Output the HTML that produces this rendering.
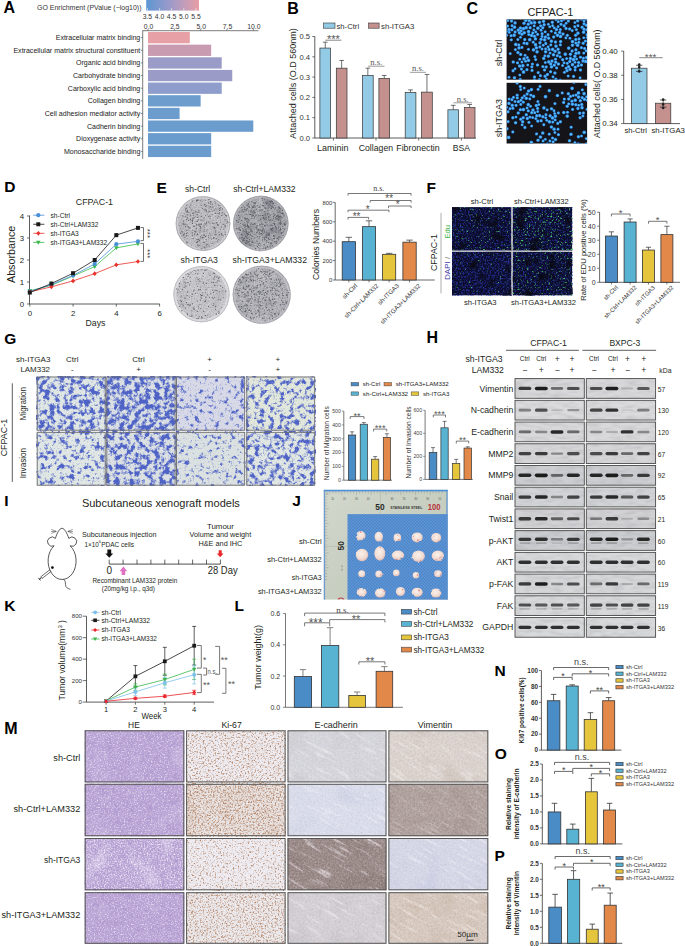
<!DOCTYPE html><html><head><meta charset="utf-8"><style>html,body{margin:0;padding:0;background:#fff;width:685px;height:946px;overflow:hidden}svg{display:block;font-family:"Liberation Sans",sans-serif}</style></head><body>
<svg width="685" height="946" viewBox="0 0 685 946" fill="#231f20" font-size="8">
<rect x="0" y="0" width="685" height="946" fill="#fff"/>
<text x="3.5" y="13.4" font-weight="bold" fill="#000" font-size="16">A</text>
<text x="37" y="9.6" fill="#333" font-size="7" textLength="104.5" lengthAdjust="spacingAndGlyphs">GO Enrichment (PValue (−log10))</text>
<defs><linearGradient id="gA" x1="0" x2="1" y1="0" y2="0"><stop offset="0" stop-color="#5d96d3"/><stop offset="0.5" stop-color="#a39bc8"/><stop offset="1" stop-color="#e99ea5"/></linearGradient></defs>
<rect x="146.2" y="0" width="52.8" height="10.6" fill="url(#gA)"/>
<line x1="147.4" y1="8.2" x2="147.4" y2="10.6" stroke="#fff" stroke-width="0.6"/>
<line x1="159.6" y1="8.2" x2="159.6" y2="10.6" stroke="#fff" stroke-width="0.6"/>
<line x1="171.6" y1="8.2" x2="171.6" y2="10.6" stroke="#fff" stroke-width="0.6"/>
<line x1="183.8" y1="8.2" x2="183.8" y2="10.6" stroke="#fff" stroke-width="0.6"/>
<line x1="196" y1="8.2" x2="196" y2="10.6" stroke="#fff" stroke-width="0.6"/>
<text x="147.4" y="18.8" text-anchor="middle" fill="#333" font-size="6.8">3.5</text>
<text x="159.6" y="18.8" text-anchor="middle" fill="#333" font-size="6.8">4.0</text>
<text x="171.6" y="18.8" text-anchor="middle" fill="#333" font-size="6.8">4.5</text>
<text x="183.8" y="18.8" text-anchor="middle" fill="#333" font-size="6.8">5.0</text>
<text x="196" y="18.8" text-anchor="middle" fill="#333" font-size="6.8">5.5</text>
<line x1="142.7" y1="30.7" x2="258.5" y2="30.7" stroke="#444" stroke-width="0.7"/>
<line x1="142.7" y1="30.4" x2="142.7" y2="158.8" stroke="#444" stroke-width="0.7"/>
<line x1="148" y1="29" x2="148" y2="30.7" stroke="#444" stroke-width="0.6"/>
<text x="148.6" y="29" text-anchor="middle" fill="#333" font-size="6.8">0.0</text>
<line x1="174.32" y1="29" x2="174.32" y2="30.7" stroke="#444" stroke-width="0.6"/>
<text x="174.92" y="29" text-anchor="middle" fill="#333" font-size="6.8">2.5</text>
<line x1="200.65" y1="29" x2="200.65" y2="30.7" stroke="#444" stroke-width="0.6"/>
<text x="201.25" y="29" text-anchor="middle" fill="#333" font-size="6.8">5.0</text>
<line x1="226.97" y1="29" x2="226.97" y2="30.7" stroke="#444" stroke-width="0.6"/>
<text x="227.57" y="29" text-anchor="middle" fill="#333" font-size="6.8">7.5</text>
<line x1="253.3" y1="29" x2="253.3" y2="30.7" stroke="#444" stroke-width="0.6"/>
<text x="253.9" y="29" text-anchor="middle" fill="#333" font-size="6.8">10.0</text>
<rect x="148" y="32" width="41.8" height="11.3" fill="#e7a0a5"/>
<line x1="140.8" y1="37.65" x2="142.7" y2="37.65" stroke="#444" stroke-width="0.6"/>
<text x="140.3" y="40.15" text-anchor="end" fill="#222" font-size="7.05">Extracellular matrix binding</text>
<rect x="148" y="44.64" width="63.18" height="11.3" fill="#c99bb0"/>
<line x1="140.8" y1="50.29" x2="142.7" y2="50.29" stroke="#444" stroke-width="0.6"/>
<text x="140.3" y="52.79" text-anchor="end" fill="#222" font-size="7.05">Extracellular matrix structural constituent</text>
<rect x="148" y="57.28" width="73.71" height="11.3" fill="#9a9bc7"/>
<line x1="140.8" y1="62.93" x2="142.7" y2="62.93" stroke="#444" stroke-width="0.6"/>
<text x="140.3" y="65.43" text-anchor="end" fill="#222" font-size="7.05">Organic acid binding</text>
<rect x="148" y="69.92" width="84.24" height="11.3" fill="#9a9bc7"/>
<line x1="140.8" y1="75.57" x2="142.7" y2="75.57" stroke="#444" stroke-width="0.6"/>
<text x="140.3" y="78.07" text-anchor="end" fill="#222" font-size="7.05">Carbohydrate binding</text>
<rect x="148" y="82.56" width="73.71" height="11.3" fill="#8e9dcb"/>
<line x1="140.8" y1="88.21" x2="142.7" y2="88.21" stroke="#444" stroke-width="0.6"/>
<text x="140.3" y="90.71" text-anchor="end" fill="#222" font-size="7.05">Carboxylic acid binding</text>
<rect x="148" y="95.2" width="52.65" height="11.3" fill="#6c9dcd"/>
<line x1="140.8" y1="100.85" x2="142.7" y2="100.85" stroke="#444" stroke-width="0.6"/>
<text x="140.3" y="103.35" text-anchor="end" fill="#222" font-size="7.05">Collagen binding</text>
<rect x="148" y="107.84" width="31.59" height="11.3" fill="#6b9ccd"/>
<line x1="140.8" y1="113.49" x2="142.7" y2="113.49" stroke="#444" stroke-width="0.6"/>
<text x="140.3" y="115.99" text-anchor="end" fill="#222" font-size="7.05">Cell adhesion mediator activity</text>
<rect x="148" y="120.48" width="105.3" height="11.3" fill="#6a9ccd"/>
<line x1="140.8" y1="126.13" x2="142.7" y2="126.13" stroke="#444" stroke-width="0.6"/>
<text x="140.3" y="128.63" text-anchor="end" fill="#222" font-size="7.05">Cadherin binding</text>
<rect x="148" y="133.12" width="63.18" height="11.3" fill="#6a9ccd"/>
<line x1="140.8" y1="138.77" x2="142.7" y2="138.77" stroke="#444" stroke-width="0.6"/>
<text x="140.3" y="141.27" text-anchor="end" fill="#222" font-size="7.05">Dioxygenase activity</text>
<rect x="148" y="145.76" width="63.18" height="11.3" fill="#6a9ccd"/>
<line x1="140.8" y1="151.41" x2="142.7" y2="151.41" stroke="#444" stroke-width="0.6"/>
<text x="140.3" y="153.91" text-anchor="end" fill="#222" font-size="7.05">Monosaccharide binding</text>
<text x="287.3" y="13.6" font-weight="bold" fill="#000" font-size="16">B</text>
<rect x="323.5" y="23" width="11.5" height="5.2" fill="#93cbe6" stroke="#333" stroke-width="0.6"/>
<text x="336.5" y="28.6" fill="#333" font-size="7.7">sh-Ctrl</text>
<rect x="368.6" y="23" width="10.5" height="5.2" fill="#c4918f" stroke="#333" stroke-width="0.6"/>
<text x="381" y="28.6" fill="#333" font-size="7.8">sh-ITGA3</text>
<line x1="314.8" y1="36.4" x2="314.8" y2="138" stroke="#333" stroke-width="0.8"/>
<line x1="314.8" y1="138" x2="476" y2="138" stroke="#333" stroke-width="0.8"/>
<line x1="312.3" y1="138" x2="314.8" y2="138" stroke="#333" stroke-width="0.7"/>
<text x="310" y="140.7" text-anchor="end" fill="#333" font-size="7.6">0.0</text>
<line x1="312.3" y1="117.7" x2="314.8" y2="117.7" stroke="#333" stroke-width="0.7"/>
<text x="310" y="120.4" text-anchor="end" fill="#333" font-size="7.6">0.1</text>
<line x1="312.3" y1="97.4" x2="314.8" y2="97.4" stroke="#333" stroke-width="0.7"/>
<text x="310" y="100.1" text-anchor="end" fill="#333" font-size="7.6">0.2</text>
<line x1="312.3" y1="77.1" x2="314.8" y2="77.1" stroke="#333" stroke-width="0.7"/>
<text x="310" y="79.8" text-anchor="end" fill="#333" font-size="7.6">0.3</text>
<line x1="312.3" y1="56.8" x2="314.8" y2="56.8" stroke="#333" stroke-width="0.7"/>
<text x="310" y="59.5" text-anchor="end" fill="#333" font-size="7.6">0.4</text>
<line x1="312.3" y1="36.5" x2="314.8" y2="36.5" stroke="#333" stroke-width="0.7"/>
<text x="310" y="39.2" text-anchor="end" fill="#333" font-size="7.6">0.5</text>
<text x="295.75" y="83.5" text-anchor="middle" font-size="8.8" transform="rotate(-90 295.75 83.5)" textLength="110.5" lengthAdjust="spacingAndGlyphs">Attached cells (O.D 560nm)</text>
<line x1="325.25" y1="48.07" x2="325.25" y2="42.18" stroke="#333" stroke-width="0.7"/>
<line x1="322.95" y1="42.18" x2="327.55" y2="42.18" stroke="#333" stroke-width="0.7"/>
<rect x="319.9" y="48.07" width="10.7" height="89.93" fill="#93cbe6" stroke="#333" stroke-width="0.7"/>
<line x1="341.65" y1="68.17" x2="341.65" y2="60.45" stroke="#333" stroke-width="0.7"/>
<line x1="339.35" y1="60.45" x2="343.95" y2="60.45" stroke="#333" stroke-width="0.7"/>
<rect x="336.3" y="68.17" width="10.7" height="69.83" fill="#c4918f" stroke="#333" stroke-width="0.7"/>
<line x1="333.4" y1="138" x2="333.4" y2="140.5" stroke="#333" stroke-width="0.7"/>
<line x1="367.85" y1="75.48" x2="367.85" y2="68.17" stroke="#333" stroke-width="0.7"/>
<line x1="365.55" y1="68.17" x2="370.15" y2="68.17" stroke="#333" stroke-width="0.7"/>
<rect x="362.5" y="75.48" width="10.7" height="62.52" fill="#93cbe6" stroke="#333" stroke-width="0.7"/>
<line x1="384.25" y1="78.52" x2="384.25" y2="75.48" stroke="#333" stroke-width="0.7"/>
<line x1="381.95" y1="75.48" x2="386.55" y2="75.48" stroke="#333" stroke-width="0.7"/>
<rect x="378.9" y="78.52" width="10.7" height="59.48" fill="#c4918f" stroke="#333" stroke-width="0.7"/>
<line x1="376" y1="138" x2="376" y2="140.5" stroke="#333" stroke-width="0.7"/>
<line x1="410.55" y1="92.53" x2="410.55" y2="89.89" stroke="#333" stroke-width="0.7"/>
<line x1="408.25" y1="89.89" x2="412.85" y2="89.89" stroke="#333" stroke-width="0.7"/>
<rect x="405.2" y="92.53" width="10.7" height="45.47" fill="#93cbe6" stroke="#333" stroke-width="0.7"/>
<line x1="426.95" y1="92.12" x2="426.95" y2="74.46" stroke="#333" stroke-width="0.7"/>
<line x1="424.65" y1="74.46" x2="429.25" y2="74.46" stroke="#333" stroke-width="0.7"/>
<rect x="421.6" y="92.12" width="10.7" height="45.88" fill="#c4918f" stroke="#333" stroke-width="0.7"/>
<line x1="418.7" y1="138" x2="418.7" y2="140.5" stroke="#333" stroke-width="0.7"/>
<line x1="453.25" y1="109.78" x2="453.25" y2="105.32" stroke="#333" stroke-width="0.7"/>
<line x1="450.95" y1="105.32" x2="455.55" y2="105.32" stroke="#333" stroke-width="0.7"/>
<rect x="447.9" y="109.78" width="10.7" height="28.22" fill="#93cbe6" stroke="#333" stroke-width="0.7"/>
<line x1="469.65" y1="107.55" x2="469.65" y2="104.5" stroke="#333" stroke-width="0.7"/>
<line x1="467.35" y1="104.5" x2="471.95" y2="104.5" stroke="#333" stroke-width="0.7"/>
<rect x="464.3" y="107.55" width="10.7" height="30.45" fill="#c4918f" stroke="#333" stroke-width="0.7"/>
<line x1="461.4" y1="138" x2="461.4" y2="140.5" stroke="#333" stroke-width="0.7"/>
<text x="332.7" y="150.95" text-anchor="middle" font-size="8.8" textLength="31.4" lengthAdjust="spacingAndGlyphs">Laminin</text>
<text x="375.9" y="150.95" text-anchor="middle" font-size="8.8" textLength="34.3" lengthAdjust="spacingAndGlyphs">Collagen</text>
<text x="418" y="150.95" text-anchor="middle" font-size="8.8" textLength="43.4" lengthAdjust="spacingAndGlyphs">Fibronectin</text>
<text x="461.4" y="150.95" text-anchor="middle" font-size="8.8" textLength="17.2" lengthAdjust="spacingAndGlyphs">BSA</text>
<line x1="325.3" y1="40.2" x2="341.4" y2="40.2" stroke="#555" stroke-width="0.7"/>
<text x="333.4" y="42.52" text-anchor="middle" fill="#555" font-size="11">***</text>
<line x1="368.1" y1="66.2" x2="384.5" y2="66.2" stroke="#555" stroke-width="0.6"/>
<text x="376.3" y="65.3" text-anchor="middle" fill="#555" font-size="8.6" style="font-family:Liberation Serif">n.s.</text>
<line x1="410" y1="72.3" x2="426" y2="72.3" stroke="#555" stroke-width="0.6"/>
<text x="418" y="71.4" text-anchor="middle" fill="#555" font-size="8.6" style="font-family:Liberation Serif">n.s.</text>
<line x1="453.4" y1="102.8" x2="472" y2="102.8" stroke="#555" stroke-width="0.6"/>
<text x="462.7" y="101.9" text-anchor="middle" fill="#555" font-size="8.6" style="font-family:Liberation Serif">n.s.</text>
<text x="466.4" y="13.5" font-weight="bold" fill="#000" font-size="16">C</text>
<text x="550.4" y="16.45" text-anchor="middle" font-size="10.2" textLength="46" lengthAdjust="spacingAndGlyphs">CFPAC-1</text>
<defs><filter id="nb" x="-5%" y="-5%" width="110%" height="110%"><feGaussianBlur stdDeviation="0.35"/></filter><radialGradient id="gN"><stop offset="0" stop-color="#66ccff"/><stop offset="0.55" stop-color="#42a8f2"/><stop offset="1" stop-color="#2a6ecc"/></radialGradient></defs>
<rect x="506.6" y="19.4" width="80.5" height="60.3" fill="#141419"/>
<clipPath id="cc1"><rect x="506.6" y="19.4" width="80.5" height="60.3"/></clipPath>
<g clip-path="url(#cc1)"><g fill="url(#gN)" filter="url(#nb)"><circle cx="562.69" cy="59.73" r="1.75"/><circle cx="580.49" cy="57.2" r="1.66"/><circle cx="555.48" cy="42.01" r="1.69"/><circle cx="569.76" cy="61.53" r="1.76"/><circle cx="570.46" cy="54.19" r="1.76"/><circle cx="581.37" cy="47.69" r="1.67"/><circle cx="583.74" cy="37.72" r="1.52"/><circle cx="566.08" cy="23.23" r="1.55"/><circle cx="562.56" cy="65.51" r="1.55"/><circle cx="543.24" cy="45.23" r="1.57"/><circle cx="566.15" cy="68.13" r="1.53"/><circle cx="511.51" cy="21.09" r="1.75"/><circle cx="543.72" cy="58.39" r="1.78"/><circle cx="539.88" cy="47.03" r="1.69"/><circle cx="527.7" cy="64.98" r="1.53"/><circle cx="560.32" cy="80.05" r="1.5"/><circle cx="574.84" cy="56.33" r="1.8"/><circle cx="514.15" cy="35.21" r="1.86"/><circle cx="567.3" cy="63.33" r="1.59"/><circle cx="539.32" cy="79.71" r="1.69"/><circle cx="521.4" cy="69.11" r="1.6"/><circle cx="531.84" cy="66.86" r="1.63"/><circle cx="585.42" cy="41.09" r="1.69"/><circle cx="575.1" cy="70.11" r="1.52"/><circle cx="544.56" cy="69.98" r="1.68"/><circle cx="526.97" cy="43.58" r="1.8"/><circle cx="587.33" cy="44.78" r="1.55"/><circle cx="588.97" cy="26.86" r="1.78"/><circle cx="545.32" cy="62.47" r="1.54"/><circle cx="534.42" cy="36.27" r="1.75"/><circle cx="545.4" cy="36.91" r="1.7"/><circle cx="512.05" cy="25.65" r="1.54"/><circle cx="528.52" cy="60.38" r="1.79"/><circle cx="558.3" cy="21.64" r="1.61"/><circle cx="517.84" cy="39.53" r="1.57"/><circle cx="587.11" cy="34.67" r="1.68"/><circle cx="586.86" cy="29.76" r="1.8"/><circle cx="525.66" cy="61.16" r="1.6"/><circle cx="583.72" cy="53.11" r="1.6"/><circle cx="569.59" cy="28.93" r="1.7"/><circle cx="533.82" cy="29.82" r="1.55"/><circle cx="540.67" cy="25.86" r="1.66"/><circle cx="577.63" cy="45.17" r="1.87"/><circle cx="582.13" cy="27.28" r="1.8"/><circle cx="548.06" cy="46.84" r="1.59"/><circle cx="588.68" cy="18.62" r="1.58"/><circle cx="575" cy="62.25" r="1.54"/><circle cx="532.78" cy="33.03" r="1.66"/><circle cx="555.37" cy="32.88" r="1.68"/><circle cx="573.43" cy="59.65" r="1.87"/><circle cx="545.77" cy="43.49" r="1.65"/><circle cx="528.77" cy="34.52" r="1.63"/><circle cx="515.14" cy="31.96" r="1.69"/><circle cx="517.51" cy="62.84" r="1.68"/><circle cx="519.66" cy="65.98" r="1.84"/><circle cx="570.41" cy="58.39" r="1.8"/><circle cx="522.88" cy="65.69" r="1.84"/><circle cx="528.45" cy="49.3" r="1.52"/><circle cx="565.26" cy="54.19" r="1.84"/><circle cx="584.06" cy="23.79" r="1.68"/><circle cx="572.48" cy="64.65" r="1.82"/><circle cx="532.42" cy="64.03" r="1.61"/><circle cx="523.57" cy="71.99" r="1.89"/><circle cx="544.68" cy="39.78" r="1.88"/><circle cx="569.91" cy="38.17" r="1.52"/><circle cx="564.41" cy="72.34" r="1.57"/><circle cx="520.47" cy="37.33" r="1.51"/><circle cx="568.19" cy="75.94" r="1.55"/><circle cx="533.45" cy="49.89" r="1.83"/><circle cx="520.69" cy="54.51" r="1.73"/><circle cx="534.67" cy="22.61" r="1.8"/><circle cx="566.06" cy="28.48" r="1.73"/><circle cx="561.02" cy="24.3" r="1.67"/><circle cx="578.63" cy="62.56" r="1.69"/><circle cx="555.07" cy="51.26" r="1.8"/><circle cx="544.9" cy="55.71" r="1.51"/><circle cx="553" cy="76.85" r="1.55"/><circle cx="560.2" cy="56.77" r="1.61"/><circle cx="510.25" cy="53.6" r="1.53"/><circle cx="540.45" cy="75.68" r="1.61"/><circle cx="542.07" cy="36.43" r="1.59"/><circle cx="575.24" cy="67.27" r="1.71"/><circle cx="554.3" cy="27.82" r="1.57"/><circle cx="575.9" cy="49.7" r="1.74"/><circle cx="531.28" cy="22.89" r="1.82"/><circle cx="578.7" cy="52.83" r="1.87"/><circle cx="545.66" cy="51.73" r="1.85"/><circle cx="576.57" cy="59.07" r="1.55"/><circle cx="526.12" cy="27.7" r="1.9"/><circle cx="586.35" cy="25.33" r="1.73"/><circle cx="507.55" cy="26.06" r="1.66"/><circle cx="550.58" cy="71.75" r="1.7"/><circle cx="532.05" cy="70.4" r="1.7"/><circle cx="559.12" cy="52.73" r="1.85"/><circle cx="536.4" cy="47.8" r="1.84"/><circle cx="537.91" cy="28.16" r="1.9"/><circle cx="541.07" cy="30.19" r="1.59"/><circle cx="553.52" cy="54.76" r="1.85"/><circle cx="546.34" cy="79.02" r="1.51"/><circle cx="549.04" cy="49.42" r="1.72"/><circle cx="535.47" cy="38.88" r="1.78"/><circle cx="528.53" cy="31.52" r="1.88"/><circle cx="584.6" cy="48.46" r="1.65"/><circle cx="584.02" cy="21.09" r="1.57"/><circle cx="572.1" cy="51.06" r="1.74"/><circle cx="545.06" cy="76.29" r="1.73"/><circle cx="550.65" cy="63.85" r="1.82"/><circle cx="534.18" cy="25.81" r="1.62"/><circle cx="575.75" cy="39.44" r="1.71"/><circle cx="534.86" cy="56.59" r="1.61"/><circle cx="560.33" cy="29.58" r="1.64"/><circle cx="534.52" cy="76.94" r="1.7"/><circle cx="514.57" cy="27.13" r="1.84"/><circle cx="550.76" cy="44.86" r="1.54"/><circle cx="558.11" cy="26.62" r="1.55"/><circle cx="568.61" cy="66.72" r="1.81"/><circle cx="545.22" cy="31.75" r="1.6"/><circle cx="581.72" cy="18.95" r="1.88"/><circle cx="539.98" cy="42.87" r="1.82"/><circle cx="566.63" cy="58.51" r="1.51"/><circle cx="549.73" cy="26.71" r="1.57"/><circle cx="574.77" cy="26.71" r="1.6"/><circle cx="583.17" cy="43.23" r="1.76"/><circle cx="524.07" cy="43.14" r="1.69"/><circle cx="544.13" cy="24.67" r="1.79"/><circle cx="552.65" cy="49.39" r="1.87"/><circle cx="550.87" cy="80.9" r="1.66"/><circle cx="580.49" cy="69.96" r="1.7"/><circle cx="517.52" cy="18.02" r="1.54"/><circle cx="537.62" cy="34.39" r="1.61"/><circle cx="523.46" cy="28.64" r="1.83"/><circle cx="519.45" cy="32.89" r="1.8"/><circle cx="515.77" cy="44.48" r="1.88"/><circle cx="576.62" cy="17.73" r="1.86"/><circle cx="588.12" cy="22.26" r="1.6"/><circle cx="586.46" cy="57.47" r="1.72"/><circle cx="525.78" cy="20.34" r="1.88"/><circle cx="561.55" cy="20.79" r="1.66"/><circle cx="521.94" cy="34.22" r="1.67"/><circle cx="526.92" cy="69.63" r="1.69"/><circle cx="580.12" cy="77.65" r="1.52"/><circle cx="529.21" cy="20.59" r="1.86"/><circle cx="555.53" cy="59.2" r="1.62"/><circle cx="515.06" cy="68.72" r="1.53"/><circle cx="507.58" cy="20.38" r="1.72"/><circle cx="579.01" cy="38.99" r="1.73"/><circle cx="506.58" cy="35.14" r="1.65"/><circle cx="504.85" cy="24.76" r="1.68"/><circle cx="533.24" cy="42.18" r="1.62"/><circle cx="560.52" cy="36.4" r="1.87"/><circle cx="578.2" cy="65.66" r="1.7"/><circle cx="583.66" cy="32.13" r="1.87"/><circle cx="509.02" cy="77.29" r="1.51"/><circle cx="564.17" cy="25.83" r="1.81"/><circle cx="548.63" cy="38.19" r="1.76"/><circle cx="584.03" cy="29.24" r="1.76"/><circle cx="511.06" cy="35.65" r="1.65"/><circle cx="575.65" cy="35.17" r="1.73"/><circle cx="524.3" cy="32.78" r="1.82"/><circle cx="548.33" cy="56.13" r="1.8"/><circle cx="555.91" cy="79.28" r="1.77"/><circle cx="587.16" cy="37.41" r="1.52"/><circle cx="529.75" cy="39.65" r="1.88"/><circle cx="528.24" cy="24.19" r="1.73"/><circle cx="511.28" cy="39.85" r="1.7"/><circle cx="558.07" cy="49.29" r="1.7"/><circle cx="518.32" cy="30.07" r="1.87"/><circle cx="524.76" cy="39.55" r="1.71"/><circle cx="562.97" cy="34.05" r="1.76"/><circle cx="555.67" cy="62.2" r="1.77"/><circle cx="535.67" cy="59.54" r="1.61"/><circle cx="508.95" cy="29.5" r="1.63"/><circle cx="515.06" cy="22.93" r="1.82"/><circle cx="545.55" cy="48.78" r="1.51"/><circle cx="535.55" cy="44.72" r="1.86"/><circle cx="572.21" cy="30.6" r="1.56"/><circle cx="568.33" cy="21.05" r="1.73"/><circle cx="548.75" cy="61.89" r="1.8"/><circle cx="554.92" cy="73.03" r="1.82"/><circle cx="519.79" cy="59.19" r="1.53"/><circle cx="577.7" cy="20.77" r="1.85"/><circle cx="542.06" cy="49.01" r="1.56"/><circle cx="535.76" cy="31.86" r="1.54"/><circle cx="538.22" cy="72.61" r="1.67"/><circle cx="546.16" cy="66.94" r="1.72"/><circle cx="575.78" cy="43.03" r="1.6"/><circle cx="524.04" cy="58.87" r="1.86"/><circle cx="560.61" cy="41.54" r="1.78"/><circle cx="539.46" cy="22.37" r="1.76"/><circle cx="537.52" cy="65.03" r="1.72"/><circle cx="577.95" cy="25.68" r="1.61"/><circle cx="565.83" cy="37.86" r="1.54"/><circle cx="572.45" cy="45.21" r="1.79"/><circle cx="542.79" cy="27.79" r="1.67"/><circle cx="527.31" cy="57.5" r="1.62"/><circle cx="568.71" cy="48.12" r="1.86"/><circle cx="559.72" cy="32.41" r="1.83"/><circle cx="563.99" cy="19.08" r="1.87"/><circle cx="518.82" cy="44.76" r="1.59"/><circle cx="574.87" cy="22.51" r="1.52"/><circle cx="533.36" cy="19.21" r="1.54"/><circle cx="542.1" cy="33.65" r="1.68"/><circle cx="560.39" cy="44.85" r="1.62"/><circle cx="586.28" cy="50.82" r="1.65"/><circle cx="557.32" cy="55.63" r="1.6"/><circle cx="509.25" cy="17.94" r="1.7"/><circle cx="583.09" cy="60.92" r="1.87"/><circle cx="531.53" cy="35.48" r="1.83"/><circle cx="509.27" cy="32.35" r="1.53"/><circle cx="506.3" cy="31.16" r="1.59"/><circle cx="556.01" cy="46.12" r="1.88"/><circle cx="577.91" cy="33.16" r="1.81"/><circle cx="519.01" cy="47.88" r="1.84"/><circle cx="548.39" cy="24.26" r="1.54"/><circle cx="576.36" cy="29.58" r="1.57"/><circle cx="585.98" cy="19.14" r="1.69"/><circle cx="583.46" cy="58.11" r="1.54"/><circle cx="513.21" cy="62.06" r="1.76"/><circle cx="551.98" cy="61.12" r="1.8"/><circle cx="576.01" cy="53.34" r="1.8"/><circle cx="557.5" cy="35.31" r="1.82"/><circle cx="543.53" cy="21.31" r="1.82"/><circle cx="530.17" cy="27.7" r="1.77"/><circle cx="547.45" cy="74.47" r="1.7"/><circle cx="505.1" cy="17.95" r="1.58"/><circle cx="551.47" cy="66.9" r="1.8"/><circle cx="552.3" cy="22.3" r="1.76"/><circle cx="534.42" cy="79.88" r="1.63"/><circle cx="514.45" cy="77.77" r="1.79"/><circle cx="521.89" cy="61.99" r="1.52"/><circle cx="564.07" cy="62.76" r="1.54"/><circle cx="519.79" cy="75.1" r="1.52"/><circle cx="515.4" cy="49.6" r="1.57"/><circle cx="554.26" cy="65.19" r="1.71"/><circle cx="573.57" cy="76.42" r="1.64"/><circle cx="552.62" cy="25.65" r="1.53"/><circle cx="558.41" cy="64.03" r="1.83"/><circle cx="551.34" cy="31.22" r="1.54"/><circle cx="523.98" cy="23.24" r="1.8"/><circle cx="572.45" cy="41.6" r="1.86"/><circle cx="553.69" cy="37.07" r="1.74"/><circle cx="567" cy="70.76" r="1.81"/><circle cx="556.61" cy="67.9" r="1.62"/><circle cx="517.94" cy="52.57" r="1.77"/><circle cx="520.24" cy="79.72" r="1.87"/><circle cx="520.37" cy="27.96" r="1.78"/><circle cx="581.41" cy="65.04" r="1.74"/><circle cx="542.84" cy="66.53" r="1.63"/><circle cx="548.03" cy="34.69" r="1.69"/><circle cx="570.1" cy="69.37" r="1.81"/><circle cx="521.97" cy="47.45" r="1.58"/><circle cx="512.96" cy="18.15" r="1.51"/><circle cx="556.46" cy="29.58" r="1.78"/><circle cx="551.37" cy="41.16" r="1.82"/><circle cx="550.1" cy="52.96" r="1.53"/><circle cx="567.39" cy="35.34" r="1.68"/><circle cx="585.75" cy="61.43" r="1.89"/><circle cx="513.07" cy="70.78" r="1.71"/><circle cx="537.07" cy="51.83" r="1.85"/><circle cx="525.08" cy="55.28" r="1.56"/><circle cx="578.8" cy="42.34" r="1.68"/><circle cx="511.83" cy="29.76" r="1.76"/><circle cx="521.25" cy="30.82" r="1.59"/><circle cx="541.09" cy="39.37" r="1.82"/><circle cx="556.08" cy="19.53" r="1.66"/></g></g>
<rect x="506.6" y="82.8" width="80.5" height="60.7" fill="#141419"/>
<clipPath id="cc2"><rect x="506.6" y="82.8" width="80.5" height="60.7"/></clipPath>
<g clip-path="url(#cc2)"><g fill="url(#gN)" filter="url(#nb)"><circle cx="520.76" cy="104.4" r="1.53"/><circle cx="532.65" cy="117.55" r="1.57"/><circle cx="568.69" cy="103.83" r="1.59"/><circle cx="557.7" cy="123.38" r="1.62"/><circle cx="577.87" cy="108.48" r="1.71"/><circle cx="522.26" cy="97.82" r="1.67"/><circle cx="530.81" cy="95.09" r="1.6"/><circle cx="545.92" cy="114.63" r="1.52"/><circle cx="517.27" cy="97.93" r="1.67"/><circle cx="528.33" cy="110.87" r="1.71"/><circle cx="570.48" cy="96.42" r="1.68"/><circle cx="584.47" cy="99.28" r="1.84"/><circle cx="550.11" cy="115.87" r="1.8"/><circle cx="571.17" cy="127.13" r="1.61"/><circle cx="518.45" cy="101.7" r="1.75"/><circle cx="516.09" cy="105.36" r="1.67"/><circle cx="522.7" cy="121.85" r="1.77"/><circle cx="581.73" cy="104.46" r="1.73"/><circle cx="572.39" cy="104.21" r="1.81"/><circle cx="564.34" cy="99.08" r="1.66"/><circle cx="572.59" cy="109.4" r="1.65"/><circle cx="557.42" cy="95.59" r="1.76"/><circle cx="578.49" cy="92.97" r="1.87"/><circle cx="529.78" cy="98.81" r="1.6"/><circle cx="520.76" cy="119.19" r="1.72"/><circle cx="537.65" cy="108.39" r="1.66"/><circle cx="571" cy="134.24" r="1.85"/><circle cx="587.39" cy="100.37" r="1.73"/><circle cx="587.18" cy="109.37" r="1.73"/><circle cx="545.54" cy="96.65" r="1.87"/><circle cx="552.53" cy="117.93" r="1.89"/><circle cx="552.76" cy="122.09" r="1.55"/><circle cx="567.53" cy="112.25" r="1.61"/><circle cx="541.56" cy="144.47" r="1.81"/><circle cx="582.02" cy="107.72" r="1.87"/><circle cx="545.36" cy="139.33" r="1.5"/><circle cx="549.45" cy="121.8" r="1.88"/><circle cx="526.24" cy="98.37" r="1.83"/><circle cx="543.08" cy="140.89" r="1.52"/><circle cx="523.36" cy="109.6" r="1.89"/><circle cx="527.32" cy="118.47" r="1.74"/><circle cx="533.54" cy="96.39" r="1.82"/><circle cx="537.8" cy="121.12" r="1.77"/><circle cx="512.8" cy="131.93" r="1.64"/><circle cx="578.19" cy="144.1" r="1.87"/><circle cx="549.26" cy="134.13" r="1.52"/><circle cx="513.46" cy="97.37" r="1.58"/><circle cx="523.26" cy="117.73" r="1.71"/><circle cx="547.18" cy="143.84" r="1.62"/><circle cx="562.22" cy="92.93" r="1.63"/><circle cx="528.92" cy="122.36" r="1.66"/><circle cx="563.64" cy="102.45" r="1.69"/><circle cx="520.66" cy="89.54" r="1.52"/><circle cx="512.84" cy="117.71" r="1.71"/><circle cx="574.9" cy="142.74" r="1.62"/><circle cx="554.07" cy="129.18" r="1.82"/><circle cx="520.34" cy="109.69" r="1.67"/><circle cx="575.2" cy="100.16" r="1.85"/><circle cx="539.6" cy="115.6" r="1.78"/><circle cx="560.38" cy="121.81" r="1.73"/><circle cx="527.15" cy="94.03" r="1.72"/><circle cx="585.81" cy="84.5" r="1.55"/><circle cx="520.88" cy="100.31" r="1.61"/><circle cx="515.6" cy="122.76" r="1.74"/><circle cx="540.46" cy="137.02" r="1.84"/><circle cx="524.26" cy="87.95" r="1.54"/><circle cx="576.08" cy="95.05" r="1.67"/><circle cx="537.7" cy="111.59" r="1.52"/><circle cx="580.94" cy="144.4" r="1.59"/><circle cx="524.88" cy="127.47" r="1.66"/><circle cx="554.91" cy="103.58" r="1.63"/><circle cx="529.86" cy="117.11" r="1.62"/><circle cx="573.22" cy="95.53" r="1.5"/><circle cx="547.17" cy="109.87" r="1.57"/><circle cx="580.31" cy="100.75" r="1.8"/><circle cx="526.31" cy="114.77" r="1.76"/><circle cx="578.41" cy="136.66" r="1.72"/><circle cx="507.02" cy="128.71" r="1.72"/><circle cx="531.41" cy="89.61" r="1.81"/><circle cx="538.84" cy="104.54" r="1.52"/><circle cx="543.77" cy="124.66" r="1.59"/><circle cx="555.18" cy="119.94" r="1.58"/><circle cx="532.98" cy="110.12" r="1.86"/><circle cx="582.95" cy="115.94" r="1.58"/><circle cx="555.38" cy="116.18" r="1.82"/><circle cx="551.39" cy="127.03" r="1.77"/><circle cx="536.55" cy="133.91" r="1.63"/><circle cx="536.28" cy="105.49" r="1.77"/><circle cx="582.23" cy="97.62" r="1.68"/><circle cx="541.12" cy="120.79" r="1.7"/><circle cx="552.53" cy="138.01" r="1.61"/><circle cx="575.85" cy="104.76" r="1.73"/><circle cx="506.29" cy="107.22" r="1.81"/><circle cx="553.16" cy="141.82" r="1.63"/><circle cx="509.96" cy="108.68" r="1.56"/><circle cx="579.83" cy="113.2" r="1.7"/><circle cx="554.03" cy="110.66" r="1.55"/><circle cx="588.8" cy="135.37" r="1.79"/><circle cx="568.71" cy="99.09" r="1.72"/><circle cx="584.06" cy="93.63" r="1.89"/><circle cx="536.76" cy="115.69" r="1.72"/><circle cx="583.48" cy="112.92" r="1.58"/><circle cx="535.82" cy="118.59" r="1.54"/><circle cx="586.38" cy="138.56" r="1.61"/><circle cx="507.99" cy="111.77" r="1.72"/><circle cx="518.22" cy="113.11" r="1.76"/><circle cx="538" cy="140.23" r="1.82"/><circle cx="563.78" cy="112.55" r="1.82"/><circle cx="524.37" cy="95.84" r="1.54"/><circle cx="511.93" cy="99.63" r="1.7"/><circle cx="580.11" cy="117.72" r="1.69"/><circle cx="572.11" cy="88.33" r="1.87"/><circle cx="554.68" cy="113.52" r="1.51"/><circle cx="527.05" cy="108.01" r="1.61"/><circle cx="517.13" cy="83.01" r="1.82"/><circle cx="586.19" cy="143.72" r="1.52"/><circle cx="581.49" cy="136.03" r="1.56"/><circle cx="531.61" cy="125.91" r="1.52"/><circle cx="584.2" cy="132.37" r="1.88"/><circle cx="549.28" cy="90.64" r="1.82"/><circle cx="517.17" cy="95.15" r="1.68"/><circle cx="538.11" cy="89.35" r="1.61"/><circle cx="508.95" cy="103.39" r="1.82"/><circle cx="512.23" cy="105.35" r="1.81"/><circle cx="542.78" cy="132.98" r="1.85"/><circle cx="515.97" cy="116.96" r="1.53"/><circle cx="528.58" cy="91.08" r="1.78"/><circle cx="546.75" cy="120.32" r="1.52"/><circle cx="558.36" cy="112.9" r="1.6"/><circle cx="537.86" cy="101.45" r="1.57"/><circle cx="551.52" cy="108.78" r="1.73"/><circle cx="567.24" cy="116.15" r="1.8"/><circle cx="549.89" cy="140.92" r="1.57"/><circle cx="540" cy="86.39" r="1.64"/><circle cx="586.62" cy="96.79" r="1.52"/><circle cx="567.19" cy="106.19" r="1.81"/><circle cx="555.53" cy="139.53" r="1.75"/><circle cx="526.19" cy="144.4" r="1.67"/><circle cx="582.33" cy="89.85" r="1.57"/><circle cx="578.4" cy="81.38" r="1.51"/><circle cx="508.08" cy="121.62" r="1.63"/><circle cx="542.91" cy="116.83" r="1.78"/><circle cx="578.6" cy="97.02" r="1.88"/><circle cx="534.74" cy="112.64" r="1.57"/><circle cx="520.35" cy="86.5" r="1.71"/><circle cx="509.11" cy="99" r="1.5"/><circle cx="554.88" cy="132.44" r="1.56"/><circle cx="530.49" cy="106.22" r="1.56"/><circle cx="545.7" cy="117.78" r="1.52"/><circle cx="531.71" cy="112.67" r="1.72"/><circle cx="558.43" cy="134.64" r="1.64"/><circle cx="578.74" cy="105.2" r="1.54"/><circle cx="522.15" cy="124.75" r="1.56"/><circle cx="568.34" cy="93.71" r="1.79"/><circle cx="571.95" cy="101.18" r="1.68"/><circle cx="512.82" cy="108.31" r="1.72"/><circle cx="543.94" cy="107.89" r="1.84"/><circle cx="573.92" cy="82.07" r="1.86"/><circle cx="515.08" cy="101.51" r="1.55"/><circle cx="528.27" cy="104.6" r="1.84"/><circle cx="531.34" cy="142.31" r="1.82"/><circle cx="569.52" cy="140.73" r="1.8"/><circle cx="508.68" cy="137.45" r="1.87"/><circle cx="523.33" cy="102.16" r="1.61"/><circle cx="558.02" cy="129.17" r="1.57"/></g></g>
<text x="501.82" y="53.1" text-anchor="middle" font-size="9" transform="rotate(-90 501.82 53.1)" textLength="26.5" lengthAdjust="spacingAndGlyphs">sh-Ctrl</text>
<text x="501.82" y="118.2" text-anchor="middle" font-size="9" transform="rotate(-90 501.82 118.2)" textLength="38.2" lengthAdjust="spacingAndGlyphs">sh-ITGA3</text>
<line x1="623.7" y1="51.1" x2="623.7" y2="123.6" stroke="#333" stroke-width="0.8"/>
<line x1="623.7" y1="123.6" x2="680" y2="123.6" stroke="#333" stroke-width="0.8"/>
<line x1="621.1" y1="123.6" x2="623.7" y2="123.6" stroke="#333" stroke-width="0.7"/>
<text x="610" y="126.43" text-anchor="middle" font-size="7.9" textLength="15.4" lengthAdjust="spacingAndGlyphs">0.34</text>
<line x1="621.1" y1="99.43" x2="623.7" y2="99.43" stroke="#333" stroke-width="0.7"/>
<text x="610" y="102.26" text-anchor="middle" font-size="7.9" textLength="15.4" lengthAdjust="spacingAndGlyphs">0.36</text>
<line x1="621.1" y1="75.26" x2="623.7" y2="75.26" stroke="#333" stroke-width="0.7"/>
<text x="610" y="78.09" text-anchor="middle" font-size="7.9" textLength="15.4" lengthAdjust="spacingAndGlyphs">0.38</text>
<line x1="621.1" y1="51.09" x2="623.7" y2="51.09" stroke="#333" stroke-width="0.7"/>
<text x="610" y="53.92" text-anchor="middle" font-size="7.9" textLength="15.4" lengthAdjust="spacingAndGlyphs">0.40</text>
<text x="599.95" y="83.7" text-anchor="middle" font-size="8.8" transform="rotate(-90 599.95 83.7)" textLength="108.5" lengthAdjust="spacingAndGlyphs">Attached cells( O.D 560nm)</text>
<rect x="631.4" y="68.2" width="15.6" height="55.4" fill="#93cbe6" stroke="#333" stroke-width="0.7"/>
<line x1="639.2" y1="65.3" x2="639.2" y2="71.4" stroke="#222" stroke-width="0.7"/>
<line x1="636" y1="65.3" x2="642.4" y2="65.3" stroke="#222" stroke-width="0.7"/>
<line x1="636" y1="71.4" x2="642.4" y2="71.4" stroke="#222" stroke-width="0.7"/>
<circle cx="639.2" cy="64.5" r="1.3" fill="#222"/>
<circle cx="639.2" cy="67" r="1.3" fill="#222"/>
<circle cx="639.2" cy="71.4" r="1.3" fill="#222"/>
<rect x="655.5" y="103.2" width="15.3" height="20.4" fill="#c4918f" stroke="#333" stroke-width="0.7"/>
<line x1="663.15" y1="100" x2="663.15" y2="107.2" stroke="#222" stroke-width="0.7"/>
<line x1="659.95" y1="100" x2="666.35" y2="100" stroke="#222" stroke-width="0.7"/>
<line x1="659.95" y1="107.2" x2="666.35" y2="107.2" stroke="#222" stroke-width="0.7"/>
<circle cx="663.15" cy="99.6" r="1.3" fill="#222"/>
<circle cx="663.15" cy="104.4" r="1.3" fill="#222"/>
<circle cx="663.15" cy="108" r="1.3" fill="#222"/>
<line x1="639.3" y1="57.7" x2="662.7" y2="57.7" stroke="#555" stroke-width="0.7"/>
<text x="650.6" y="60" text-anchor="middle" fill="#555" font-size="9.8">***</text>
<text x="635.7" y="132.96" text-anchor="middle" font-size="7.7" textLength="22.6" lengthAdjust="spacingAndGlyphs">sh-Ctrl</text>
<text x="668.2" y="132.99" text-anchor="middle" font-size="7.8" textLength="33.6" lengthAdjust="spacingAndGlyphs">sh-ITGA3</text>
<text x="4.2" y="192.3" font-weight="bold" fill="#000" font-size="15.5">D</text>
<text x="94.4" y="204.75" text-anchor="middle" font-size="8.8" textLength="37.3" lengthAdjust="spacingAndGlyphs">CFPAC-1</text>
<line x1="29.5" y1="215.5" x2="29.5" y2="304" stroke="#333" stroke-width="0.8"/>
<line x1="29.5" y1="304" x2="159.8" y2="304" stroke="#333" stroke-width="0.8"/>
<line x1="27" y1="304" x2="29.5" y2="304" stroke="#333" stroke-width="0.7"/>
<text x="24.2" y="306.79" text-anchor="end" font-size="7.8">0</text>
<line x1="27" y1="282" x2="29.5" y2="282" stroke="#333" stroke-width="0.7"/>
<text x="24.2" y="284.79" text-anchor="end" font-size="7.8">1</text>
<line x1="27" y1="260" x2="29.5" y2="260" stroke="#333" stroke-width="0.7"/>
<text x="24.2" y="262.79" text-anchor="end" font-size="7.8">2</text>
<line x1="27" y1="238" x2="29.5" y2="238" stroke="#333" stroke-width="0.7"/>
<text x="24.2" y="240.79" text-anchor="end" font-size="7.8">3</text>
<line x1="27" y1="216" x2="29.5" y2="216" stroke="#333" stroke-width="0.7"/>
<text x="24.2" y="218.79" text-anchor="end" font-size="7.8">4</text>
<line x1="29.8" y1="304" x2="29.8" y2="306.6" stroke="#333" stroke-width="0.7"/>
<text x="29.8" y="316.09" text-anchor="middle" font-size="7.8">0</text>
<line x1="73.06" y1="304" x2="73.06" y2="306.6" stroke="#333" stroke-width="0.7"/>
<text x="73.06" y="316.09" text-anchor="middle" font-size="7.8">2</text>
<line x1="116.32" y1="304" x2="116.32" y2="306.6" stroke="#333" stroke-width="0.7"/>
<text x="116.32" y="316.09" text-anchor="middle" font-size="7.8">4</text>
<line x1="159.58" y1="304" x2="159.58" y2="306.6" stroke="#333" stroke-width="0.7"/>
<text x="159.58" y="316.09" text-anchor="middle" font-size="7.8">6</text>
<text x="95.5" y="326.31" text-anchor="middle" font-size="8.7" textLength="19.9" lengthAdjust="spacingAndGlyphs">Days</text>
<text x="15.03" y="254.4" text-anchor="middle" font-size="10.7" transform="rotate(-90 15.03 254.4)" textLength="57.2" lengthAdjust="spacingAndGlyphs">Absorbance</text>
<polyline points="29.8,290.8 51.43,285.3 73.06,276.06 94.69,266.6 116.32,247.9 137.95,243.94" fill="none" stroke="#3dba4e" stroke-width="0.8"/>
<polyline points="29.8,291.46 51.43,284.64 73.06,275.4 94.69,263.96 116.32,244.16 137.95,241.3" fill="none" stroke="#4a90d9" stroke-width="0.8"/>
<polyline points="29.8,291.9 51.43,286.84 73.06,280.9 94.69,273.64 116.32,264.84 137.95,261.54" fill="none" stroke="#e8322b" stroke-width="0.8"/>
<polyline points="29.8,292.56 51.43,283.54 73.06,273.2 94.69,260 116.32,235.14 137.95,227.88" fill="none" stroke="#1a1a1a" stroke-width="0.8"/>
<path d="M27.49 289.12L32.11 289.12L29.8 293.11Z" fill="#3dba4e"/>
<path d="M49.12 283.62L53.74 283.62L51.43 287.61Z" fill="#3dba4e"/>
<path d="M70.75 274.38L75.37 274.38L73.06 278.37Z" fill="#3dba4e"/>
<path d="M92.38 264.92L97 264.92L94.69 268.91Z" fill="#3dba4e"/>
<path d="M114.01 246.22L118.63 246.22L116.32 250.21Z" fill="#3dba4e"/>
<path d="M135.64 242.26L140.26 242.26L137.95 246.25Z" fill="#3dba4e"/>
<circle cx="29.8" cy="291.46" r="2.1" fill="#4a90d9"/>
<circle cx="51.43" cy="284.64" r="2.1" fill="#4a90d9"/>
<circle cx="73.06" cy="275.4" r="2.1" fill="#4a90d9"/>
<circle cx="94.69" cy="263.96" r="2.1" fill="#4a90d9"/>
<circle cx="116.32" cy="244.16" r="2.1" fill="#4a90d9"/>
<circle cx="137.95" cy="241.3" r="2.1" fill="#4a90d9"/>
<path d="M29.8 289.59L31.9 291.9L29.8 294.21L27.7 291.9Z" fill="#e8322b"/>
<path d="M51.43 284.53L53.53 286.84L51.43 289.15L49.33 286.84Z" fill="#e8322b"/>
<path d="M73.06 278.59L75.16 280.9L73.06 283.21L70.96 280.9Z" fill="#e8322b"/>
<path d="M94.69 271.33L96.79 273.64L94.69 275.95L92.59 273.64Z" fill="#e8322b"/>
<path d="M116.32 262.53L118.42 264.84L116.32 267.15L114.22 264.84Z" fill="#e8322b"/>
<path d="M137.95 259.23L140.05 261.54L137.95 263.85L135.85 261.54Z" fill="#e8322b"/>
<rect x="27.8" y="290.56" width="4" height="4" fill="#1a1a1a"/>
<rect x="49.43" y="281.54" width="4" height="4" fill="#1a1a1a"/>
<rect x="71.06" y="271.2" width="4" height="4" fill="#1a1a1a"/>
<rect x="92.69" y="258" width="4" height="4" fill="#1a1a1a"/>
<rect x="114.32" y="233.14" width="4" height="4" fill="#1a1a1a"/>
<rect x="135.95" y="225.88" width="4" height="4" fill="#1a1a1a"/>
<line x1="33.2" y1="215.2" x2="44.4" y2="215.2" stroke="#4a90d9" stroke-width="0.8"/>
<circle cx="38.3" cy="215.2" r="2.1" fill="#4a90d9"/>
<text x="50.5" y="217.56" font-size="6.6">sh-Ctrl</text>
<line x1="33.2" y1="224.27" x2="44.4" y2="224.27" stroke="#1a1a1a" stroke-width="0.8"/>
<rect x="36.3" y="222.27" width="4" height="4" fill="#1a1a1a"/>
<text x="50.5" y="226.63" font-size="6.6">sh-Ctrl+LAM332</text>
<line x1="33.2" y1="233.34" x2="44.4" y2="233.34" stroke="#e8322b" stroke-width="0.8"/>
<path d="M38.3 231.03L40.4 233.34L38.3 235.65L36.2 233.34Z" fill="#e8322b"/>
<text x="50.5" y="235.7" font-size="6.6">sh-ITGA3</text>
<line x1="33.2" y1="242.41" x2="44.4" y2="242.41" stroke="#3dba4e" stroke-width="0.8"/>
<path d="M35.99 240.73L40.61 240.73L38.3 244.72Z" fill="#3dba4e"/>
<text x="50.5" y="244.77" font-size="6.6">sh-ITGA3+LAM332</text>
<path d="M140.5 227.6H143.5V240.6H140.5" stroke="#333" stroke-width="0.7" fill="none"/>
<path d="M140.5 243.4H143.5V261.4H140.5" stroke="#333" stroke-width="0.7" fill="none"/>
<text x="144.64" y="233.4" text-anchor="middle" fill="#333" transform="rotate(90 144.64 233.4)">***</text>
<text x="144.64" y="253.7" text-anchor="middle" fill="#333" transform="rotate(90 144.64 253.7)">***</text>
<text x="156.4" y="192.5" font-weight="bold" fill="#000" font-size="15.5">E</text>
<text x="197.6" y="192.38" text-anchor="middle" font-size="8.6" textLength="25.2" lengthAdjust="spacingAndGlyphs">sh-Ctrl</text>
<text x="264.4" y="192.38" text-anchor="middle" font-size="8.6" textLength="62.4" lengthAdjust="spacingAndGlyphs">sh-Ctrl+LAM332</text>
<text x="199.2" y="263.28" text-anchor="middle" font-size="8.6" textLength="37.3" lengthAdjust="spacingAndGlyphs">sh-ITGA3</text>
<text x="269.8" y="263.28" text-anchor="middle" font-size="8.6" textLength="74.4" lengthAdjust="spacingAndGlyphs">sh-ITGA3+LAM332</text>
<defs>
<filter id="fE1" x="0" y="0" width="1" height="1" color-interpolation-filters="sRGB"><feTurbulence type="fractalNoise" baseFrequency="0.08" numOctaves="3" seed="31" result="n0"/><feColorMatrix in="n0" type="matrix" values="0 0 0 0 0.35 0 0 0 0 0.35 0 0 0 0 0.39 2.5 0 0 0 -1.25" result="m0"/><feComponentTransfer in="m0" result="m0"><feFuncA type="linear" slope="0.3"/></feComponentTransfer><feComposite in="m0" in2="SourceGraphic" operator="in" result="m0"/><feTurbulence type="fractalNoise" baseFrequency="0.06" numOctaves="2" seed="51" result="n1"/><feColorMatrix in="n1" type="matrix" values="0 0 0 0 0.89 0 0 0 0 0.89 0 0 0 0 0.91 2.5 0 0 0 -1.25" result="m1"/><feComponentTransfer in="m1" result="m1"><feFuncA type="linear" slope="0.35"/></feComponentTransfer><feComposite in="m1" in2="SourceGraphic" operator="in" result="m1"/><feTurbulence type="fractalNoise" baseFrequency="0.7" numOctaves="1" seed="71" result="n2"/><feColorMatrix in="n2" type="matrix" values="0 0 0 0 1 0 0 0 0 1 0 0 0 0 1 2.5 0 0 0 -1.12" result="m2"/><feComponentTransfer in="m2" result="m2"><feFuncA type="linear" slope="0.35"/></feComponentTransfer><feComposite in="m2" in2="SourceGraphic" operator="in" result="m2"/><feTurbulence type="fractalNoise" baseFrequency="0.7" numOctaves="1" seed="81" result="n3"/><feColorMatrix in="n3" type="matrix" values="0 0 0 0 0.38 0 0 0 0 0.38 0 0 0 0 0.41 2.5 0 0 0 -1.12" result="m3"/><feComponentTransfer in="m3" result="m3"><feFuncA type="linear" slope="0.3"/></feComponentTransfer><feComposite in="m3" in2="SourceGraphic" operator="in" result="m3"/><feMerge><feMergeNode in="SourceGraphic"/><feMergeNode in="m0"/><feMergeNode in="m1"/><feMergeNode in="m2"/><feMergeNode in="m3"/></feMerge></filter>
<filter id="fE2" x="0" y="0" width="1" height="1" color-interpolation-filters="sRGB"><feTurbulence type="fractalNoise" baseFrequency="0.08" numOctaves="3" seed="32" result="n0"/><feColorMatrix in="n0" type="matrix" values="0 0 0 0 0.35 0 0 0 0 0.35 0 0 0 0 0.39 2.5 0 0 0 -1.25" result="m0"/><feComponentTransfer in="m0" result="m0"><feFuncA type="linear" slope="0.55"/></feComponentTransfer><feComposite in="m0" in2="SourceGraphic" operator="in" result="m0"/><feTurbulence type="fractalNoise" baseFrequency="0.06" numOctaves="2" seed="52" result="n1"/><feColorMatrix in="n1" type="matrix" values="0 0 0 0 0.89 0 0 0 0 0.89 0 0 0 0 0.91 2.5 0 0 0 -1.25" result="m1"/><feComponentTransfer in="m1" result="m1"><feFuncA type="linear" slope="0.35"/></feComponentTransfer><feComposite in="m1" in2="SourceGraphic" operator="in" result="m1"/><feTurbulence type="fractalNoise" baseFrequency="0.7" numOctaves="1" seed="72" result="n2"/><feColorMatrix in="n2" type="matrix" values="0 0 0 0 1 0 0 0 0 1 0 0 0 0 1 2.5 0 0 0 -1.12" result="m2"/><feComponentTransfer in="m2" result="m2"><feFuncA type="linear" slope="0.35"/></feComponentTransfer><feComposite in="m2" in2="SourceGraphic" operator="in" result="m2"/><feTurbulence type="fractalNoise" baseFrequency="0.7" numOctaves="1" seed="82" result="n3"/><feColorMatrix in="n3" type="matrix" values="0 0 0 0 0.38 0 0 0 0 0.38 0 0 0 0 0.41 2.5 0 0 0 -1.12" result="m3"/><feComponentTransfer in="m3" result="m3"><feFuncA type="linear" slope="0.3"/></feComponentTransfer><feComposite in="m3" in2="SourceGraphic" operator="in" result="m3"/><feMerge><feMergeNode in="SourceGraphic"/><feMergeNode in="m0"/><feMergeNode in="m1"/><feMergeNode in="m2"/><feMergeNode in="m3"/></feMerge></filter>
<filter id="fE3" x="0" y="0" width="1" height="1" color-interpolation-filters="sRGB"><feTurbulence type="fractalNoise" baseFrequency="0.08" numOctaves="3" seed="33" result="n0"/><feColorMatrix in="n0" type="matrix" values="0 0 0 0 0.35 0 0 0 0 0.35 0 0 0 0 0.39 2.5 0 0 0 -1.25" result="m0"/><feComponentTransfer in="m0" result="m0"><feFuncA type="linear" slope="0.2"/></feComponentTransfer><feComposite in="m0" in2="SourceGraphic" operator="in" result="m0"/><feTurbulence type="fractalNoise" baseFrequency="0.06" numOctaves="2" seed="53" result="n1"/><feColorMatrix in="n1" type="matrix" values="0 0 0 0 0.89 0 0 0 0 0.89 0 0 0 0 0.91 2.5 0 0 0 -1.25" result="m1"/><feComponentTransfer in="m1" result="m1"><feFuncA type="linear" slope="0.35"/></feComponentTransfer><feComposite in="m1" in2="SourceGraphic" operator="in" result="m1"/><feTurbulence type="fractalNoise" baseFrequency="0.7" numOctaves="1" seed="73" result="n2"/><feColorMatrix in="n2" type="matrix" values="0 0 0 0 1 0 0 0 0 1 0 0 0 0 1 2.5 0 0 0 -1.12" result="m2"/><feComponentTransfer in="m2" result="m2"><feFuncA type="linear" slope="0.35"/></feComponentTransfer><feComposite in="m2" in2="SourceGraphic" operator="in" result="m2"/><feTurbulence type="fractalNoise" baseFrequency="0.7" numOctaves="1" seed="83" result="n3"/><feColorMatrix in="n3" type="matrix" values="0 0 0 0 0.38 0 0 0 0 0.38 0 0 0 0 0.41 2.5 0 0 0 -1.12" result="m3"/><feComponentTransfer in="m3" result="m3"><feFuncA type="linear" slope="0.3"/></feComponentTransfer><feComposite in="m3" in2="SourceGraphic" operator="in" result="m3"/><feMerge><feMergeNode in="SourceGraphic"/><feMergeNode in="m0"/><feMergeNode in="m1"/><feMergeNode in="m2"/><feMergeNode in="m3"/></feMerge></filter>
<filter id="fE4" x="0" y="0" width="1" height="1" color-interpolation-filters="sRGB"><feTurbulence type="fractalNoise" baseFrequency="0.08" numOctaves="3" seed="34" result="n0"/><feColorMatrix in="n0" type="matrix" values="0 0 0 0 0.35 0 0 0 0 0.35 0 0 0 0 0.39 2.5 0 0 0 -1.25" result="m0"/><feComponentTransfer in="m0" result="m0"><feFuncA type="linear" slope="0.3"/></feComponentTransfer><feComposite in="m0" in2="SourceGraphic" operator="in" result="m0"/><feTurbulence type="fractalNoise" baseFrequency="0.06" numOctaves="2" seed="54" result="n1"/><feColorMatrix in="n1" type="matrix" values="0 0 0 0 0.89 0 0 0 0 0.89 0 0 0 0 0.91 2.5 0 0 0 -1.25" result="m1"/><feComponentTransfer in="m1" result="m1"><feFuncA type="linear" slope="0.35"/></feComponentTransfer><feComposite in="m1" in2="SourceGraphic" operator="in" result="m1"/><feTurbulence type="fractalNoise" baseFrequency="0.7" numOctaves="1" seed="74" result="n2"/><feColorMatrix in="n2" type="matrix" values="0 0 0 0 1 0 0 0 0 1 0 0 0 0 1 2.5 0 0 0 -1.12" result="m2"/><feComponentTransfer in="m2" result="m2"><feFuncA type="linear" slope="0.35"/></feComponentTransfer><feComposite in="m2" in2="SourceGraphic" operator="in" result="m2"/><feTurbulence type="fractalNoise" baseFrequency="0.7" numOctaves="1" seed="84" result="n3"/><feColorMatrix in="n3" type="matrix" values="0 0 0 0 0.38 0 0 0 0 0.38 0 0 0 0 0.41 2.5 0 0 0 -1.12" result="m3"/><feComponentTransfer in="m3" result="m3"><feFuncA type="linear" slope="0.3"/></feComponentTransfer><feComposite in="m3" in2="SourceGraphic" operator="in" result="m3"/><feMerge><feMergeNode in="SourceGraphic"/><feMergeNode in="m0"/><feMergeNode in="m1"/><feMergeNode in="m2"/><feMergeNode in="m3"/></feMerge></filter>
</defs>
<circle cx="203" cy="223.5" r="27.3" fill="#bdbdc2" filter="url(#fE1)"/>
<circle cx="203" cy="223.5" r="25.7" fill="none" stroke="#d6d6da" stroke-width="1.2" opacity="0.7"/>
<circle cx="203" cy="223.5" r="27" fill="none" stroke="#8e8e96" stroke-width="0.6" opacity="0.6"/>
<g fill="#2a2a32" opacity="0.62"><circle cx="200.4" cy="226.76" r="0.67"/><circle cx="201.12" cy="223.93" r="0.56"/><circle cx="185.78" cy="224.15" r="0.57"/><circle cx="192.27" cy="201.15" r="0.63"/><circle cx="211.4" cy="229.81" r="0.41"/><circle cx="201.03" cy="220.25" r="0.64"/><circle cx="204.04" cy="231.16" r="0.52"/><circle cx="211.87" cy="221.17" r="0.45"/><circle cx="221.58" cy="234.85" r="0.46"/><circle cx="188.24" cy="211.98" r="0.37"/><circle cx="217.54" cy="218.06" r="0.65"/><circle cx="197.4" cy="200.19" r="0.57"/><circle cx="218.21" cy="210.93" r="0.38"/><circle cx="185.4" cy="226.74" r="0.51"/><circle cx="186.11" cy="236.16" r="0.4"/><circle cx="210.85" cy="202.56" r="0.5"/><circle cx="187.32" cy="210.93" r="0.69"/><circle cx="219.57" cy="212.81" r="0.66"/><circle cx="187.2" cy="217.73" r="0.65"/><circle cx="210.74" cy="201.68" r="0.7"/><circle cx="187.34" cy="210.3" r="0.62"/><circle cx="193.66" cy="212.38" r="0.38"/><circle cx="180.62" cy="228.02" r="0.44"/><circle cx="208.53" cy="216.5" r="0.51"/><circle cx="228.07" cy="222.61" r="0.55"/><circle cx="220.35" cy="209.82" r="0.42"/><circle cx="223.87" cy="229.15" r="0.5"/><circle cx="214.17" cy="210.23" r="0.64"/><circle cx="208.27" cy="212.22" r="0.41"/><circle cx="188.17" cy="226.74" r="0.65"/><circle cx="209.24" cy="211.5" r="0.67"/><circle cx="190.4" cy="220.54" r="0.37"/><circle cx="185.32" cy="216.34" r="0.55"/><circle cx="182.88" cy="215.97" r="0.66"/><circle cx="213.44" cy="228.11" r="0.4"/><circle cx="225.4" cy="234.47" r="0.69"/><circle cx="202.03" cy="236.09" r="0.46"/><circle cx="205.52" cy="236.44" r="0.67"/><circle cx="215.95" cy="234.62" r="0.63"/><circle cx="225.66" cy="215.41" r="0.59"/><circle cx="198.48" cy="239.36" r="0.65"/><circle cx="206.98" cy="230.32" r="0.48"/><circle cx="207.51" cy="229.44" r="0.38"/><circle cx="223.74" cy="235.96" r="0.49"/><circle cx="215.83" cy="227.92" r="0.5"/><circle cx="208.53" cy="222.46" r="0.43"/><circle cx="213.83" cy="223.35" r="0.57"/><circle cx="212.73" cy="207.26" r="0.41"/><circle cx="225.15" cy="232.24" r="0.5"/><circle cx="224.39" cy="214.05" r="0.58"/><circle cx="186.54" cy="219.73" r="0.63"/><circle cx="196.69" cy="228.04" r="0.46"/><circle cx="183.14" cy="223.31" r="0.64"/><circle cx="222.04" cy="235.03" r="0.68"/><circle cx="190.81" cy="205.43" r="0.51"/><circle cx="190.72" cy="207.89" r="0.49"/><circle cx="209.87" cy="223.17" r="0.46"/><circle cx="200.41" cy="200.28" r="0.36"/><circle cx="214.39" cy="227.35" r="0.46"/><circle cx="183.12" cy="221.03" r="0.36"/><circle cx="221" cy="209.16" r="0.4"/><circle cx="200.08" cy="230.6" r="0.58"/><circle cx="213.07" cy="207.08" r="0.52"/><circle cx="201.48" cy="235.19" r="0.41"/><circle cx="190.57" cy="215.08" r="0.59"/><circle cx="204.12" cy="229.75" r="0.61"/><circle cx="197.19" cy="239.44" r="0.67"/><circle cx="215.14" cy="203.29" r="0.51"/><circle cx="209.85" cy="245.88" r="0.48"/><circle cx="206.76" cy="244.21" r="0.63"/><circle cx="227.26" cy="221.52" r="0.58"/><circle cx="186.89" cy="235.62" r="0.64"/><circle cx="210.73" cy="235.38" r="0.42"/><circle cx="218.88" cy="213.69" r="0.67"/><circle cx="222.43" cy="215.23" r="0.38"/><circle cx="199.77" cy="226.25" r="0.62"/><circle cx="219.37" cy="205.64" r="0.47"/><circle cx="183.82" cy="224.4" r="0.6"/><circle cx="221.56" cy="233.84" r="0.68"/><circle cx="202.59" cy="248.02" r="0.38"/><circle cx="187.79" cy="224.96" r="0.45"/><circle cx="215.49" cy="231.08" r="0.53"/><circle cx="221.76" cy="226.77" r="0.46"/><circle cx="196.51" cy="242.35" r="0.67"/><circle cx="187.07" cy="242.65" r="0.69"/><circle cx="204.32" cy="227.49" r="0.42"/><circle cx="204.96" cy="223.67" r="0.56"/><circle cx="203.87" cy="218.07" r="0.63"/><circle cx="206.43" cy="223.01" r="0.59"/><circle cx="179.3" cy="225.61" r="0.49"/><circle cx="190.4" cy="222.03" r="0.39"/><circle cx="199.38" cy="240.74" r="0.67"/><circle cx="201.72" cy="213.52" r="0.42"/><circle cx="209.44" cy="246.72" r="0.4"/><circle cx="186.3" cy="208.61" r="0.59"/><circle cx="193.29" cy="215.6" r="0.57"/><circle cx="181.43" cy="236.11" r="0.39"/><circle cx="203.57" cy="209.88" r="0.42"/><circle cx="204.66" cy="220.05" r="0.48"/><circle cx="198.27" cy="225.1" r="0.41"/><circle cx="186.85" cy="230.67" r="0.57"/><circle cx="204.62" cy="242.68" r="0.56"/><circle cx="222.48" cy="208.9" r="0.61"/><circle cx="192.95" cy="213.4" r="0.67"/><circle cx="188.77" cy="235.87" r="0.44"/><circle cx="198.72" cy="239.33" r="0.39"/><circle cx="197.69" cy="233.61" r="0.36"/><circle cx="186.67" cy="233.46" r="0.67"/><circle cx="203.31" cy="237.6" r="0.53"/><circle cx="213.14" cy="206.52" r="0.37"/><circle cx="205.82" cy="224.31" r="0.55"/><circle cx="186.83" cy="242.08" r="0.7"/><circle cx="200.93" cy="237.95" r="0.46"/><circle cx="201.2" cy="224.33" r="0.5"/><circle cx="213.98" cy="242.3" r="0.41"/><circle cx="200.49" cy="236.57" r="0.49"/><circle cx="186.35" cy="205.21" r="0.53"/><circle cx="219.47" cy="234.68" r="0.65"/><circle cx="210.06" cy="218.29" r="0.56"/><circle cx="219.64" cy="210.3" r="0.67"/><circle cx="216.35" cy="238.68" r="0.64"/><circle cx="197.85" cy="245.15" r="0.66"/><circle cx="213.64" cy="238.09" r="0.62"/><circle cx="197.85" cy="235.66" r="0.37"/><circle cx="194.36" cy="221.8" r="0.35"/><circle cx="195.12" cy="231.07" r="0.57"/><circle cx="212.07" cy="214.64" r="0.58"/><circle cx="206.8" cy="225.31" r="0.49"/><circle cx="213.99" cy="237.79" r="0.69"/><circle cx="216.04" cy="210.21" r="0.49"/><circle cx="196.21" cy="201.58" r="0.44"/><circle cx="225.15" cy="226.23" r="0.53"/><circle cx="208.33" cy="237.65" r="0.37"/><circle cx="201.46" cy="205.43" r="0.52"/><circle cx="209.07" cy="199.4" r="0.68"/><circle cx="198.67" cy="224.96" r="0.56"/><circle cx="195.66" cy="211.8" r="0.58"/><circle cx="206.31" cy="211.68" r="0.6"/><circle cx="184.25" cy="237.4" r="0.49"/><circle cx="225.14" cy="219.65" r="0.52"/><circle cx="204.28" cy="247.37" r="0.6"/><circle cx="220.29" cy="229.16" r="0.39"/><circle cx="209.78" cy="221.08" r="0.42"/><circle cx="178.54" cy="225.03" r="0.39"/><circle cx="199.88" cy="232.67" r="0.51"/><circle cx="190.01" cy="227.99" r="0.5"/><circle cx="218.18" cy="225.18" r="0.7"/><circle cx="209.82" cy="215.81" r="0.45"/><circle cx="213.1" cy="227.04" r="0.56"/><circle cx="210.27" cy="237.33" r="0.42"/><circle cx="190.49" cy="219.42" r="0.57"/><circle cx="181.29" cy="225.77" r="0.38"/><circle cx="180.42" cy="233.12" r="0.54"/><circle cx="210.16" cy="216.58" r="0.52"/><circle cx="187.2" cy="214.97" r="0.61"/><circle cx="209.76" cy="238.17" r="0.42"/><circle cx="198.87" cy="210.29" r="0.63"/><circle cx="195.84" cy="231.89" r="0.7"/><circle cx="193.47" cy="226.15" r="0.61"/><circle cx="225.98" cy="219.55" r="0.48"/><circle cx="206.51" cy="222.67" r="0.59"/><circle cx="192.02" cy="238.54" r="0.38"/><circle cx="187.34" cy="232.35" r="0.38"/><circle cx="192.29" cy="235.78" r="0.59"/><circle cx="191.15" cy="204" r="0.48"/><circle cx="215.34" cy="216.21" r="0.39"/><circle cx="214.43" cy="227.28" r="0.67"/><circle cx="199.61" cy="240.05" r="0.46"/><circle cx="193.04" cy="218.02" r="0.68"/><circle cx="195.45" cy="216.16" r="0.48"/><circle cx="197.3" cy="217.36" r="0.42"/><circle cx="206.48" cy="239.72" r="0.54"/><circle cx="221.37" cy="226.93" r="0.41"/><circle cx="203.85" cy="225.91" r="0.55"/><circle cx="205.56" cy="239.23" r="0.38"/><circle cx="210.32" cy="204.06" r="0.61"/><circle cx="211.14" cy="209.6" r="0.43"/><circle cx="217.49" cy="224.68" r="0.62"/><circle cx="197.23" cy="214.64" r="0.69"/><circle cx="212.41" cy="223.15" r="0.54"/><circle cx="215.06" cy="234.86" r="0.67"/><circle cx="198.12" cy="241.31" r="0.58"/><circle cx="204.3" cy="234.97" r="0.63"/><circle cx="198.72" cy="219.16" r="0.4"/><circle cx="196.2" cy="205.35" r="0.42"/><circle cx="198.9" cy="212.14" r="0.69"/><circle cx="181.97" cy="231.58" r="0.62"/><circle cx="200.75" cy="228.09" r="0.67"/><circle cx="185.78" cy="208.07" r="0.43"/><circle cx="214.86" cy="228.68" r="0.43"/><circle cx="185.8" cy="211.55" r="0.41"/><circle cx="217.06" cy="213.22" r="0.54"/><circle cx="220.32" cy="222.38" r="0.44"/><circle cx="194.38" cy="226.09" r="0.68"/><circle cx="202.05" cy="208.27" r="0.37"/><circle cx="196.72" cy="225.01" r="0.53"/><circle cx="211.6" cy="209.17" r="0.35"/><circle cx="201.51" cy="216.49" r="0.63"/><circle cx="214.65" cy="229.29" r="0.41"/><circle cx="184.27" cy="213.77" r="0.44"/><circle cx="223.16" cy="224.38" r="0.57"/><circle cx="204.89" cy="204.43" r="0.62"/><circle cx="214.82" cy="201.51" r="0.52"/><circle cx="201.29" cy="248.37" r="0.56"/><circle cx="222.51" cy="212.78" r="0.63"/><circle cx="198.47" cy="246.25" r="0.38"/><circle cx="220.82" cy="207.58" r="0.54"/><circle cx="204.4" cy="204.8" r="0.64"/><circle cx="192.7" cy="213.17" r="0.38"/><circle cx="192.39" cy="221.71" r="0.6"/><circle cx="195.34" cy="233.72" r="0.39"/><circle cx="197.23" cy="221.41" r="0.69"/><circle cx="221" cy="231.9" r="0.35"/><circle cx="196.29" cy="234.97" r="0.43"/><circle cx="206.5" cy="221.21" r="0.35"/><circle cx="186.99" cy="229.84" r="0.45"/><circle cx="196.23" cy="225.67" r="0.45"/><circle cx="194.12" cy="217.61" r="0.58"/><circle cx="189.7" cy="207.12" r="0.61"/><circle cx="206.43" cy="235.72" r="0.47"/><circle cx="212.7" cy="234.87" r="0.41"/><circle cx="197.66" cy="241.9" r="0.56"/><circle cx="197.91" cy="200.17" r="0.67"/><circle cx="199.01" cy="224.13" r="0.58"/><circle cx="217.57" cy="241.03" r="0.49"/><circle cx="193.8" cy="218.7" r="0.36"/><circle cx="197.58" cy="234.41" r="0.69"/><circle cx="218.82" cy="232.25" r="0.56"/><circle cx="194.39" cy="231.73" r="0.39"/><circle cx="196.32" cy="224.01" r="0.63"/><circle cx="220.76" cy="229.58" r="0.41"/><circle cx="205.63" cy="215.45" r="0.53"/><circle cx="183.44" cy="235.15" r="0.7"/><circle cx="203.88" cy="235.26" r="0.64"/><circle cx="209.94" cy="207.01" r="0.38"/><circle cx="189.06" cy="227.68" r="0.59"/><circle cx="195.42" cy="221.48" r="0.39"/><circle cx="225.06" cy="225.87" r="0.55"/><circle cx="206.3" cy="210.63" r="0.67"/><circle cx="208.54" cy="202.9" r="0.64"/><circle cx="191.46" cy="245.18" r="0.43"/><circle cx="207.02" cy="241.56" r="0.41"/><circle cx="205.61" cy="200.36" r="0.36"/><circle cx="192.5" cy="232.85" r="0.61"/><circle cx="196.54" cy="228.52" r="0.63"/><circle cx="201.25" cy="204.01" r="0.49"/><circle cx="206.8" cy="205.68" r="0.53"/><circle cx="190.1" cy="227.21" r="0.47"/><circle cx="212.34" cy="204.1" r="0.69"/><circle cx="208.47" cy="221.86" r="0.49"/><circle cx="209.76" cy="233.84" r="0.62"/><circle cx="216.74" cy="222.72" r="0.7"/><circle cx="198.03" cy="219.89" r="0.55"/><circle cx="225.13" cy="224.92" r="0.53"/><circle cx="199.3" cy="245.57" r="0.46"/><circle cx="208.32" cy="237.25" r="0.46"/><circle cx="208.1" cy="200.01" r="0.39"/><circle cx="200.1" cy="223.64" r="0.49"/><circle cx="204.43" cy="209.26" r="0.46"/><circle cx="197.3" cy="209.08" r="0.37"/><circle cx="212.05" cy="243.51" r="0.5"/><circle cx="219.67" cy="208.31" r="0.61"/><circle cx="206.65" cy="245.53" r="0.38"/><circle cx="205.05" cy="248.12" r="0.35"/><circle cx="189.02" cy="212.54" r="0.46"/><circle cx="220.22" cy="217.89" r="0.47"/><circle cx="192.51" cy="223.41" r="0.68"/><circle cx="186.98" cy="212.33" r="0.67"/><circle cx="221.45" cy="215.54" r="0.52"/><circle cx="210.23" cy="206.66" r="0.66"/><circle cx="215.33" cy="213.29" r="0.67"/><circle cx="223.18" cy="235.14" r="0.4"/><circle cx="200.01" cy="200.51" r="0.43"/><circle cx="192.47" cy="235" r="0.42"/><circle cx="185.58" cy="209.06" r="0.58"/><circle cx="218.86" cy="216.54" r="0.58"/><circle cx="223.99" cy="228.41" r="0.43"/><circle cx="212.12" cy="211.32" r="0.57"/><circle cx="199.74" cy="225.05" r="0.54"/><circle cx="191.24" cy="209.9" r="0.63"/><circle cx="216.96" cy="209.63" r="0.45"/><circle cx="205.63" cy="206.38" r="0.66"/><circle cx="200.91" cy="237.18" r="0.48"/><circle cx="226.44" cy="223.49" r="0.41"/><circle cx="206.06" cy="231.42" r="0.48"/><circle cx="211.64" cy="238.95" r="0.53"/><circle cx="203.31" cy="242.36" r="0.59"/><circle cx="204.12" cy="248.15" r="0.41"/><circle cx="218.27" cy="205.22" r="0.56"/><circle cx="188.55" cy="220.25" r="0.62"/><circle cx="218.65" cy="239.4" r="0.43"/><circle cx="202.41" cy="208.28" r="0.55"/><circle cx="208.29" cy="235.22" r="0.55"/><circle cx="202.79" cy="219.93" r="0.5"/><circle cx="190.06" cy="239.8" r="0.38"/><circle cx="225.24" cy="227.26" r="0.54"/><circle cx="218.92" cy="209.19" r="0.4"/><circle cx="192.86" cy="230.12" r="0.53"/><circle cx="190.15" cy="228.34" r="0.38"/><circle cx="220.5" cy="205.57" r="0.44"/><circle cx="184.43" cy="233.91" r="0.64"/><circle cx="198.12" cy="216.1" r="0.43"/><circle cx="202.43" cy="237.77" r="0.7"/><circle cx="183.59" cy="221.06" r="0.61"/><circle cx="197.15" cy="212.47" r="0.5"/><circle cx="215.78" cy="208.75" r="0.44"/><circle cx="205.83" cy="209.4" r="0.51"/><circle cx="226.61" cy="216.07" r="0.47"/><circle cx="194.44" cy="234.13" r="0.65"/><circle cx="207.95" cy="244.6" r="0.51"/><circle cx="197.15" cy="242.23" r="0.48"/><circle cx="218.36" cy="207.96" r="0.47"/><circle cx="185.73" cy="226.21" r="0.41"/><circle cx="186.82" cy="207.91" r="0.51"/><circle cx="192.55" cy="220.61" r="0.7"/><circle cx="212.78" cy="243.3" r="0.42"/><circle cx="196.61" cy="200.17" r="0.59"/><circle cx="195.51" cy="211.19" r="0.36"/><circle cx="185.64" cy="210.52" r="0.49"/><circle cx="190.37" cy="215.92" r="0.4"/><circle cx="226.84" cy="215.84" r="0.62"/><circle cx="196.69" cy="200.74" r="0.66"/><circle cx="193.46" cy="238.28" r="0.53"/><circle cx="178.7" cy="217.71" r="0.43"/><circle cx="192.75" cy="219.35" r="0.54"/><circle cx="183.13" cy="234.78" r="0.44"/><circle cx="215.31" cy="232.57" r="0.4"/><circle cx="186.88" cy="211.51" r="0.6"/><circle cx="197.83" cy="217.3" r="0.65"/><circle cx="188.04" cy="212.15" r="0.47"/></g>
<circle cx="260.8" cy="223.5" r="27.7" fill="#a6a6ad" filter="url(#fE2)"/>
<circle cx="260.8" cy="223.5" r="26.1" fill="none" stroke="#bcbcc2" stroke-width="1" opacity="0.7"/>
<circle cx="260.8" cy="223.5" r="27.4" fill="none" stroke="#8e8e96" stroke-width="0.6" opacity="0.6"/>
<g fill="#2a2a32" opacity="0.62"><circle cx="259.39" cy="232.22" r="0.58"/><circle cx="253.86" cy="210.98" r="0.63"/><circle cx="271.36" cy="229.12" r="0.55"/><circle cx="269.74" cy="203.85" r="0.5"/><circle cx="251.77" cy="218.22" r="0.64"/><circle cx="283.79" cy="223.99" r="0.38"/><circle cx="239.33" cy="219.25" r="0.4"/><circle cx="250.41" cy="230.23" r="0.41"/><circle cx="242.59" cy="240.99" r="0.49"/><circle cx="256.3" cy="228.82" r="0.52"/><circle cx="252.84" cy="215.92" r="0.59"/><circle cx="270.43" cy="202.11" r="0.43"/><circle cx="253.23" cy="224.13" r="0.63"/><circle cx="278.67" cy="219.63" r="0.53"/><circle cx="245.41" cy="219.47" r="0.49"/><circle cx="263.57" cy="205.66" r="0.59"/><circle cx="252.17" cy="231.09" r="0.37"/><circle cx="258.54" cy="207.37" r="0.45"/><circle cx="259.48" cy="248.91" r="0.52"/><circle cx="284.3" cy="215.98" r="0.42"/><circle cx="275.8" cy="214.74" r="0.43"/><circle cx="276.72" cy="241.89" r="0.57"/><circle cx="245.82" cy="225.01" r="0.52"/><circle cx="267.84" cy="210.35" r="0.68"/><circle cx="249.24" cy="244.17" r="0.45"/><circle cx="285.39" cy="224.34" r="0.59"/><circle cx="272.14" cy="207.66" r="0.45"/><circle cx="247.22" cy="233.65" r="0.59"/><circle cx="256.39" cy="209.16" r="0.5"/><circle cx="267.71" cy="246.76" r="0.69"/><circle cx="275.23" cy="218.94" r="0.56"/><circle cx="265.24" cy="215.05" r="0.48"/><circle cx="273.87" cy="227.01" r="0.36"/><circle cx="272.44" cy="245.87" r="0.63"/><circle cx="262.74" cy="239.52" r="0.48"/><circle cx="238.55" cy="215.37" r="0.46"/><circle cx="263.11" cy="230.26" r="0.39"/><circle cx="262.7" cy="234.61" r="0.49"/><circle cx="246.72" cy="218.34" r="0.46"/><circle cx="271.06" cy="203.66" r="0.38"/><circle cx="250.41" cy="234.35" r="0.62"/><circle cx="260.13" cy="220.38" r="0.41"/><circle cx="270.07" cy="214.71" r="0.43"/><circle cx="248.59" cy="206.95" r="0.5"/><circle cx="260.86" cy="234.47" r="0.41"/><circle cx="258.84" cy="229.4" r="0.65"/><circle cx="246.94" cy="221.26" r="0.65"/><circle cx="279.17" cy="208.4" r="0.54"/><circle cx="275.28" cy="217.7" r="0.59"/><circle cx="263.79" cy="233.52" r="0.47"/><circle cx="273.67" cy="213.65" r="0.52"/><circle cx="253.09" cy="212.82" r="0.4"/><circle cx="245.6" cy="225.95" r="0.44"/><circle cx="266.27" cy="217.35" r="0.66"/><circle cx="282.81" cy="213.58" r="0.39"/><circle cx="268.61" cy="242.48" r="0.56"/><circle cx="276.55" cy="218.65" r="0.57"/><circle cx="247.68" cy="218.34" r="0.48"/><circle cx="254.41" cy="217.94" r="0.63"/><circle cx="242.51" cy="207.16" r="0.44"/><circle cx="252.98" cy="236.5" r="0.46"/><circle cx="279.25" cy="207.5" r="0.66"/><circle cx="242.14" cy="235.46" r="0.45"/><circle cx="243.63" cy="206" r="0.46"/><circle cx="280.86" cy="229.42" r="0.39"/><circle cx="271.05" cy="225.51" r="0.51"/><circle cx="262.33" cy="231.89" r="0.63"/><circle cx="261.09" cy="231.01" r="0.51"/><circle cx="268.23" cy="217.32" r="0.5"/><circle cx="261.72" cy="235.41" r="0.45"/><circle cx="284.34" cy="223.03" r="0.65"/><circle cx="270.91" cy="219.45" r="0.49"/><circle cx="266.77" cy="237.56" r="0.64"/><circle cx="271.06" cy="229.92" r="0.69"/><circle cx="259.44" cy="207.25" r="0.61"/><circle cx="256.56" cy="225.89" r="0.46"/><circle cx="284.81" cy="215.87" r="0.45"/><circle cx="284.26" cy="229.05" r="0.58"/><circle cx="259.83" cy="236.3" r="0.64"/><circle cx="275.05" cy="214.62" r="0.48"/><circle cx="259.97" cy="206.59" r="0.57"/><circle cx="262.79" cy="215.84" r="0.43"/><circle cx="254.45" cy="229.73" r="0.39"/><circle cx="263.07" cy="248.56" r="0.61"/><circle cx="247.07" cy="218.98" r="0.39"/><circle cx="273.93" cy="230.81" r="0.41"/><circle cx="263.46" cy="228.81" r="0.55"/><circle cx="254.06" cy="212.97" r="0.47"/><circle cx="260.94" cy="221.28" r="0.41"/><circle cx="255.25" cy="207.15" r="0.46"/><circle cx="253.44" cy="215.18" r="0.68"/><circle cx="249.55" cy="214.21" r="0.58"/><circle cx="255.11" cy="224.37" r="0.58"/><circle cx="237.18" cy="233" r="0.39"/><circle cx="246.96" cy="240.66" r="0.7"/><circle cx="270.42" cy="205.31" r="0.5"/><circle cx="248.76" cy="242.4" r="0.43"/><circle cx="243.97" cy="231.15" r="0.57"/><circle cx="265.77" cy="222.33" r="0.69"/><circle cx="258.5" cy="247.71" r="0.49"/><circle cx="258.88" cy="215.71" r="0.6"/><circle cx="274.73" cy="209.05" r="0.53"/><circle cx="273.35" cy="223.59" r="0.58"/><circle cx="267.24" cy="235.37" r="0.47"/><circle cx="279.45" cy="219.12" r="0.46"/><circle cx="247.46" cy="218.73" r="0.37"/><circle cx="250.12" cy="204.58" r="0.39"/><circle cx="279.19" cy="216.83" r="0.52"/><circle cx="266.41" cy="247.49" r="0.4"/><circle cx="245.74" cy="243.46" r="0.67"/><circle cx="284.72" cy="225.07" r="0.48"/><circle cx="275.5" cy="226.36" r="0.63"/><circle cx="247.54" cy="225.37" r="0.67"/><circle cx="239.12" cy="230" r="0.41"/><circle cx="268.78" cy="219.95" r="0.36"/><circle cx="260.47" cy="215.7" r="0.49"/><circle cx="262.02" cy="226.92" r="0.64"/><circle cx="282.76" cy="226.25" r="0.54"/><circle cx="280.03" cy="216.44" r="0.67"/><circle cx="262.34" cy="230.28" r="0.7"/><circle cx="245.28" cy="218.37" r="0.63"/><circle cx="274.47" cy="224.84" r="0.62"/><circle cx="270.62" cy="243.95" r="0.58"/><circle cx="253.23" cy="211.69" r="0.38"/><circle cx="266.5" cy="203.23" r="0.69"/><circle cx="262.61" cy="205.61" r="0.64"/><circle cx="245.47" cy="218.1" r="0.58"/><circle cx="248.75" cy="227.34" r="0.6"/><circle cx="274.74" cy="241.45" r="0.61"/><circle cx="248.91" cy="237.66" r="0.5"/><circle cx="267.57" cy="215.63" r="0.38"/><circle cx="260.25" cy="218.79" r="0.46"/><circle cx="264.47" cy="225.65" r="0.54"/><circle cx="249.65" cy="244.11" r="0.46"/><circle cx="269.74" cy="234.94" r="0.42"/><circle cx="256.97" cy="241.18" r="0.59"/><circle cx="257.32" cy="246.29" r="0.46"/><circle cx="281.92" cy="232.38" r="0.52"/><circle cx="244.39" cy="207.95" r="0.37"/><circle cx="238.3" cy="222.34" r="0.66"/><circle cx="284.75" cy="224.3" r="0.59"/><circle cx="259.02" cy="238.8" r="0.6"/><circle cx="270.66" cy="228.51" r="0.41"/><circle cx="259.23" cy="220.6" r="0.4"/><circle cx="244.27" cy="218.59" r="0.41"/><circle cx="267.68" cy="213.97" r="0.7"/><circle cx="271" cy="224.42" r="0.5"/><circle cx="254.8" cy="206.9" r="0.69"/><circle cx="283.71" cy="231.81" r="0.58"/><circle cx="241.08" cy="225.8" r="0.41"/><circle cx="251.07" cy="228.32" r="0.41"/><circle cx="246.02" cy="236.27" r="0.52"/><circle cx="266.83" cy="234.22" r="0.54"/><circle cx="260.55" cy="246.17" r="0.4"/><circle cx="248.35" cy="226.22" r="0.44"/><circle cx="280.72" cy="210.24" r="0.38"/><circle cx="242.13" cy="210.86" r="0.68"/><circle cx="281.76" cy="232.9" r="0.5"/><circle cx="257.2" cy="243.58" r="0.41"/><circle cx="240.89" cy="212.36" r="0.42"/><circle cx="257.41" cy="246.85" r="0.64"/><circle cx="262.79" cy="200.66" r="0.41"/><circle cx="249.46" cy="239.79" r="0.67"/><circle cx="282.36" cy="210.38" r="0.6"/><circle cx="239.69" cy="232.25" r="0.41"/><circle cx="266.06" cy="236.93" r="0.66"/><circle cx="255.61" cy="248.41" r="0.67"/><circle cx="248.25" cy="234.36" r="0.66"/><circle cx="247.32" cy="238.36" r="0.52"/><circle cx="254.86" cy="234.37" r="0.58"/><circle cx="271.43" cy="200.93" r="0.66"/><circle cx="241.8" cy="220.47" r="0.59"/><circle cx="274.35" cy="241.58" r="0.46"/><circle cx="249.61" cy="236.11" r="0.37"/><circle cx="281.49" cy="213.27" r="0.49"/><circle cx="250.43" cy="235.33" r="0.41"/><circle cx="240.35" cy="230.32" r="0.7"/><circle cx="252.79" cy="212.97" r="0.47"/><circle cx="239.08" cy="219.28" r="0.44"/><circle cx="274.01" cy="208.36" r="0.39"/><circle cx="273.15" cy="203.75" r="0.63"/><circle cx="262.76" cy="200.67" r="0.42"/><circle cx="274.67" cy="215.31" r="0.52"/><circle cx="260.65" cy="219.48" r="0.42"/><circle cx="241.44" cy="220.44" r="0.39"/><circle cx="236.54" cy="222.03" r="0.37"/><circle cx="273.78" cy="238.34" r="0.6"/><circle cx="256.47" cy="218.78" r="0.38"/><circle cx="276.21" cy="227.93" r="0.58"/><circle cx="259.79" cy="243.07" r="0.55"/><circle cx="263.43" cy="218.24" r="0.57"/><circle cx="265.6" cy="247.89" r="0.62"/><circle cx="251.37" cy="235.69" r="0.43"/><circle cx="259.78" cy="224.94" r="0.6"/><circle cx="243.22" cy="230.14" r="0.41"/><circle cx="264.1" cy="244.64" r="0.5"/><circle cx="245.48" cy="228.88" r="0.49"/><circle cx="257.3" cy="205.67" r="0.59"/><circle cx="260.61" cy="233.59" r="0.67"/><circle cx="247.31" cy="235.43" r="0.55"/><circle cx="258.16" cy="230.53" r="0.51"/><circle cx="269.51" cy="234.31" r="0.35"/><circle cx="268.51" cy="234.85" r="0.65"/><circle cx="262.79" cy="225.79" r="0.4"/><circle cx="239.95" cy="217.08" r="0.57"/><circle cx="277.33" cy="217.09" r="0.41"/><circle cx="238.89" cy="232.89" r="0.57"/><circle cx="248.61" cy="226.7" r="0.59"/><circle cx="244.62" cy="209.35" r="0.67"/><circle cx="244.61" cy="222.87" r="0.51"/><circle cx="276.19" cy="243.28" r="0.62"/><circle cx="267.8" cy="225.75" r="0.38"/><circle cx="264.9" cy="219.79" r="0.61"/><circle cx="253.94" cy="202.56" r="0.48"/><circle cx="279.15" cy="223.31" r="0.58"/><circle cx="247.83" cy="222.63" r="0.39"/><circle cx="260.89" cy="229.92" r="0.64"/><circle cx="280.5" cy="224.3" r="0.58"/><circle cx="250.09" cy="204.04" r="0.35"/><circle cx="257.82" cy="229.14" r="0.52"/><circle cx="271.25" cy="201.31" r="0.61"/><circle cx="242.8" cy="228.55" r="0.57"/><circle cx="280.07" cy="229.85" r="0.41"/><circle cx="278.27" cy="216.52" r="0.55"/><circle cx="238.87" cy="220.99" r="0.46"/><circle cx="280.02" cy="217.83" r="0.67"/><circle cx="277.07" cy="219.02" r="0.62"/><circle cx="270.74" cy="202.29" r="0.45"/><circle cx="255.01" cy="212.46" r="0.6"/><circle cx="271.41" cy="208.46" r="0.63"/><circle cx="274.43" cy="238.37" r="0.55"/><circle cx="239.23" cy="227.94" r="0.69"/><circle cx="247.97" cy="222.42" r="0.59"/><circle cx="268.9" cy="213.73" r="0.5"/><circle cx="282.74" cy="235.47" r="0.41"/><circle cx="270.76" cy="243" r="0.56"/><circle cx="282.65" cy="210.48" r="0.45"/><circle cx="281.06" cy="210.02" r="0.39"/><circle cx="278.68" cy="206.77" r="0.61"/><circle cx="244.03" cy="230.23" r="0.35"/><circle cx="265.05" cy="237.38" r="0.53"/><circle cx="267.89" cy="202.32" r="0.51"/><circle cx="276.51" cy="216.47" r="0.61"/><circle cx="266.28" cy="240.56" r="0.61"/><circle cx="249.99" cy="241.18" r="0.64"/><circle cx="256.76" cy="235.62" r="0.49"/><circle cx="265.02" cy="213.79" r="0.51"/><circle cx="250.18" cy="245.35" r="0.56"/><circle cx="267.1" cy="224.76" r="0.51"/><circle cx="242.76" cy="231.64" r="0.51"/><circle cx="252.15" cy="224.2" r="0.4"/><circle cx="269.02" cy="239.17" r="0.48"/><circle cx="267.43" cy="213.45" r="0.38"/><circle cx="264.86" cy="207.94" r="0.66"/><circle cx="272.8" cy="211.13" r="0.49"/><circle cx="264.03" cy="244.7" r="0.5"/><circle cx="254.02" cy="211.33" r="0.51"/><circle cx="267" cy="207.98" r="0.39"/><circle cx="266.19" cy="232.23" r="0.55"/><circle cx="256.92" cy="225.83" r="0.66"/><circle cx="240.51" cy="223.28" r="0.5"/><circle cx="268.47" cy="208.29" r="0.43"/><circle cx="245.67" cy="226.74" r="0.46"/><circle cx="273.38" cy="218.32" r="0.64"/><circle cx="264.9" cy="239.16" r="0.68"/><circle cx="239.82" cy="237.98" r="0.67"/><circle cx="255.54" cy="214.73" r="0.36"/><circle cx="261.65" cy="233.63" r="0.67"/><circle cx="269.89" cy="201.43" r="0.68"/><circle cx="270.98" cy="238.3" r="0.36"/><circle cx="256.67" cy="227.35" r="0.53"/><circle cx="251.88" cy="223.95" r="0.46"/><circle cx="252.2" cy="231.89" r="0.51"/><circle cx="284.5" cy="224.74" r="0.61"/><circle cx="262.2" cy="240.71" r="0.57"/><circle cx="278.17" cy="217.54" r="0.67"/><circle cx="283.38" cy="215.99" r="0.47"/><circle cx="265.84" cy="226.81" r="0.35"/><circle cx="264.08" cy="199.03" r="0.53"/><circle cx="245.48" cy="229.46" r="0.41"/><circle cx="251.24" cy="238.46" r="0.55"/><circle cx="272.64" cy="227.99" r="0.58"/><circle cx="261.26" cy="209.74" r="0.56"/><circle cx="258.84" cy="230.66" r="0.63"/><circle cx="260.9" cy="219.24" r="0.54"/><circle cx="254.71" cy="223.43" r="0.64"/><circle cx="272.34" cy="225.25" r="0.5"/><circle cx="276.2" cy="230.19" r="0.35"/><circle cx="264.29" cy="232.86" r="0.48"/><circle cx="279.08" cy="236.88" r="0.66"/><circle cx="249.28" cy="232.46" r="0.55"/><circle cx="251.98" cy="212.29" r="0.38"/><circle cx="279.42" cy="211.08" r="0.47"/><circle cx="247.2" cy="226.64" r="0.52"/><circle cx="252.11" cy="242.08" r="0.63"/><circle cx="236.64" cy="220.53" r="0.7"/><circle cx="274.32" cy="214.13" r="0.37"/><circle cx="280.34" cy="222.19" r="0.67"/><circle cx="274.45" cy="205.36" r="0.36"/><circle cx="242.54" cy="229.39" r="0.39"/><circle cx="237.17" cy="216.96" r="0.37"/><circle cx="250.12" cy="230.72" r="0.43"/><circle cx="276.91" cy="210.24" r="0.48"/><circle cx="255.49" cy="242.85" r="0.37"/><circle cx="274.65" cy="224.32" r="0.58"/><circle cx="271.15" cy="203.89" r="0.42"/><circle cx="272.62" cy="239.45" r="0.36"/><circle cx="260.58" cy="224.28" r="0.44"/><circle cx="251.04" cy="223.01" r="0.62"/><circle cx="247.19" cy="208.69" r="0.69"/><circle cx="244.97" cy="225.12" r="0.66"/><circle cx="250.89" cy="214.69" r="0.35"/><circle cx="240.27" cy="229.44" r="0.52"/><circle cx="280.88" cy="220.48" r="0.44"/><circle cx="254.9" cy="203.54" r="0.52"/><circle cx="271.43" cy="206.02" r="0.55"/><circle cx="250.7" cy="231.53" r="0.39"/><circle cx="272.28" cy="230.4" r="0.55"/><circle cx="252.53" cy="242.18" r="0.53"/><circle cx="278.81" cy="236.49" r="0.47"/><circle cx="278.27" cy="215.18" r="0.57"/><circle cx="267.54" cy="206.87" r="0.41"/><circle cx="279.1" cy="212.85" r="0.4"/><circle cx="265.14" cy="218.93" r="0.61"/><circle cx="243.06" cy="224.14" r="0.68"/><circle cx="242.64" cy="217.34" r="0.49"/><circle cx="250.5" cy="226.22" r="0.4"/><circle cx="268.25" cy="216.53" r="0.46"/><circle cx="280.23" cy="236.9" r="0.51"/><circle cx="247.49" cy="224.04" r="0.58"/><circle cx="275.23" cy="232.48" r="0.35"/><circle cx="263.38" cy="224.26" r="0.39"/><circle cx="276.68" cy="241.58" r="0.46"/><circle cx="250.06" cy="224.2" r="0.51"/><circle cx="246.16" cy="241.82" r="0.69"/><circle cx="280.85" cy="223.13" r="0.48"/><circle cx="268.91" cy="234.61" r="0.68"/><circle cx="262.24" cy="209.95" r="0.61"/><circle cx="254.41" cy="238.04" r="0.63"/><circle cx="246.56" cy="202.82" r="0.37"/><circle cx="258.66" cy="220.91" r="0.42"/><circle cx="272.59" cy="206.08" r="0.67"/><circle cx="262.73" cy="215.44" r="0.62"/><circle cx="255.75" cy="210.05" r="0.41"/><circle cx="270.8" cy="208.05" r="0.51"/><circle cx="274.98" cy="231.63" r="0.45"/><circle cx="252.51" cy="240.74" r="0.37"/><circle cx="268.94" cy="234.92" r="0.53"/><circle cx="263.73" cy="247.01" r="0.46"/><circle cx="274.76" cy="235.85" r="0.61"/><circle cx="253.91" cy="202.98" r="0.67"/><circle cx="247.81" cy="221.6" r="0.46"/><circle cx="239.31" cy="211.93" r="0.56"/><circle cx="268.49" cy="237.21" r="0.4"/><circle cx="248.27" cy="241.82" r="0.53"/><circle cx="274.03" cy="221.37" r="0.5"/><circle cx="283.23" cy="235.42" r="0.43"/><circle cx="267.99" cy="233.48" r="0.45"/><circle cx="253.96" cy="245.08" r="0.44"/><circle cx="265.11" cy="222.62" r="0.4"/><circle cx="263.98" cy="202.98" r="0.37"/><circle cx="251.58" cy="210.06" r="0.62"/><circle cx="264.35" cy="231.28" r="0.45"/><circle cx="254.84" cy="202.11" r="0.45"/><circle cx="251.75" cy="230.66" r="0.67"/><circle cx="278.06" cy="224.89" r="0.4"/><circle cx="278.55" cy="239.07" r="0.6"/><circle cx="273.14" cy="203.55" r="0.55"/><circle cx="255.98" cy="215.34" r="0.65"/><circle cx="252.55" cy="207.18" r="0.59"/><circle cx="267.36" cy="205.83" r="0.42"/><circle cx="272.7" cy="220.13" r="0.6"/><circle cx="244.69" cy="227.32" r="0.65"/><circle cx="248.99" cy="242.01" r="0.4"/><circle cx="244.02" cy="225.15" r="0.63"/><circle cx="256.7" cy="232.71" r="0.6"/><circle cx="248.18" cy="211.36" r="0.5"/><circle cx="252.01" cy="236.17" r="0.65"/><circle cx="277.28" cy="238.35" r="0.69"/><circle cx="255.06" cy="226.55" r="0.42"/><circle cx="247.03" cy="219.17" r="0.55"/><circle cx="247.27" cy="226.45" r="0.5"/><circle cx="245.24" cy="231.64" r="0.46"/><circle cx="256.43" cy="229.99" r="0.37"/><circle cx="250.16" cy="214.4" r="0.59"/><circle cx="251.95" cy="215.83" r="0.59"/><circle cx="251.5" cy="208.05" r="0.37"/><circle cx="281.02" cy="216.27" r="0.43"/><circle cx="280.9" cy="208.56" r="0.49"/><circle cx="252.68" cy="206.84" r="0.51"/><circle cx="274.84" cy="242.74" r="0.48"/><circle cx="274.04" cy="236.24" r="0.67"/><circle cx="253.3" cy="242.83" r="0.42"/><circle cx="265.46" cy="248.31" r="0.61"/><circle cx="275.05" cy="205.79" r="0.48"/><circle cx="264.19" cy="240.4" r="0.43"/><circle cx="263.02" cy="237.08" r="0.59"/><circle cx="253.04" cy="206.52" r="0.55"/><circle cx="262.25" cy="198.4" r="0.68"/><circle cx="253.36" cy="242.53" r="0.37"/><circle cx="262.38" cy="237.77" r="0.57"/><circle cx="257.57" cy="231.85" r="0.6"/><circle cx="259.91" cy="210.72" r="0.57"/><circle cx="268.71" cy="219.01" r="0.41"/><circle cx="278.7" cy="226.8" r="0.5"/><circle cx="265.65" cy="208.7" r="0.56"/><circle cx="241.05" cy="226.99" r="0.43"/><circle cx="254.87" cy="216.3" r="0.62"/><circle cx="246.31" cy="210.21" r="0.64"/><circle cx="255.38" cy="202.17" r="0.53"/><circle cx="246.31" cy="230.89" r="0.49"/><circle cx="242.05" cy="237.42" r="0.66"/><circle cx="241.55" cy="207.58" r="0.52"/><circle cx="257.27" cy="199.88" r="0.42"/><circle cx="245.16" cy="209.69" r="0.56"/><circle cx="281.82" cy="217.75" r="0.54"/><circle cx="286.12" cy="223.18" r="0.48"/><circle cx="281.38" cy="233.36" r="0.5"/><circle cx="278.24" cy="209.52" r="0.39"/><circle cx="246.06" cy="214.21" r="0.65"/><circle cx="260.91" cy="248.48" r="0.47"/><circle cx="274.76" cy="223.71" r="0.65"/><circle cx="285.65" cy="222.79" r="0.38"/><circle cx="264.93" cy="225.26" r="0.62"/><circle cx="286.1" cy="221.71" r="0.47"/><circle cx="257.46" cy="236.92" r="0.7"/><circle cx="261.75" cy="223.9" r="0.68"/><circle cx="240.48" cy="234.73" r="0.42"/><circle cx="251.06" cy="239.15" r="0.38"/><circle cx="266.06" cy="218.06" r="0.38"/><circle cx="250.81" cy="211.81" r="0.69"/><circle cx="251.37" cy="205.3" r="0.43"/><circle cx="272.32" cy="240.72" r="0.44"/><circle cx="270.73" cy="228.98" r="0.58"/><circle cx="242.12" cy="239.04" r="0.39"/><circle cx="238.94" cy="229.15" r="0.67"/><circle cx="271.31" cy="243.14" r="0.65"/><circle cx="270.15" cy="246.98" r="0.69"/><circle cx="249.04" cy="220.68" r="0.54"/><circle cx="258.89" cy="245.15" r="0.57"/><circle cx="254.19" cy="205.39" r="0.58"/><circle cx="258.48" cy="243.87" r="0.69"/><circle cx="282.07" cy="213.01" r="0.57"/><circle cx="264.08" cy="203.03" r="0.36"/><circle cx="281.75" cy="237.63" r="0.49"/><circle cx="260.15" cy="210.07" r="0.58"/><circle cx="273.12" cy="207.4" r="0.65"/><circle cx="263.22" cy="215.75" r="0.49"/><circle cx="245.84" cy="235.9" r="0.52"/><circle cx="240.94" cy="211.24" r="0.48"/><circle cx="248.58" cy="204.71" r="0.54"/><circle cx="271.21" cy="206.79" r="0.52"/><circle cx="277.92" cy="212.04" r="0.64"/><circle cx="238.04" cy="212.77" r="0.35"/><circle cx="241.7" cy="234.21" r="0.67"/><circle cx="275.79" cy="207.91" r="0.56"/><circle cx="268.18" cy="211.02" r="0.37"/><circle cx="251.95" cy="201.63" r="0.63"/><circle cx="246.33" cy="232.19" r="0.6"/><circle cx="268.95" cy="205.02" r="0.66"/><circle cx="253.44" cy="207.18" r="0.63"/><circle cx="245.74" cy="219.27" r="0.44"/><circle cx="259.39" cy="237.84" r="0.39"/><circle cx="280.16" cy="220.83" r="0.48"/><circle cx="264.4" cy="199.72" r="0.42"/><circle cx="247.82" cy="205.29" r="0.67"/><circle cx="236.75" cy="228.51" r="0.66"/><circle cx="263.61" cy="217.34" r="0.62"/><circle cx="266.23" cy="235.41" r="0.6"/><circle cx="249.74" cy="207.36" r="0.61"/><circle cx="265.12" cy="225.63" r="0.51"/><circle cx="277.41" cy="238.42" r="0.64"/><circle cx="276.44" cy="232.84" r="0.36"/><circle cx="250.94" cy="214.25" r="0.62"/><circle cx="256.45" cy="201.47" r="0.48"/><circle cx="248.17" cy="232.98" r="0.44"/><circle cx="246.63" cy="240.77" r="0.49"/><circle cx="275.85" cy="203.36" r="0.48"/><circle cx="242.82" cy="209.51" r="0.53"/><circle cx="281.31" cy="223.71" r="0.66"/><circle cx="279.46" cy="211.9" r="0.45"/><circle cx="262.66" cy="224.26" r="0.43"/><circle cx="236.74" cy="215.56" r="0.42"/><circle cx="263.11" cy="203.06" r="0.44"/><circle cx="277.26" cy="215.58" r="0.6"/><circle cx="273.54" cy="235.65" r="0.53"/><circle cx="243.99" cy="229.55" r="0.47"/><circle cx="247.88" cy="241.91" r="0.66"/><circle cx="266.83" cy="242.12" r="0.57"/><circle cx="264.6" cy="211.57" r="0.57"/><circle cx="250.86" cy="229.22" r="0.61"/><circle cx="272.74" cy="228.31" r="0.49"/><circle cx="238.66" cy="215.51" r="0.65"/><circle cx="273.49" cy="216.25" r="0.48"/><circle cx="282.99" cy="228.26" r="0.54"/><circle cx="249.53" cy="202.07" r="0.45"/><circle cx="260.93" cy="204.49" r="0.53"/><circle cx="259.37" cy="243.66" r="0.43"/><circle cx="241.28" cy="227.87" r="0.46"/><circle cx="280.68" cy="229.25" r="0.59"/><circle cx="247.01" cy="224.5" r="0.42"/><circle cx="269.9" cy="220.59" r="0.67"/><circle cx="266.17" cy="236.13" r="0.39"/><circle cx="247.11" cy="233.71" r="0.59"/><circle cx="251.98" cy="211.82" r="0.38"/><circle cx="240.23" cy="214.89" r="0.45"/><circle cx="244.41" cy="217.32" r="0.39"/><circle cx="255.98" cy="199.45" r="0.42"/><circle cx="280.6" cy="228.46" r="0.57"/><circle cx="262.34" cy="229.07" r="0.41"/><circle cx="280.5" cy="229.83" r="0.62"/><circle cx="249.2" cy="206.44" r="0.62"/><circle cx="243.4" cy="211.92" r="0.68"/><circle cx="269.93" cy="239.31" r="0.64"/><circle cx="262.43" cy="198.81" r="0.51"/><circle cx="278.55" cy="220.59" r="0.44"/><circle cx="243.51" cy="238.96" r="0.53"/><circle cx="238.02" cy="220.88" r="0.4"/><circle cx="255.31" cy="203.85" r="0.7"/><circle cx="272.4" cy="201.72" r="0.63"/><circle cx="264.68" cy="237.85" r="0.51"/><circle cx="273.73" cy="216.63" r="0.58"/><circle cx="248.07" cy="203.51" r="0.59"/><circle cx="284.95" cy="229.81" r="0.43"/><circle cx="244.78" cy="207.56" r="0.51"/><circle cx="254.36" cy="213.06" r="0.56"/><circle cx="257.87" cy="207.17" r="0.38"/><circle cx="268.07" cy="203.99" r="0.57"/><circle cx="239.27" cy="217.53" r="0.46"/><circle cx="282.15" cy="213.57" r="0.42"/><circle cx="260.34" cy="244.82" r="0.55"/><circle cx="244.08" cy="240.36" r="0.61"/><circle cx="268.85" cy="233.1" r="0.64"/><circle cx="282.31" cy="213.62" r="0.64"/><circle cx="264.69" cy="229.98" r="0.48"/><circle cx="266.54" cy="219.88" r="0.43"/><circle cx="267.01" cy="208.82" r="0.51"/><circle cx="280.22" cy="235.08" r="0.38"/><circle cx="280.58" cy="212.59" r="0.38"/><circle cx="251.79" cy="231.19" r="0.46"/><circle cx="268.44" cy="238.47" r="0.67"/><circle cx="284.89" cy="225.54" r="0.44"/><circle cx="251.68" cy="244.98" r="0.57"/><circle cx="264.46" cy="239.67" r="0.49"/><circle cx="255.21" cy="227.69" r="0.4"/><circle cx="277.63" cy="238.1" r="0.45"/><circle cx="270.18" cy="215.27" r="0.41"/><circle cx="252" cy="241.75" r="0.55"/><circle cx="248.71" cy="219.68" r="0.66"/><circle cx="246.27" cy="205.21" r="0.42"/><circle cx="252.45" cy="214.35" r="0.46"/><circle cx="283.68" cy="213.95" r="0.63"/><circle cx="246.66" cy="237.06" r="0.67"/><circle cx="259.28" cy="233.9" r="0.64"/><circle cx="246.05" cy="230.86" r="0.46"/><circle cx="263.41" cy="201.96" r="0.5"/><circle cx="268.84" cy="216.74" r="0.62"/><circle cx="244.42" cy="238.4" r="0.59"/><circle cx="244.51" cy="220.66" r="0.35"/><circle cx="269.01" cy="206.97" r="0.69"/></g>
<circle cx="201.5" cy="294.2" r="28" fill="#c6c6cb" filter="url(#fE3)"/>
<circle cx="201.5" cy="294.2" r="26.4" fill="none" stroke="#e2e2e6" stroke-width="2.6" opacity="0.7"/>
<circle cx="201.5" cy="294.2" r="27.7" fill="none" stroke="#8e8e96" stroke-width="0.6" opacity="0.6"/>
<g fill="#2a2a32" opacity="0.62"><circle cx="188" cy="304.57" r="0.59"/><circle cx="186.41" cy="274.44" r="0.43"/><circle cx="214.61" cy="273.49" r="0.54"/><circle cx="185.48" cy="282.7" r="0.5"/><circle cx="220.41" cy="300.27" r="0.36"/><circle cx="188.95" cy="274.42" r="0.65"/><circle cx="218.85" cy="311.34" r="0.64"/><circle cx="217.95" cy="280.58" r="0.65"/><circle cx="200.76" cy="308.48" r="0.55"/><circle cx="197.56" cy="286.6" r="0.5"/><circle cx="191.07" cy="272.77" r="0.64"/><circle cx="212.19" cy="297.24" r="0.61"/><circle cx="181.05" cy="304.1" r="0.51"/><circle cx="183.39" cy="277.55" r="0.53"/><circle cx="187.69" cy="291.93" r="0.56"/><circle cx="195.66" cy="273.52" r="0.52"/><circle cx="186.69" cy="279.4" r="0.42"/><circle cx="194.02" cy="270.3" r="0.58"/><circle cx="218.64" cy="313.14" r="0.57"/><circle cx="182.45" cy="289.36" r="0.65"/><circle cx="194.49" cy="306.32" r="0.4"/><circle cx="213.97" cy="278.06" r="0.57"/><circle cx="206.03" cy="299.31" r="0.48"/><circle cx="214.25" cy="285.31" r="0.45"/><circle cx="182.71" cy="304.51" r="0.39"/><circle cx="209.54" cy="297.34" r="0.54"/><circle cx="192.71" cy="271.39" r="0.35"/><circle cx="190.38" cy="281.26" r="0.56"/><circle cx="177.84" cy="292.51" r="0.48"/><circle cx="192.25" cy="294.01" r="0.69"/><circle cx="202.43" cy="292.76" r="0.58"/><circle cx="201.58" cy="317.18" r="0.61"/><circle cx="187.97" cy="304.51" r="0.65"/><circle cx="187.98" cy="299.13" r="0.47"/><circle cx="187.18" cy="282.29" r="0.42"/><circle cx="195.77" cy="271.06" r="0.62"/><circle cx="216.84" cy="276.86" r="0.52"/><circle cx="204.56" cy="284.84" r="0.45"/><circle cx="197.86" cy="273.87" r="0.65"/><circle cx="185.72" cy="283.19" r="0.49"/><circle cx="193.72" cy="290.94" r="0.66"/><circle cx="203.46" cy="273.44" r="0.63"/><circle cx="191.57" cy="316.2" r="0.54"/><circle cx="187.39" cy="314.81" r="0.4"/><circle cx="200.32" cy="287.01" r="0.47"/><circle cx="218.4" cy="278.17" r="0.6"/><circle cx="202.61" cy="317.74" r="0.5"/><circle cx="205.6" cy="300.95" r="0.64"/><circle cx="181.18" cy="296.1" r="0.63"/><circle cx="203.38" cy="282.97" r="0.69"/><circle cx="190.18" cy="271.07" r="0.37"/><circle cx="179.5" cy="306.3" r="0.65"/><circle cx="197.26" cy="301.04" r="0.64"/><circle cx="213.6" cy="282.46" r="0.62"/><circle cx="179.63" cy="283.47" r="0.7"/><circle cx="199.89" cy="281.19" r="0.62"/><circle cx="187.35" cy="313.8" r="0.65"/><circle cx="216.16" cy="293.31" r="0.44"/><circle cx="199.32" cy="316.71" r="0.54"/><circle cx="184.36" cy="287.23" r="0.52"/><circle cx="184.18" cy="298.28" r="0.36"/><circle cx="219.49" cy="276.21" r="0.39"/><circle cx="206.48" cy="283.41" r="0.66"/><circle cx="201.33" cy="295.4" r="0.64"/><circle cx="185.5" cy="307.94" r="0.58"/><circle cx="201.54" cy="318.05" r="0.44"/><circle cx="200.74" cy="300.25" r="0.44"/><circle cx="198.67" cy="308.75" r="0.47"/><circle cx="212.73" cy="290.12" r="0.67"/><circle cx="219.25" cy="312.75" r="0.59"/><circle cx="213.87" cy="303.56" r="0.56"/><circle cx="187.9" cy="273.68" r="0.6"/><circle cx="206.91" cy="269.36" r="0.57"/><circle cx="207.66" cy="294.85" r="0.62"/><circle cx="222.57" cy="287.54" r="0.64"/><circle cx="201.46" cy="298.23" r="0.49"/><circle cx="225.75" cy="291.09" r="0.68"/><circle cx="192.44" cy="303.85" r="0.67"/><circle cx="211.78" cy="287.22" r="0.38"/><circle cx="200.29" cy="289.4" r="0.63"/><circle cx="198.57" cy="289.19" r="0.55"/><circle cx="185.57" cy="274.36" r="0.46"/><circle cx="190" cy="277.62" r="0.69"/><circle cx="195.15" cy="278.09" r="0.41"/><circle cx="205.17" cy="315.68" r="0.58"/><circle cx="213.19" cy="305.43" r="0.63"/><circle cx="202.55" cy="295.37" r="0.62"/><circle cx="183.26" cy="305.74" r="0.5"/><circle cx="197.11" cy="279.9" r="0.45"/><circle cx="205.92" cy="297.22" r="0.67"/><circle cx="189.19" cy="306.28" r="0.38"/><circle cx="210.01" cy="275.2" r="0.65"/><circle cx="218.76" cy="278.5" r="0.46"/><circle cx="179.28" cy="290.92" r="0.39"/><circle cx="212.95" cy="298.43" r="0.5"/><circle cx="213.25" cy="279.27" r="0.47"/><circle cx="219.33" cy="291.26" r="0.5"/><circle cx="202.65" cy="279.85" r="0.4"/><circle cx="193.79" cy="308.29" r="0.61"/><circle cx="205.05" cy="301.48" r="0.68"/><circle cx="218.22" cy="299.76" r="0.62"/><circle cx="201.04" cy="297.09" r="0.64"/><circle cx="208.19" cy="287.28" r="0.36"/><circle cx="217.72" cy="285.25" r="0.5"/><circle cx="189.6" cy="297.3" r="0.49"/><circle cx="220.2" cy="299.47" r="0.55"/><circle cx="217.35" cy="290.87" r="0.54"/><circle cx="215.52" cy="306.66" r="0.61"/><circle cx="223.39" cy="297.45" r="0.54"/><circle cx="184.05" cy="279.71" r="0.5"/><circle cx="201.43" cy="316.56" r="0.36"/><circle cx="193.08" cy="307.65" r="0.51"/><circle cx="216.68" cy="290.35" r="0.55"/><circle cx="176.69" cy="288.76" r="0.63"/><circle cx="214.67" cy="297.78" r="0.5"/><circle cx="198.5" cy="306.75" r="0.56"/><circle cx="196.02" cy="315.18" r="0.4"/><circle cx="198.57" cy="318.6" r="0.53"/><circle cx="201.97" cy="269.56" r="0.63"/><circle cx="209.3" cy="279.62" r="0.39"/><circle cx="197.02" cy="318.57" r="0.65"/><circle cx="219.92" cy="277.52" r="0.61"/><circle cx="181.77" cy="310.65" r="0.6"/><circle cx="190.01" cy="305.14" r="0.69"/><circle cx="210.8" cy="293.86" r="0.56"/><circle cx="187.42" cy="292.39" r="0.39"/><circle cx="203.01" cy="276.25" r="0.55"/><circle cx="208.49" cy="306.49" r="0.66"/><circle cx="181.49" cy="301.42" r="0.57"/><circle cx="186.96" cy="295.51" r="0.63"/><circle cx="213.32" cy="298.22" r="0.38"/><circle cx="213.92" cy="294.89" r="0.41"/><circle cx="208.12" cy="279.96" r="0.46"/><circle cx="198.77" cy="308.27" r="0.39"/><circle cx="198.28" cy="279.37" r="0.58"/><circle cx="219.18" cy="280.99" r="0.6"/><circle cx="199.48" cy="278.39" r="0.45"/><circle cx="203.63" cy="311.38" r="0.56"/><circle cx="205.99" cy="289.86" r="0.43"/><circle cx="198.19" cy="304.96" r="0.44"/><circle cx="198.26" cy="270.15" r="0.66"/><circle cx="179.63" cy="286.63" r="0.57"/><circle cx="210.7" cy="316.54" r="0.41"/><circle cx="205.39" cy="315.44" r="0.51"/><circle cx="213.52" cy="292.33" r="0.6"/><circle cx="214.78" cy="285.51" r="0.66"/><circle cx="216.28" cy="314.24" r="0.66"/><circle cx="206.84" cy="319.43" r="0.4"/><circle cx="205.64" cy="270.36" r="0.55"/><circle cx="211.98" cy="282.17" r="0.63"/><circle cx="196.87" cy="277.26" r="0.42"/><circle cx="205.87" cy="287.72" r="0.37"/><circle cx="199.95" cy="304.46" r="0.5"/><circle cx="177.48" cy="300.48" r="0.42"/><circle cx="180.34" cy="300.75" r="0.59"/><circle cx="191.91" cy="310.85" r="0.61"/><circle cx="215.12" cy="290.27" r="0.67"/><circle cx="215.55" cy="309.31" r="0.59"/><circle cx="187.42" cy="314.74" r="0.53"/><circle cx="185.81" cy="286.15" r="0.66"/><circle cx="214.83" cy="276.87" r="0.68"/><circle cx="214.45" cy="279.73" r="0.39"/><circle cx="222.49" cy="290.98" r="0.45"/><circle cx="204.87" cy="269.81" r="0.5"/><circle cx="209.87" cy="314.61" r="0.39"/><circle cx="185.06" cy="284.89" r="0.41"/><circle cx="178.6" cy="302.9" r="0.49"/><circle cx="184.12" cy="295.02" r="0.39"/><circle cx="199.66" cy="289.81" r="0.49"/><circle cx="194.03" cy="289.36" r="0.41"/><circle cx="190.09" cy="304.87" r="0.52"/><circle cx="220.59" cy="285.97" r="0.64"/><circle cx="208.06" cy="301.23" r="0.47"/><circle cx="205.96" cy="289.43" r="0.53"/><circle cx="213.73" cy="273.16" r="0.65"/><circle cx="195.68" cy="293.59" r="0.53"/><circle cx="185.02" cy="297.92" r="0.65"/><circle cx="198.63" cy="290.78" r="0.48"/><circle cx="184.17" cy="282.14" r="0.64"/><circle cx="189.59" cy="285.08" r="0.65"/><circle cx="188.19" cy="276.42" r="0.46"/><circle cx="186.49" cy="302.67" r="0.68"/><circle cx="187.99" cy="282.61" r="0.56"/><circle cx="205.62" cy="292.22" r="0.47"/><circle cx="188.05" cy="276.13" r="0.43"/><circle cx="183.13" cy="277.59" r="0.62"/><circle cx="192.04" cy="296.53" r="0.5"/><circle cx="177.98" cy="289.88" r="0.56"/><circle cx="195.83" cy="310.15" r="0.51"/><circle cx="189.96" cy="316.34" r="0.55"/><circle cx="200.37" cy="299.97" r="0.51"/><circle cx="221.6" cy="307.17" r="0.5"/><circle cx="193.96" cy="309.44" r="0.64"/><circle cx="207.23" cy="315.08" r="0.53"/><circle cx="196.74" cy="283.94" r="0.44"/><circle cx="204.44" cy="270.87" r="0.42"/><circle cx="197.25" cy="311.34" r="0.65"/><circle cx="216.03" cy="282.59" r="0.5"/><circle cx="200.37" cy="294.56" r="0.67"/><circle cx="192.09" cy="315.05" r="0.67"/></g>
<circle cx="261.7" cy="294.7" r="29" fill="#b3b3b9" filter="url(#fE4)"/>
<circle cx="261.7" cy="294.7" r="27.4" fill="none" stroke="#c8c8ce" stroke-width="1.2" opacity="0.7"/>
<circle cx="261.7" cy="294.7" r="28.7" fill="none" stroke="#8e8e96" stroke-width="0.6" opacity="0.6"/>
<g fill="#2a2a32" opacity="0.62"><circle cx="238.9" cy="306.45" r="0.58"/><circle cx="247.53" cy="308.28" r="0.58"/><circle cx="250.27" cy="305.39" r="0.49"/><circle cx="253.47" cy="280.8" r="0.63"/><circle cx="269.34" cy="274.38" r="0.54"/><circle cx="271.21" cy="275.27" r="0.58"/><circle cx="239.84" cy="285.25" r="0.38"/><circle cx="258.14" cy="300.94" r="0.66"/><circle cx="272.54" cy="272.17" r="0.56"/><circle cx="269.46" cy="276.21" r="0.38"/><circle cx="283.44" cy="295.5" r="0.42"/><circle cx="258.95" cy="278.35" r="0.63"/><circle cx="261.73" cy="271.64" r="0.64"/><circle cx="239.3" cy="296.19" r="0.38"/><circle cx="260.57" cy="305.45" r="0.54"/><circle cx="259.1" cy="293.82" r="0.5"/><circle cx="267.24" cy="271.2" r="0.52"/><circle cx="246.4" cy="315.9" r="0.68"/><circle cx="273.5" cy="298.84" r="0.36"/><circle cx="257.24" cy="285.85" r="0.55"/><circle cx="250.23" cy="276.65" r="0.57"/><circle cx="259.92" cy="280.55" r="0.49"/><circle cx="253.48" cy="280.29" r="0.36"/><circle cx="246.04" cy="316.33" r="0.44"/><circle cx="247.12" cy="300.73" r="0.67"/><circle cx="249.6" cy="309.87" r="0.48"/><circle cx="265.24" cy="300.26" r="0.68"/><circle cx="276.62" cy="295.17" r="0.64"/><circle cx="253.96" cy="287.98" r="0.69"/><circle cx="264.36" cy="310.56" r="0.46"/><circle cx="285.79" cy="301.24" r="0.44"/><circle cx="286.85" cy="292.9" r="0.47"/><circle cx="244.34" cy="305.85" r="0.4"/><circle cx="247.71" cy="291.65" r="0.54"/><circle cx="254.77" cy="311.24" r="0.44"/><circle cx="254.08" cy="290.35" r="0.4"/><circle cx="245.59" cy="274.2" r="0.6"/><circle cx="241.2" cy="304.45" r="0.43"/><circle cx="270.22" cy="303.78" r="0.47"/><circle cx="286.82" cy="303.79" r="0.55"/><circle cx="248.13" cy="292.95" r="0.68"/><circle cx="264.16" cy="271.31" r="0.65"/><circle cx="278.74" cy="283.4" r="0.4"/><circle cx="254.69" cy="299.86" r="0.35"/><circle cx="258.78" cy="311.19" r="0.52"/><circle cx="263.33" cy="282.89" r="0.69"/><circle cx="247.09" cy="305.21" r="0.58"/><circle cx="282.3" cy="288.77" r="0.51"/><circle cx="263.07" cy="314.15" r="0.51"/><circle cx="258.12" cy="299.17" r="0.63"/><circle cx="257.21" cy="305.17" r="0.69"/><circle cx="256.99" cy="277.27" r="0.36"/><circle cx="282.68" cy="293.31" r="0.49"/><circle cx="262.84" cy="272.69" r="0.43"/><circle cx="246.38" cy="280.5" r="0.65"/><circle cx="282.97" cy="298.08" r="0.36"/><circle cx="271.86" cy="305.5" r="0.58"/><circle cx="277.63" cy="290.29" r="0.43"/><circle cx="275.87" cy="301.95" r="0.6"/><circle cx="243.35" cy="287.32" r="0.59"/><circle cx="255.01" cy="300.64" r="0.52"/><circle cx="276.46" cy="285.91" r="0.52"/><circle cx="280.75" cy="283.72" r="0.41"/><circle cx="269.62" cy="273.42" r="0.65"/><circle cx="263.66" cy="274.64" r="0.53"/><circle cx="272.29" cy="293.9" r="0.57"/><circle cx="242.82" cy="311.97" r="0.36"/><circle cx="262.12" cy="269.56" r="0.4"/><circle cx="266.83" cy="318.15" r="0.46"/><circle cx="256.06" cy="293.31" r="0.56"/><circle cx="253.02" cy="286.08" r="0.65"/><circle cx="264.93" cy="286.14" r="0.64"/><circle cx="244.23" cy="311.66" r="0.39"/><circle cx="281.97" cy="278.82" r="0.49"/><circle cx="267.17" cy="272.2" r="0.62"/><circle cx="258.13" cy="310.38" r="0.62"/><circle cx="280.31" cy="279.72" r="0.56"/><circle cx="244.62" cy="296.93" r="0.61"/><circle cx="254.56" cy="296.61" r="0.4"/><circle cx="282.76" cy="302.03" r="0.64"/><circle cx="237.95" cy="297.98" r="0.43"/><circle cx="260.13" cy="293.01" r="0.49"/><circle cx="284.83" cy="285.35" r="0.45"/><circle cx="277.91" cy="302.39" r="0.36"/><circle cx="236.3" cy="287.53" r="0.44"/><circle cx="238.73" cy="295.38" r="0.62"/><circle cx="257.41" cy="276.05" r="0.69"/><circle cx="257.25" cy="285.59" r="0.64"/><circle cx="265.07" cy="320.94" r="0.6"/><circle cx="287.41" cy="297.11" r="0.59"/><circle cx="250.15" cy="279.86" r="0.45"/><circle cx="239.62" cy="279.78" r="0.57"/><circle cx="244.57" cy="278.09" r="0.44"/><circle cx="275.62" cy="303.93" r="0.46"/><circle cx="284.85" cy="298.14" r="0.43"/><circle cx="279.66" cy="313.06" r="0.35"/><circle cx="281.83" cy="290.1" r="0.53"/><circle cx="287.56" cy="291.89" r="0.43"/><circle cx="259.08" cy="306.95" r="0.57"/><circle cx="286.98" cy="294.96" r="0.67"/><circle cx="250.48" cy="272.9" r="0.57"/><circle cx="251.54" cy="290.3" r="0.45"/><circle cx="251.43" cy="296.87" r="0.63"/><circle cx="258.16" cy="291.47" r="0.68"/><circle cx="255.15" cy="288" r="0.49"/><circle cx="246.43" cy="306.53" r="0.45"/><circle cx="262.25" cy="298.85" r="0.62"/><circle cx="275.62" cy="293.61" r="0.68"/><circle cx="274.12" cy="292.05" r="0.48"/><circle cx="282.6" cy="293.17" r="0.61"/><circle cx="255.18" cy="286.89" r="0.36"/><circle cx="275.05" cy="282.51" r="0.52"/><circle cx="274.79" cy="313.95" r="0.68"/><circle cx="271.18" cy="279.21" r="0.68"/><circle cx="235.85" cy="289.63" r="0.67"/><circle cx="281.73" cy="300.19" r="0.65"/><circle cx="262.17" cy="277.64" r="0.65"/><circle cx="245.61" cy="289.38" r="0.66"/><circle cx="252.17" cy="298.78" r="0.63"/><circle cx="268.56" cy="313.89" r="0.36"/><circle cx="238.19" cy="290.59" r="0.57"/><circle cx="238.66" cy="284.46" r="0.36"/><circle cx="274.87" cy="313.91" r="0.62"/><circle cx="251.39" cy="280.19" r="0.69"/><circle cx="256.77" cy="316.72" r="0.59"/><circle cx="278.27" cy="295.41" r="0.62"/><circle cx="261.62" cy="281.53" r="0.52"/><circle cx="252.12" cy="276.17" r="0.63"/><circle cx="263.2" cy="284.04" r="0.67"/><circle cx="287.09" cy="290.35" r="0.54"/><circle cx="267.79" cy="287.81" r="0.48"/><circle cx="240.27" cy="288.73" r="0.39"/><circle cx="279.67" cy="296.92" r="0.48"/><circle cx="282.11" cy="283.11" r="0.66"/><circle cx="274.32" cy="302.12" r="0.56"/><circle cx="269.41" cy="318.06" r="0.7"/><circle cx="283.93" cy="302.63" r="0.39"/><circle cx="284.19" cy="287.67" r="0.47"/><circle cx="270.11" cy="278.83" r="0.65"/><circle cx="260.94" cy="292.23" r="0.61"/><circle cx="248.99" cy="282.63" r="0.45"/><circle cx="264.62" cy="273.34" r="0.55"/><circle cx="280.28" cy="305.58" r="0.44"/><circle cx="260.56" cy="271.16" r="0.52"/><circle cx="270.23" cy="319.13" r="0.45"/><circle cx="251.18" cy="305.21" r="0.4"/><circle cx="248.32" cy="301.51" r="0.53"/><circle cx="242.41" cy="277.2" r="0.52"/><circle cx="272.42" cy="296.52" r="0.45"/><circle cx="256.67" cy="313.35" r="0.39"/><circle cx="264.42" cy="293.47" r="0.39"/><circle cx="256.73" cy="275.58" r="0.49"/><circle cx="279.11" cy="286.48" r="0.6"/><circle cx="260.03" cy="308.8" r="0.49"/><circle cx="288.34" cy="292.73" r="0.63"/><circle cx="243.14" cy="307.92" r="0.42"/><circle cx="256.4" cy="287.72" r="0.58"/><circle cx="266.2" cy="281.65" r="0.68"/><circle cx="235.03" cy="293.36" r="0.4"/><circle cx="274.44" cy="299.22" r="0.64"/><circle cx="239.67" cy="279.48" r="0.59"/><circle cx="266.06" cy="305.69" r="0.43"/><circle cx="260.25" cy="284.62" r="0.69"/><circle cx="265.66" cy="306.25" r="0.51"/><circle cx="245.77" cy="308.42" r="0.42"/><circle cx="260.55" cy="285.49" r="0.4"/><circle cx="254.17" cy="294.15" r="0.67"/><circle cx="277.92" cy="290.9" r="0.45"/><circle cx="246.55" cy="286.13" r="0.54"/><circle cx="243.75" cy="288.7" r="0.55"/><circle cx="280.44" cy="304.61" r="0.51"/><circle cx="237.22" cy="289.89" r="0.54"/><circle cx="271.29" cy="273.01" r="0.6"/><circle cx="278.92" cy="310.57" r="0.37"/><circle cx="247.85" cy="274.4" r="0.45"/><circle cx="237.09" cy="300.89" r="0.65"/><circle cx="255.59" cy="310.91" r="0.35"/><circle cx="262.77" cy="308.81" r="0.5"/><circle cx="279.77" cy="282.18" r="0.61"/><circle cx="242.42" cy="301.42" r="0.6"/><circle cx="267.45" cy="291.13" r="0.64"/><circle cx="256.6" cy="269.8" r="0.4"/><circle cx="241.38" cy="310.9" r="0.37"/><circle cx="265.31" cy="279.16" r="0.4"/><circle cx="245.57" cy="277.5" r="0.41"/><circle cx="244.85" cy="276.35" r="0.37"/><circle cx="273.72" cy="271.75" r="0.64"/><circle cx="259.82" cy="312.26" r="0.52"/><circle cx="251.08" cy="318.8" r="0.7"/><circle cx="246.48" cy="314.62" r="0.36"/><circle cx="280.58" cy="285.69" r="0.7"/><circle cx="256.17" cy="294.95" r="0.62"/><circle cx="287.6" cy="295.59" r="0.42"/><circle cx="251.39" cy="281.01" r="0.51"/><circle cx="251.37" cy="302.03" r="0.43"/><circle cx="272.49" cy="318.72" r="0.61"/><circle cx="237.43" cy="293.58" r="0.64"/><circle cx="266.91" cy="293.77" r="0.7"/><circle cx="255.67" cy="274.87" r="0.66"/><circle cx="245.92" cy="304.17" r="0.51"/><circle cx="258.06" cy="296.88" r="0.44"/><circle cx="270.15" cy="300.49" r="0.63"/><circle cx="280.24" cy="284.35" r="0.69"/><circle cx="265.91" cy="277.1" r="0.53"/><circle cx="264.31" cy="295.29" r="0.48"/><circle cx="266.63" cy="297.05" r="0.63"/><circle cx="252.59" cy="292.13" r="0.35"/><circle cx="283.4" cy="295.71" r="0.55"/><circle cx="255.2" cy="297.73" r="0.38"/><circle cx="241.79" cy="296.71" r="0.45"/><circle cx="261.92" cy="294.37" r="0.69"/><circle cx="271.15" cy="284.18" r="0.41"/><circle cx="253.83" cy="317.61" r="0.63"/><circle cx="259.28" cy="315.63" r="0.53"/><circle cx="241.33" cy="306.74" r="0.65"/><circle cx="272.14" cy="282.75" r="0.52"/><circle cx="240.25" cy="279.97" r="0.37"/><circle cx="260.8" cy="305.36" r="0.59"/><circle cx="259.99" cy="280.31" r="0.52"/><circle cx="264.02" cy="287.73" r="0.43"/><circle cx="266.54" cy="303.39" r="0.43"/><circle cx="240.14" cy="309.5" r="0.69"/><circle cx="275.03" cy="313.35" r="0.6"/><circle cx="255.27" cy="299.39" r="0.51"/><circle cx="250.42" cy="298.83" r="0.68"/><circle cx="283.7" cy="309.82" r="0.57"/><circle cx="276.39" cy="283.48" r="0.37"/><circle cx="266.87" cy="278.3" r="0.51"/><circle cx="246.2" cy="295.7" r="0.63"/><circle cx="272.09" cy="287.76" r="0.66"/><circle cx="239.38" cy="288.24" r="0.38"/><circle cx="252.76" cy="288.87" r="0.41"/><circle cx="259.46" cy="314.07" r="0.58"/><circle cx="250.13" cy="272.65" r="0.39"/><circle cx="279.9" cy="280.71" r="0.54"/><circle cx="243.9" cy="306.25" r="0.38"/><circle cx="260.1" cy="291.17" r="0.53"/><circle cx="244.84" cy="305.35" r="0.69"/><circle cx="248.83" cy="285.38" r="0.65"/><circle cx="263.62" cy="292.82" r="0.42"/><circle cx="272.47" cy="288.65" r="0.69"/><circle cx="245.32" cy="296.13" r="0.39"/><circle cx="284.09" cy="308.94" r="0.53"/><circle cx="271.63" cy="278.8" r="0.41"/><circle cx="245.34" cy="281.25" r="0.49"/><circle cx="261.85" cy="281.33" r="0.47"/><circle cx="279.08" cy="312.04" r="0.44"/><circle cx="265.4" cy="271.91" r="0.57"/><circle cx="268.71" cy="276.13" r="0.64"/><circle cx="248.25" cy="274.54" r="0.62"/><circle cx="276.2" cy="279.08" r="0.5"/><circle cx="242.86" cy="292.58" r="0.69"/><circle cx="247.99" cy="286.53" r="0.65"/><circle cx="264.71" cy="295.03" r="0.6"/><circle cx="265.52" cy="292.44" r="0.65"/><circle cx="279.1" cy="286.11" r="0.35"/><circle cx="276.76" cy="285.34" r="0.65"/><circle cx="249.8" cy="285.86" r="0.47"/><circle cx="258.15" cy="292.5" r="0.42"/><circle cx="258.62" cy="268.8" r="0.57"/><circle cx="281.17" cy="284.49" r="0.51"/><circle cx="272.59" cy="299.2" r="0.69"/><circle cx="260.21" cy="301.6" r="0.66"/><circle cx="253.47" cy="290.56" r="0.58"/><circle cx="274.12" cy="306.34" r="0.49"/><circle cx="248.9" cy="310.31" r="0.6"/><circle cx="262.87" cy="280.6" r="0.37"/><circle cx="262.71" cy="318.38" r="0.65"/><circle cx="275.95" cy="290.25" r="0.65"/><circle cx="283.77" cy="283.5" r="0.54"/><circle cx="253.83" cy="276.92" r="0.52"/><circle cx="242.36" cy="277.17" r="0.67"/><circle cx="251.8" cy="313.5" r="0.7"/><circle cx="252.69" cy="314.64" r="0.39"/><circle cx="250.68" cy="279.12" r="0.53"/><circle cx="278.7" cy="291.35" r="0.54"/><circle cx="286.43" cy="294.88" r="0.65"/><circle cx="269.2" cy="299.02" r="0.62"/><circle cx="243.85" cy="288.66" r="0.59"/><circle cx="265.89" cy="308.19" r="0.37"/><circle cx="246.8" cy="304.88" r="0.61"/><circle cx="271.16" cy="312.37" r="0.63"/><circle cx="274.76" cy="288.14" r="0.66"/><circle cx="272.34" cy="316.09" r="0.63"/><circle cx="251.5" cy="291.59" r="0.62"/><circle cx="263.46" cy="290.39" r="0.68"/><circle cx="247.53" cy="306.06" r="0.47"/><circle cx="269" cy="309.56" r="0.66"/><circle cx="279.32" cy="294.81" r="0.55"/><circle cx="272.57" cy="309.4" r="0.67"/><circle cx="238.24" cy="283.18" r="0.4"/><circle cx="250.84" cy="273.88" r="0.6"/><circle cx="241.44" cy="292.06" r="0.37"/><circle cx="255.62" cy="280.76" r="0.54"/><circle cx="248.03" cy="278.26" r="0.47"/><circle cx="241.9" cy="308.6" r="0.37"/><circle cx="250.86" cy="310.96" r="0.6"/><circle cx="273.02" cy="294.27" r="0.51"/><circle cx="269.84" cy="287.3" r="0.4"/><circle cx="247.73" cy="312.39" r="0.38"/><circle cx="267.42" cy="310.26" r="0.61"/><circle cx="254.25" cy="305.52" r="0.42"/><circle cx="248.46" cy="302.76" r="0.39"/><circle cx="262.42" cy="305.46" r="0.36"/><circle cx="265.57" cy="297.82" r="0.41"/><circle cx="253.8" cy="276.71" r="0.36"/><circle cx="273.45" cy="271.37" r="0.38"/><circle cx="278.12" cy="313.72" r="0.39"/><circle cx="258.38" cy="274.52" r="0.47"/><circle cx="259.26" cy="282.13" r="0.47"/><circle cx="259.31" cy="307.31" r="0.42"/><circle cx="242.41" cy="292.51" r="0.45"/><circle cx="246.35" cy="274.64" r="0.64"/><circle cx="270.61" cy="291.31" r="0.37"/><circle cx="238.84" cy="295.72" r="0.6"/><circle cx="276.21" cy="306.78" r="0.38"/><circle cx="254.8" cy="272.12" r="0.6"/><circle cx="278.67" cy="279.18" r="0.55"/><circle cx="247.1" cy="287.02" r="0.42"/><circle cx="251.73" cy="274.48" r="0.35"/><circle cx="255.65" cy="313.7" r="0.57"/><circle cx="271.07" cy="292.71" r="0.41"/><circle cx="267.78" cy="275.06" r="0.58"/><circle cx="247.04" cy="275.1" r="0.51"/><circle cx="245.53" cy="311.3" r="0.58"/><circle cx="259.18" cy="296.67" r="0.62"/><circle cx="270.56" cy="290.48" r="0.54"/><circle cx="258.08" cy="302.43" r="0.63"/><circle cx="254.34" cy="294.36" r="0.51"/><circle cx="259.78" cy="304.63" r="0.57"/><circle cx="244.78" cy="294.01" r="0.65"/><circle cx="259.16" cy="292.39" r="0.45"/><circle cx="256.39" cy="288.19" r="0.42"/><circle cx="267.6" cy="269.66" r="0.44"/><circle cx="257.58" cy="287.78" r="0.65"/><circle cx="276.34" cy="280.05" r="0.57"/><circle cx="248.61" cy="286.72" r="0.38"/><circle cx="262.33" cy="302.85" r="0.44"/><circle cx="253.57" cy="280.09" r="0.59"/><circle cx="276.89" cy="312.11" r="0.49"/><circle cx="250.66" cy="317.35" r="0.69"/><circle cx="274.33" cy="280.34" r="0.37"/><circle cx="269.74" cy="270.24" r="0.65"/><circle cx="243.16" cy="281.88" r="0.39"/><circle cx="277.83" cy="276.04" r="0.41"/><circle cx="253.48" cy="272.84" r="0.37"/><circle cx="285.87" cy="289.56" r="0.44"/><circle cx="242.83" cy="308.49" r="0.36"/><circle cx="262.36" cy="291.01" r="0.54"/><circle cx="253.15" cy="318.81" r="0.37"/><circle cx="276.64" cy="274.47" r="0.37"/><circle cx="238.58" cy="281.53" r="0.52"/><circle cx="246.45" cy="275.72" r="0.4"/><circle cx="249.38" cy="309.88" r="0.58"/><circle cx="266.08" cy="279.45" r="0.49"/><circle cx="262.7" cy="269.54" r="0.45"/><circle cx="238.72" cy="307.55" r="0.43"/><circle cx="241.74" cy="282.09" r="0.57"/><circle cx="273.26" cy="287.01" r="0.48"/><circle cx="269.4" cy="297.71" r="0.57"/><circle cx="264.56" cy="313.49" r="0.65"/><circle cx="261.64" cy="315.24" r="0.41"/><circle cx="251.61" cy="287.5" r="0.39"/><circle cx="266.15" cy="307.55" r="0.38"/><circle cx="257.36" cy="279.08" r="0.56"/><circle cx="272.15" cy="290.33" r="0.52"/><circle cx="259.4" cy="317.07" r="0.4"/><circle cx="278.59" cy="314.24" r="0.67"/><circle cx="282.78" cy="304.45" r="0.37"/><circle cx="275.41" cy="294.38" r="0.38"/><circle cx="268.13" cy="291.84" r="0.52"/><circle cx="259.23" cy="298.35" r="0.39"/><circle cx="280.39" cy="288.86" r="0.48"/><circle cx="243.63" cy="276.98" r="0.56"/><circle cx="276.16" cy="315.94" r="0.54"/><circle cx="269.81" cy="310.67" r="0.51"/><circle cx="239.66" cy="290.38" r="0.51"/><circle cx="246.57" cy="277.96" r="0.5"/><circle cx="249.76" cy="289.27" r="0.66"/><circle cx="271.91" cy="316.17" r="0.39"/><circle cx="260.72" cy="278.4" r="0.61"/><circle cx="273.68" cy="303.67" r="0.55"/><circle cx="264.37" cy="276.55" r="0.45"/><circle cx="269.78" cy="299.96" r="0.5"/><circle cx="237.97" cy="293.13" r="0.54"/><circle cx="270.28" cy="301.88" r="0.45"/><circle cx="266.36" cy="304.39" r="0.45"/><circle cx="256.36" cy="271.07" r="0.6"/><circle cx="266.61" cy="307.62" r="0.6"/><circle cx="264.03" cy="318.08" r="0.57"/><circle cx="239.18" cy="280.21" r="0.46"/><circle cx="248.78" cy="298.81" r="0.52"/><circle cx="240.33" cy="282.71" r="0.65"/><circle cx="269.61" cy="311.06" r="0.4"/><circle cx="260.37" cy="284.56" r="0.6"/><circle cx="241.59" cy="306.33" r="0.41"/><circle cx="286.42" cy="302.69" r="0.65"/><circle cx="284.31" cy="304.52" r="0.55"/><circle cx="245.78" cy="310.14" r="0.63"/><circle cx="249.19" cy="300.08" r="0.58"/><circle cx="270.71" cy="281.58" r="0.45"/><circle cx="275.83" cy="290.18" r="0.51"/><circle cx="270.98" cy="314.85" r="0.69"/><circle cx="251.79" cy="292.84" r="0.4"/><circle cx="249.19" cy="300.3" r="0.51"/><circle cx="251.09" cy="303.46" r="0.65"/><circle cx="250.66" cy="289.08" r="0.55"/><circle cx="287.59" cy="301.46" r="0.42"/><circle cx="257.05" cy="280.99" r="0.49"/><circle cx="264.98" cy="289.24" r="0.45"/><circle cx="243.65" cy="278.22" r="0.53"/><circle cx="282.46" cy="298.03" r="0.46"/><circle cx="254.74" cy="273.89" r="0.62"/><circle cx="248.28" cy="295.55" r="0.64"/><circle cx="266.92" cy="287.93" r="0.59"/><circle cx="282.48" cy="295.21" r="0.51"/><circle cx="265.82" cy="274.29" r="0.62"/><circle cx="266.95" cy="274.78" r="0.4"/><circle cx="263.68" cy="297.88" r="0.66"/><circle cx="259.42" cy="294.29" r="0.48"/></g>
<line x1="335.2" y1="202.4" x2="335.2" y2="280" stroke="#444" stroke-width="0.8"/>
<line x1="335.2" y1="280" x2="434.8" y2="280" stroke="#444" stroke-width="0.8"/>
<line x1="332.8" y1="280" x2="335.2" y2="280" stroke="#444" stroke-width="0.7"/>
<text x="332.4" y="282.11" text-anchor="end" fill="#333" font-size="5.9">0</text>
<line x1="332.8" y1="260.6" x2="335.2" y2="260.6" stroke="#444" stroke-width="0.7"/>
<text x="332.4" y="262.71" text-anchor="end" fill="#333" font-size="5.9">200</text>
<line x1="332.8" y1="241.2" x2="335.2" y2="241.2" stroke="#444" stroke-width="0.7"/>
<text x="332.4" y="243.31" text-anchor="end" fill="#333" font-size="5.9">400</text>
<line x1="332.8" y1="221.8" x2="335.2" y2="221.8" stroke="#444" stroke-width="0.7"/>
<text x="332.4" y="223.91" text-anchor="end" fill="#333" font-size="5.9">600</text>
<line x1="332.8" y1="202.4" x2="335.2" y2="202.4" stroke="#444" stroke-width="0.7"/>
<text x="332.4" y="204.51" text-anchor="end" fill="#333" font-size="5.9">800</text>
<text x="319.28" y="244.5" text-anchor="middle" font-size="8.6" transform="rotate(-90 319.28 244.5)" textLength="71" lengthAdjust="spacingAndGlyphs">Colonies Numbers</text>
<line x1="348.85" y1="241.69" x2="348.85" y2="237.32" stroke="#444" stroke-width="0.8"/>
<line x1="345.65" y1="237.32" x2="352.05" y2="237.32" stroke="#444" stroke-width="0.8"/>
<rect x="342.2" y="241.69" width="13.3" height="38.31" fill="#4a8cc6" stroke="#333" stroke-width="0.8"/>
<line x1="348.85" y1="280" x2="348.85" y2="282.4" stroke="#444" stroke-width="0.7"/>
<line x1="369" y1="226.65" x2="369" y2="220.83" stroke="#444" stroke-width="0.8"/>
<line x1="365.8" y1="220.83" x2="372.2" y2="220.83" stroke="#444" stroke-width="0.8"/>
<rect x="362.4" y="226.65" width="13.2" height="53.35" fill="#58b2d1" stroke="#333" stroke-width="0.8"/>
<line x1="369" y1="280" x2="369" y2="282.4" stroke="#444" stroke-width="0.7"/>
<line x1="389.15" y1="254.3" x2="389.15" y2="253.32" stroke="#444" stroke-width="0.8"/>
<line x1="385.95" y1="253.32" x2="392.35" y2="253.32" stroke="#444" stroke-width="0.8"/>
<rect x="382.6" y="254.3" width="13.1" height="25.7" fill="#e5c53c" stroke="#333" stroke-width="0.8"/>
<line x1="389.15" y1="280" x2="389.15" y2="282.4" stroke="#444" stroke-width="0.7"/>
<line x1="409.55" y1="242.17" x2="409.55" y2="240.13" stroke="#444" stroke-width="0.8"/>
<line x1="406.35" y1="240.13" x2="412.75" y2="240.13" stroke="#444" stroke-width="0.8"/>
<rect x="402.9" y="242.17" width="13.3" height="37.83" fill="#e2894a" stroke="#333" stroke-width="0.8"/>
<line x1="409.55" y1="280" x2="409.55" y2="282.4" stroke="#444" stroke-width="0.7"/>
<text x="357.85" y="286.2" text-anchor="end" fill="#333" font-size="6.3" transform="rotate(-45 357.85 286.2)">sh-Ctrl</text>
<text x="379" y="286.2" text-anchor="end" fill="#333" font-size="6.3" transform="rotate(-45 379 286.2)">sh-Ctrl+LAM332</text>
<text x="399.45" y="286.2" text-anchor="end" fill="#333" font-size="6.3" transform="rotate(-45 399.45 286.2)">sh-ITGA3</text>
<text x="421.05" y="286.2" text-anchor="end" fill="#333" font-size="6.3" transform="rotate(-45 421.05 286.2)">sh-ITGA3+LAM332</text>
<path d="M348 195.6V193.5H411.1V195.6" stroke="#555" stroke-width="0.8" fill="none"/>
<text x="378.8" y="191.2" text-anchor="middle" fill="#444" style="font-family:Liberation Serif">n.s.</text>
<path d="M370.2 202.6V200.5H411.1V202.6" stroke="#555" stroke-width="0.8" fill="none"/>
<text x="389.2" y="202.4" text-anchor="middle" fill="#555" font-size="10">**</text>
<path d="M388.5 208.1V206H411.1V208.1" stroke="#555" stroke-width="0.8" fill="none"/>
<text x="397.6" y="208" text-anchor="middle" fill="#555" font-size="10">*</text>
<path d="M348 212.3V210.2H389V212.3" stroke="#555" stroke-width="0.8" fill="none"/>
<text x="367.8" y="213" text-anchor="middle" fill="#555" font-size="10">*</text>
<path d="M348 219.5V217.4H368.6V219.5" stroke="#555" stroke-width="0.8" fill="none"/>
<text x="356.6" y="219.7" text-anchor="middle" fill="#555" font-size="10">**</text>
<text x="426.4" y="192.5" font-weight="bold" fill="#000" font-size="15.5">F</text>
<text x="482" y="203.92" text-anchor="middle" font-size="7.6" textLength="22.5" lengthAdjust="spacingAndGlyphs">sh-Ctrl</text>
<text x="541.3" y="203.82" text-anchor="middle" font-size="7.6" textLength="54.7" lengthAdjust="spacingAndGlyphs">sh-Ctrl+LAM332</text>
<text x="480.3" y="304.82" text-anchor="middle" font-size="7.6" textLength="32.6" lengthAdjust="spacingAndGlyphs">sh-ITGA3</text>
<text x="543.5" y="305.02" text-anchor="middle" font-size="7.6" textLength="65" lengthAdjust="spacingAndGlyphs">sh-ITGA3+LAM332</text>
<defs>
<filter id="fF1" x="0" y="0" width="1" height="1" color-interpolation-filters="sRGB"><feTurbulence type="fractalNoise" baseFrequency="0.6" numOctaves="2" seed="10" result="n0"/><feColorMatrix in="n0" type="matrix" values="0 0 0 0 0.16 0 0 0 0 0.2 0 0 0 0 0.66 3 0 0 0 -1.38" result="m0"/><feComponentTransfer in="m0" result="m0"><feFuncA type="linear" slope="0.85"/></feComponentTransfer><feTurbulence type="fractalNoise" baseFrequency="0.55" numOctaves="1" seed="20" result="n1"/><feColorMatrix in="n1" type="matrix" values="0 0 0 0 0.3 0 0 0 0 0.8 0 0 0 0 0.42 6 0 0 0 -3.78" result="m1"/><feComponentTransfer in="m1" result="m1"><feFuncA type="linear" slope="1"/></feComponentTransfer><feTurbulence type="fractalNoise" baseFrequency="0.07" numOctaves="2" seed="40" result="n2"/><feColorMatrix in="n2" type="matrix" values="0 0 0 0 0.03 0 0 0 0 0.03 0 0 0 0 0.07 5 0 0 0 -2.9" result="m2"/><feComponentTransfer in="m2" result="m2"><feFuncA type="linear" slope="0.9"/></feComponentTransfer><feMerge><feMergeNode in="SourceGraphic"/><feMergeNode in="m0"/><feMergeNode in="m1"/><feMergeNode in="m2"/></feMerge></filter>
<filter id="fF2" x="0" y="0" width="1" height="1" color-interpolation-filters="sRGB"><feTurbulence type="fractalNoise" baseFrequency="0.6" numOctaves="2" seed="11" result="n0"/><feColorMatrix in="n0" type="matrix" values="0 0 0 0 0.16 0 0 0 0 0.2 0 0 0 0 0.66 3 0 0 0 -1.38" result="m0"/><feComponentTransfer in="m0" result="m0"><feFuncA type="linear" slope="0.85"/></feComponentTransfer><feTurbulence type="fractalNoise" baseFrequency="0.55" numOctaves="1" seed="21" result="n1"/><feColorMatrix in="n1" type="matrix" values="0 0 0 0 0.3 0 0 0 0 0.8 0 0 0 0 0.42 6 0 0 0 -3.51" result="m1"/><feComponentTransfer in="m1" result="m1"><feFuncA type="linear" slope="1"/></feComponentTransfer><feTurbulence type="fractalNoise" baseFrequency="0.07" numOctaves="2" seed="41" result="n2"/><feColorMatrix in="n2" type="matrix" values="0 0 0 0 0.03 0 0 0 0 0.03 0 0 0 0 0.07 5 0 0 0 -2.9" result="m2"/><feComponentTransfer in="m2" result="m2"><feFuncA type="linear" slope="0.9"/></feComponentTransfer><feMerge><feMergeNode in="SourceGraphic"/><feMergeNode in="m0"/><feMergeNode in="m1"/><feMergeNode in="m2"/></feMerge></filter>
<filter id="fF3" x="0" y="0" width="1" height="1" color-interpolation-filters="sRGB"><feTurbulence type="fractalNoise" baseFrequency="0.6" numOctaves="2" seed="12" result="n0"/><feColorMatrix in="n0" type="matrix" values="0 0 0 0 0.16 0 0 0 0 0.2 0 0 0 0 0.66 3 0 0 0 -1.29" result="m0"/><feComponentTransfer in="m0" result="m0"><feFuncA type="linear" slope="0.85"/></feComponentTransfer><feTurbulence type="fractalNoise" baseFrequency="0.55" numOctaves="1" seed="22" result="n1"/><feColorMatrix in="n1" type="matrix" values="0 0 0 0 0.3 0 0 0 0 0.8 0 0 0 0 0.42 6 0 0 0 -4.02" result="m1"/><feComponentTransfer in="m1" result="m1"><feFuncA type="linear" slope="1"/></feComponentTransfer><feTurbulence type="fractalNoise" baseFrequency="0.07" numOctaves="2" seed="42" result="n2"/><feColorMatrix in="n2" type="matrix" values="0 0 0 0 0.03 0 0 0 0 0.03 0 0 0 0 0.07 5 0 0 0 -2.9" result="m2"/><feComponentTransfer in="m2" result="m2"><feFuncA type="linear" slope="0.9"/></feComponentTransfer><feMerge><feMergeNode in="SourceGraphic"/><feMergeNode in="m0"/><feMergeNode in="m1"/><feMergeNode in="m2"/></feMerge></filter>
<filter id="fF4" x="0" y="0" width="1" height="1" color-interpolation-filters="sRGB"><feTurbulence type="fractalNoise" baseFrequency="0.6" numOctaves="2" seed="13" result="n0"/><feColorMatrix in="n0" type="matrix" values="0 0 0 0 0.16 0 0 0 0 0.2 0 0 0 0 0.66 3 0 0 0 -1.38" result="m0"/><feComponentTransfer in="m0" result="m0"><feFuncA type="linear" slope="0.85"/></feComponentTransfer><feTurbulence type="fractalNoise" baseFrequency="0.55" numOctaves="1" seed="23" result="n1"/><feColorMatrix in="n1" type="matrix" values="0 0 0 0 0.3 0 0 0 0 0.8 0 0 0 0 0.42 6 0 0 0 -3.72" result="m1"/><feComponentTransfer in="m1" result="m1"><feFuncA type="linear" slope="1"/></feComponentTransfer><feTurbulence type="fractalNoise" baseFrequency="0.07" numOctaves="2" seed="43" result="n2"/><feColorMatrix in="n2" type="matrix" values="0 0 0 0 0.03 0 0 0 0 0.03 0 0 0 0 0.07 5 0 0 0 -2.9" result="m2"/><feComponentTransfer in="m2" result="m2"><feFuncA type="linear" slope="0.9"/></feComponentTransfer><feMerge><feMergeNode in="SourceGraphic"/><feMergeNode in="m0"/><feMergeNode in="m1"/><feMergeNode in="m2"/></feMerge></filter>
</defs>
<rect x="452" y="207.1" width="59.4" height="43.5" fill="#0b0c2a" filter="url(#fF1)"/>
<rect x="512.7" y="207.1" width="59.4" height="43.5" fill="#0b0c2a" filter="url(#fF2)"/>
<rect x="452" y="251.8" width="59.4" height="43.5" fill="#0b0c2a" filter="url(#fF3)"/>
<rect x="512.7" y="251.8" width="59.4" height="43.5" fill="#0b0c2a" filter="url(#fF4)"/>
<line x1="512" y1="207.1" x2="512" y2="295" stroke="#c0c0c0" stroke-width="1"/>
<line x1="452" y1="251.2" x2="571.5" y2="251.2" stroke="#c0c0c0" stroke-width="1"/>
<line x1="441" y1="212.8" x2="441" y2="293.5" stroke="#9a9a9a" stroke-width="0.8"/>
<text x="436.75" y="252.5" text-anchor="middle" font-size="8.8" transform="rotate(-90 436.75 252.5)" textLength="37" lengthAdjust="spacingAndGlyphs">CFPAC-1</text>
<text x="450.26" y="231.8" text-anchor="middle" fill="#3cb44b" transform="rotate(-90 450.26 231.8)" textLength="13.4" lengthAdjust="spacingAndGlyphs">Edu</text>
<text x="450.4" y="280" font-size="8" fill="#3a3aaa" transform="rotate(-90 450.4 280)">DAPI<tspan fill="#888"> /</tspan></text>
<line x1="599.6" y1="212" x2="599.6" y2="282.3" stroke="#444" stroke-width="0.8"/>
<line x1="599.6" y1="282.3" x2="680" y2="282.3" stroke="#444" stroke-width="0.8"/>
<line x1="597.2" y1="282.3" x2="599.6" y2="282.3" stroke="#444" stroke-width="0.7"/>
<text x="595.6" y="284.81" text-anchor="end" fill="#333" font-size="7">0</text>
<line x1="597.2" y1="268.28" x2="599.6" y2="268.28" stroke="#444" stroke-width="0.7"/>
<text x="595.6" y="270.79" text-anchor="end" fill="#333" font-size="7">10</text>
<line x1="597.2" y1="254.26" x2="599.6" y2="254.26" stroke="#444" stroke-width="0.7"/>
<text x="595.6" y="256.77" text-anchor="end" fill="#333" font-size="7">20</text>
<line x1="597.2" y1="240.24" x2="599.6" y2="240.24" stroke="#444" stroke-width="0.7"/>
<text x="595.6" y="242.75" text-anchor="end" fill="#333" font-size="7">30</text>
<line x1="597.2" y1="226.22" x2="599.6" y2="226.22" stroke="#444" stroke-width="0.7"/>
<text x="595.6" y="228.73" text-anchor="end" fill="#333" font-size="7">40</text>
<line x1="597.2" y1="212.2" x2="599.6" y2="212.2" stroke="#444" stroke-width="0.7"/>
<text x="595.6" y="214.71" text-anchor="end" fill="#333" font-size="7">50</text>
<text x="586.32" y="250" text-anchor="middle" font-size="7.6" transform="rotate(-90 586.32 250)" textLength="101.4" lengthAdjust="spacingAndGlyphs">Rate of EDU positive cells (%)</text>
<line x1="611.4" y1="236.03" x2="611.4" y2="231.83" stroke="#444" stroke-width="0.8"/>
<line x1="608.8" y1="231.83" x2="614" y2="231.83" stroke="#444" stroke-width="0.8"/>
<rect x="605.4" y="236.03" width="12" height="46.27" fill="#4a8cc6" stroke="#333" stroke-width="0.8"/>
<line x1="611.4" y1="282.3" x2="611.4" y2="284.5" stroke="#444" stroke-width="0.7"/>
<text x="618.4" y="288" text-anchor="end" fill="#333" font-size="6" transform="rotate(-45 618.4 288)">sh-Ctrl</text>
<line x1="630.1" y1="222.01" x2="630.1" y2="218.93" stroke="#444" stroke-width="0.8"/>
<line x1="627.5" y1="218.93" x2="632.7" y2="218.93" stroke="#444" stroke-width="0.8"/>
<rect x="624.1" y="222.01" width="12" height="60.29" fill="#58b2d1" stroke="#333" stroke-width="0.8"/>
<line x1="630.1" y1="282.3" x2="630.1" y2="284.5" stroke="#444" stroke-width="0.7"/>
<text x="637.1" y="288" text-anchor="end" fill="#333" font-size="6" transform="rotate(-45 637.1 288)">sh-Ctrl+LAM332</text>
<line x1="648.45" y1="250.05" x2="648.45" y2="247.25" stroke="#444" stroke-width="0.8"/>
<line x1="645.85" y1="247.25" x2="651.05" y2="247.25" stroke="#444" stroke-width="0.8"/>
<rect x="642.4" y="250.05" width="12.1" height="32.25" fill="#e5c53c" stroke="#333" stroke-width="0.8"/>
<line x1="648.45" y1="282.3" x2="648.45" y2="284.5" stroke="#444" stroke-width="0.7"/>
<text x="655.45" y="288" text-anchor="end" fill="#333" font-size="6" transform="rotate(-45 655.45 288)">sh-ITGA3</text>
<line x1="666.9" y1="234.63" x2="666.9" y2="226.22" stroke="#444" stroke-width="0.8"/>
<line x1="664.3" y1="226.22" x2="669.5" y2="226.22" stroke="#444" stroke-width="0.8"/>
<rect x="660.9" y="234.63" width="12" height="47.67" fill="#e2894a" stroke="#333" stroke-width="0.8"/>
<line x1="666.9" y1="282.3" x2="666.9" y2="284.5" stroke="#444" stroke-width="0.7"/>
<text x="673.9" y="288" text-anchor="end" fill="#333" font-size="6" transform="rotate(-45 673.9 288)">sh-ITGA3+LAM332</text>
<path d="M611.4 216.4V214H630.1V216.4" stroke="#555" stroke-width="0.8" fill="none"/>
<text x="620.7" y="215.74" text-anchor="middle" fill="#555" font-size="9.5">*</text>
<path d="M648.5 223.7V221.3H666.9V223.7" stroke="#555" stroke-width="0.8" fill="none"/>
<text x="657.7" y="222.94" text-anchor="middle" fill="#555" font-size="9.5">*</text>
<text x="4.2" y="344" font-weight="bold" fill="#000" font-size="15.5">G</text>
<text x="33.2" y="362.16" text-anchor="middle" textLength="34.4" lengthAdjust="spacingAndGlyphs">sh-ITGA3</text>
<text x="35.2" y="371.86" text-anchor="middle" textLength="29.6" lengthAdjust="spacingAndGlyphs">LAM332</text>
<text x="72.3" y="362.16" text-anchor="middle">Ctrl</text>
<text x="72.3" y="371.86" text-anchor="middle">-</text>
<text x="138.5" y="362.16" text-anchor="middle">Ctrl</text>
<text x="138.5" y="371.86" text-anchor="middle">+</text>
<text x="209.6" y="362.16" text-anchor="middle">+</text>
<text x="209.6" y="371.86" text-anchor="middle">-</text>
<text x="277.9" y="362.16" text-anchor="middle">+</text>
<text x="277.9" y="371.86" text-anchor="middle">+</text>
<text x="26.44" y="403.7" text-anchor="middle" font-size="8.2" transform="rotate(-90 26.44 403.7)" textLength="33.4" lengthAdjust="spacingAndGlyphs">Migration</text>
<text x="26.44" y="463" text-anchor="middle" font-size="8.2" transform="rotate(-90 26.44 463)" textLength="30.3" lengthAdjust="spacingAndGlyphs">Invasion</text>
<text x="7.49" y="437.6" text-anchor="middle" font-size="8.9" transform="rotate(-90 7.49 437.6)" textLength="37.5" lengthAdjust="spacingAndGlyphs">CFPAC-1</text>
<line x1="12.3" y1="383.3" x2="12.3" y2="481.9" stroke="#333" stroke-width="0.8"/>
<defs>
<filter id="fG00" x="0" y="0" width="1" height="1" color-interpolation-filters="sRGB"><feTurbulence type="fractalNoise" baseFrequency="0.2" numOctaves="4" seed="60" result="n0"/><feColorMatrix in="n0" type="matrix" values="0 0 0 0 0.31 0 0 0 0 0.39 0 0 0 0 0.78 5 0 0 0 -2.25" result="m0"/><feTurbulence type="fractalNoise" baseFrequency="0.6" numOctaves="1" seed="80" result="n1"/><feColorMatrix in="n1" type="matrix" values="0 0 0 0 0.33 0 0 0 0 0.4 0 0 0 0 0.78 6 0 0 0 -3.72" result="m1"/><feComponentTransfer in="m1" result="m1"><feFuncA type="linear" slope="0.4"/></feComponentTransfer><feMerge><feMergeNode in="SourceGraphic"/><feMergeNode in="m0"/><feMergeNode in="m1"/></feMerge></filter>
<filter id="fG01" x="0" y="0" width="1" height="1" color-interpolation-filters="sRGB"><feTurbulence type="fractalNoise" baseFrequency="0.2" numOctaves="4" seed="61" result="n0"/><feColorMatrix in="n0" type="matrix" values="0 0 0 0 0.31 0 0 0 0 0.39 0 0 0 0 0.78 5 0 0 0 -2.05" result="m0"/><feTurbulence type="fractalNoise" baseFrequency="0.6" numOctaves="1" seed="81" result="n1"/><feColorMatrix in="n1" type="matrix" values="0 0 0 0 0.33 0 0 0 0 0.4 0 0 0 0 0.78 6 0 0 0 -3.72" result="m1"/><feComponentTransfer in="m1" result="m1"><feFuncA type="linear" slope="0.4"/></feComponentTransfer><feMerge><feMergeNode in="SourceGraphic"/><feMergeNode in="m0"/><feMergeNode in="m1"/></feMerge></filter>
<filter id="fG02" x="0" y="0" width="1" height="1" color-interpolation-filters="sRGB"><feTurbulence type="fractalNoise" baseFrequency="0.2" numOctaves="4" seed="62" result="n0"/><feColorMatrix in="n0" type="matrix" values="0 0 0 0 0.31 0 0 0 0 0.39 0 0 0 0 0.78 5 0 0 0 -2.75" result="m0"/><feTurbulence type="fractalNoise" baseFrequency="0.6" numOctaves="1" seed="82" result="n1"/><feColorMatrix in="n1" type="matrix" values="0 0 0 0 0.33 0 0 0 0 0.4 0 0 0 0 0.78 6 0 0 0 -3.72" result="m1"/><feComponentTransfer in="m1" result="m1"><feFuncA type="linear" slope="0.4"/></feComponentTransfer><feMerge><feMergeNode in="SourceGraphic"/><feMergeNode in="m0"/><feMergeNode in="m1"/></feMerge></filter>
<filter id="fG03" x="0" y="0" width="1" height="1" color-interpolation-filters="sRGB"><feTurbulence type="fractalNoise" baseFrequency="0.2" numOctaves="4" seed="63" result="n0"/><feColorMatrix in="n0" type="matrix" values="0 0 0 0 0.31 0 0 0 0 0.39 0 0 0 0 0.78 5 0 0 0 -2.45" result="m0"/><feTurbulence type="fractalNoise" baseFrequency="0.6" numOctaves="1" seed="83" result="n1"/><feColorMatrix in="n1" type="matrix" values="0 0 0 0 0.33 0 0 0 0 0.4 0 0 0 0 0.78 6 0 0 0 -3.72" result="m1"/><feComponentTransfer in="m1" result="m1"><feFuncA type="linear" slope="0.4"/></feComponentTransfer><feMerge><feMergeNode in="SourceGraphic"/><feMergeNode in="m0"/><feMergeNode in="m1"/></feMerge></filter>
<filter id="fG10" x="0" y="0" width="1" height="1" color-interpolation-filters="sRGB"><feTurbulence type="fractalNoise" baseFrequency="0.2" numOctaves="4" seed="64" result="n0"/><feColorMatrix in="n0" type="matrix" values="0 0 0 0 0.31 0 0 0 0 0.39 0 0 0 0 0.78 5 0 0 0 -2.55" result="m0"/><feTurbulence type="fractalNoise" baseFrequency="0.6" numOctaves="1" seed="84" result="n1"/><feColorMatrix in="n1" type="matrix" values="0 0 0 0 0.33 0 0 0 0 0.4 0 0 0 0 0.78 6 0 0 0 -3.72" result="m1"/><feComponentTransfer in="m1" result="m1"><feFuncA type="linear" slope="0.4"/></feComponentTransfer><feMerge><feMergeNode in="SourceGraphic"/><feMergeNode in="m0"/><feMergeNode in="m1"/></feMerge></filter>
<filter id="fG11" x="0" y="0" width="1" height="1" color-interpolation-filters="sRGB"><feTurbulence type="fractalNoise" baseFrequency="0.2" numOctaves="4" seed="65" result="n0"/><feColorMatrix in="n0" type="matrix" values="0 0 0 0 0.31 0 0 0 0 0.39 0 0 0 0 0.78 5 0 0 0 -2.2" result="m0"/><feTurbulence type="fractalNoise" baseFrequency="0.6" numOctaves="1" seed="85" result="n1"/><feColorMatrix in="n1" type="matrix" values="0 0 0 0 0.33 0 0 0 0 0.4 0 0 0 0 0.78 6 0 0 0 -3.72" result="m1"/><feComponentTransfer in="m1" result="m1"><feFuncA type="linear" slope="0.4"/></feComponentTransfer><feMerge><feMergeNode in="SourceGraphic"/><feMergeNode in="m0"/><feMergeNode in="m1"/></feMerge></filter>
<filter id="fG12" x="0" y="0" width="1" height="1" color-interpolation-filters="sRGB"><feTurbulence type="fractalNoise" baseFrequency="0.2" numOctaves="4" seed="66" result="n0"/><feColorMatrix in="n0" type="matrix" values="0 0 0 0 0.31 0 0 0 0 0.39 0 0 0 0 0.78 5 0 0 0 -2.8" result="m0"/><feTurbulence type="fractalNoise" baseFrequency="0.6" numOctaves="1" seed="86" result="n1"/><feColorMatrix in="n1" type="matrix" values="0 0 0 0 0.33 0 0 0 0 0.4 0 0 0 0 0.78 6 0 0 0 -3.72" result="m1"/><feComponentTransfer in="m1" result="m1"><feFuncA type="linear" slope="0.4"/></feComponentTransfer><feMerge><feMergeNode in="SourceGraphic"/><feMergeNode in="m0"/><feMergeNode in="m1"/></feMerge></filter>
<filter id="fG13" x="0" y="0" width="1" height="1" color-interpolation-filters="sRGB"><feTurbulence type="fractalNoise" baseFrequency="0.2" numOctaves="4" seed="67" result="n0"/><feColorMatrix in="n0" type="matrix" values="0 0 0 0 0.31 0 0 0 0 0.39 0 0 0 0 0.78 5 0 0 0 -2.35" result="m0"/><feTurbulence type="fractalNoise" baseFrequency="0.6" numOctaves="1" seed="87" result="n1"/><feColorMatrix in="n1" type="matrix" values="0 0 0 0 0.33 0 0 0 0 0.4 0 0 0 0 0.78 6 0 0 0 -3.72" result="m1"/><feComponentTransfer in="m1" result="m1"><feFuncA type="linear" slope="0.4"/></feComponentTransfer><feMerge><feMergeNode in="SourceGraphic"/><feMergeNode in="m0"/><feMergeNode in="m1"/></feMerge></filter>
</defs>
<rect x="36.8" y="376.6" width="68.8" height="54" fill="#dfe6e3" filter="url(#fG00)"/>
<rect x="37.2" y="377" width="68" height="53.2" fill="none" stroke="#6d6d6d" stroke-width="0.9"/>
<rect x="106.4" y="376.6" width="69.1" height="54" fill="#d9dfe2" filter="url(#fG01)"/>
<rect x="106.8" y="377" width="68.3" height="53.2" fill="none" stroke="#6d6d6d" stroke-width="0.9"/>
<rect x="176.1" y="376.6" width="69" height="54" fill="#d7d9e6" filter="url(#fG02)"/>
<rect x="176.5" y="377" width="68.2" height="53.2" fill="none" stroke="#6d6d6d" stroke-width="0.9"/>
<rect x="246.4" y="376.6" width="68.7" height="54" fill="#e2e7dc" filter="url(#fG03)"/>
<rect x="246.8" y="377" width="67.9" height="53.2" fill="none" stroke="#6d6d6d" stroke-width="0.9"/>
<rect x="36.8" y="431.9" width="68.8" height="53.7" fill="#dfe6e3" filter="url(#fG10)"/>
<rect x="37.2" y="432.3" width="68" height="52.9" fill="none" stroke="#6d6d6d" stroke-width="0.9"/>
<rect x="106.4" y="431.9" width="69.1" height="53.7" fill="#dbe0e2" filter="url(#fG11)"/>
<rect x="106.8" y="432.3" width="68.3" height="52.9" fill="none" stroke="#6d6d6d" stroke-width="0.9"/>
<rect x="176.1" y="431.9" width="69" height="53.7" fill="#dbe1e0" filter="url(#fG12)"/>
<rect x="176.5" y="432.3" width="68.2" height="52.9" fill="none" stroke="#6d6d6d" stroke-width="0.9"/>
<rect x="246.4" y="431.9" width="68.7" height="53.7" fill="#e0e6e2" filter="url(#fG13)"/>
<rect x="246.8" y="432.3" width="67.9" height="52.9" fill="none" stroke="#6d6d6d" stroke-width="0.9"/>
<rect x="351.1" y="382.5" width="7.6" height="3.4" fill="#4a8cc6" stroke="#444" stroke-width="0.5"/>
<text x="362.8" y="386.42" fill="#222" font-size="6.2" textLength="17.6" lengthAdjust="spacingAndGlyphs">sh-Ctrl</text>
<rect x="384" y="382.5" width="7.6" height="3.4" fill="#e2894a" stroke="#444" stroke-width="0.5"/>
<text x="395.7" y="386.42" fill="#222" font-size="6.2" textLength="53" lengthAdjust="spacingAndGlyphs">sh-ITGA3+LAM332</text>
<rect x="351.1" y="391.9" width="7.6" height="3.4" fill="#58b2d1" stroke="#444" stroke-width="0.5"/>
<text x="362.8" y="395.82" fill="#222" font-size="6.2" textLength="45.3" lengthAdjust="spacingAndGlyphs">sh-Ctrl+LAM332</text>
<rect x="411.2" y="391.9" width="7.6" height="3.4" fill="#e5c53c" stroke="#444" stroke-width="0.5"/>
<text x="422.9" y="395.82" fill="#222" font-size="6.2" textLength="26.5" lengthAdjust="spacingAndGlyphs">sh-ITGA3</text>
<line x1="343.8" y1="411.1" x2="343.8" y2="480.2" stroke="#555" stroke-width="0.8"/>
<line x1="343.8" y1="480.2" x2="392" y2="480.2" stroke="#555" stroke-width="0.8"/>
<line x1="341.8" y1="480.2" x2="343.8" y2="480.2" stroke="#555" stroke-width="0.6"/>
<text x="340.8" y="482.06" text-anchor="end" fill="#444" font-size="5.2">0</text>
<line x1="341.8" y1="466.38" x2="343.8" y2="466.38" stroke="#555" stroke-width="0.6"/>
<text x="340.8" y="468.24" text-anchor="end" fill="#444" font-size="5.2">100</text>
<line x1="341.8" y1="452.56" x2="343.8" y2="452.56" stroke="#555" stroke-width="0.6"/>
<text x="340.8" y="454.42" text-anchor="end" fill="#444" font-size="5.2">200</text>
<line x1="341.8" y1="438.74" x2="343.8" y2="438.74" stroke="#555" stroke-width="0.6"/>
<text x="340.8" y="440.6" text-anchor="end" fill="#444" font-size="5.2">300</text>
<line x1="341.8" y1="424.92" x2="343.8" y2="424.92" stroke="#555" stroke-width="0.6"/>
<text x="340.8" y="426.78" text-anchor="end" fill="#444" font-size="5.2">400</text>
<line x1="341.8" y1="411.1" x2="343.8" y2="411.1" stroke="#555" stroke-width="0.6"/>
<text x="340.8" y="412.96" text-anchor="end" fill="#444" font-size="5.2">500</text>
<text x="329.33" y="443.2" text-anchor="middle" fill="#333" font-size="6.5" transform="rotate(-90 329.33 443.2)" textLength="74" lengthAdjust="spacingAndGlyphs">Number of Migration cells</text>
<line x1="352.05" y1="435.01" x2="352.05" y2="431.83" stroke="#444" stroke-width="0.7"/>
<line x1="350.05" y1="431.83" x2="354.05" y2="431.83" stroke="#444" stroke-width="0.7"/>
<rect x="348.4" y="435.01" width="7.3" height="45.19" fill="#4a8cc6" stroke="#333" stroke-width="0.7"/>
<line x1="363.85" y1="424.23" x2="363.85" y2="422.57" stroke="#444" stroke-width="0.7"/>
<line x1="361.85" y1="422.57" x2="365.85" y2="422.57" stroke="#444" stroke-width="0.7"/>
<rect x="360.2" y="424.23" width="7.3" height="55.97" fill="#58b2d1" stroke="#333" stroke-width="0.7"/>
<line x1="375.15" y1="459.19" x2="375.15" y2="456.57" stroke="#444" stroke-width="0.7"/>
<line x1="373.15" y1="456.57" x2="377.15" y2="456.57" stroke="#444" stroke-width="0.7"/>
<rect x="371.5" y="459.19" width="7.3" height="21.01" fill="#e5c53c" stroke="#333" stroke-width="0.7"/>
<line x1="386.95" y1="437.36" x2="386.95" y2="433.76" stroke="#444" stroke-width="0.7"/>
<line x1="384.95" y1="433.76" x2="388.95" y2="433.76" stroke="#444" stroke-width="0.7"/>
<rect x="383.3" y="437.36" width="7.3" height="42.84" fill="#e2894a" stroke="#333" stroke-width="0.7"/>
<path d="M350.2 419V416.6H364V419" stroke="#444" stroke-width="0.7" fill="none"/>
<text x="357.1" y="418.58" text-anchor="middle" fill="#555" font-size="9.2">**</text>
<path d="M373.6 431.5V429.1H386.7V431.5" stroke="#444" stroke-width="0.7" fill="none"/>
<text x="380.15" y="431.08" text-anchor="middle" fill="#555" font-size="9.2">***</text>
<line x1="425.1" y1="410.3" x2="425.1" y2="479.4" stroke="#555" stroke-width="0.8"/>
<line x1="425.1" y1="479.4" x2="472.8" y2="479.4" stroke="#555" stroke-width="0.8"/>
<line x1="423.1" y1="479.4" x2="425.1" y2="479.4" stroke="#555" stroke-width="0.6"/>
<text x="422.1" y="481.26" text-anchor="end" fill="#444" font-size="5.2">0</text>
<line x1="423.1" y1="456.37" x2="425.1" y2="456.37" stroke="#555" stroke-width="0.6"/>
<text x="422.1" y="458.23" text-anchor="end" fill="#444" font-size="5.2">200</text>
<line x1="423.1" y1="433.33" x2="425.1" y2="433.33" stroke="#555" stroke-width="0.6"/>
<text x="422.1" y="435.19" text-anchor="end" fill="#444" font-size="5.2">400</text>
<line x1="423.1" y1="410.3" x2="425.1" y2="410.3" stroke="#555" stroke-width="0.6"/>
<text x="422.1" y="412.16" text-anchor="end" fill="#444" font-size="5.2">600</text>
<text x="410.63" y="442.4" text-anchor="middle" fill="#333" font-size="6.5" transform="rotate(-90 410.63 442.4)" textLength="72" lengthAdjust="spacingAndGlyphs">Number of Invasion cells</text>
<line x1="433" y1="452.34" x2="433" y2="447.61" stroke="#444" stroke-width="0.7"/>
<line x1="431" y1="447.61" x2="435" y2="447.61" stroke="#444" stroke-width="0.7"/>
<rect x="429.2" y="452.34" width="7.6" height="27.06" fill="#4a8cc6" stroke="#333" stroke-width="0.7"/>
<line x1="444.55" y1="427.81" x2="444.55" y2="421.36" stroke="#444" stroke-width="0.7"/>
<line x1="442.55" y1="421.36" x2="446.55" y2="421.36" stroke="#444" stroke-width="0.7"/>
<rect x="440.9" y="427.81" width="7.3" height="51.59" fill="#58b2d1" stroke="#333" stroke-width="0.7"/>
<line x1="456.2" y1="463.39" x2="456.2" y2="459.36" stroke="#444" stroke-width="0.7"/>
<line x1="454.2" y1="459.36" x2="458.2" y2="459.36" stroke="#444" stroke-width="0.7"/>
<rect x="452.6" y="463.39" width="7.2" height="16.01" fill="#e5c53c" stroke="#333" stroke-width="0.7"/>
<line x1="467.75" y1="448.07" x2="467.75" y2="446.81" stroke="#444" stroke-width="0.7"/>
<line x1="465.75" y1="446.81" x2="469.75" y2="446.81" stroke="#444" stroke-width="0.7"/>
<rect x="464" y="448.07" width="7.5" height="31.33" fill="#e2894a" stroke="#333" stroke-width="0.7"/>
<path d="M433.3 417.4V415H445.5V417.4" stroke="#444" stroke-width="0.7" fill="none"/>
<text x="439.4" y="416.98" text-anchor="middle" fill="#555" font-size="9.2">***</text>
<path d="M456.3 443.5V441.1H468.7V443.5" stroke="#444" stroke-width="0.7" fill="none"/>
<text x="462.5" y="443.08" text-anchor="middle" fill="#555" font-size="9.2">**</text>
<text x="426.4" y="343.4" font-weight="bold" fill="#000" font-size="16">H</text>
<text x="548.6" y="346.15" text-anchor="middle" font-size="8.8" textLength="36.8" lengthAdjust="spacingAndGlyphs">CFPAC-1</text>
<text x="624.9" y="346.08" text-anchor="middle" font-size="8.6" textLength="31" lengthAdjust="spacingAndGlyphs">BXPC-3</text>
<line x1="506" y1="350.3" x2="578.9" y2="350.3" stroke="#333" stroke-width="0.8"/>
<line x1="582.4" y1="350.3" x2="656.1" y2="350.3" stroke="#333" stroke-width="0.8"/>
<text x="502.5" y="362.41" text-anchor="end" font-size="8.7" textLength="37" lengthAdjust="spacingAndGlyphs">sh-ITGA3</text>
<text x="503.9" y="372.61" text-anchor="end" font-size="8.7" textLength="32.1" lengthAdjust="spacingAndGlyphs">LAM332</text>
<text x="524.8" y="361.49" text-anchor="middle" font-size="6.4" textLength="10" lengthAdjust="spacingAndGlyphs">Ctrl</text>
<text x="524.8" y="373.28" text-anchor="middle" font-size="8.6">−</text>
<text x="541.3" y="361.49" text-anchor="middle" font-size="6.4" textLength="10" lengthAdjust="spacingAndGlyphs">Ctrl</text>
<text x="541.3" y="373.28" text-anchor="middle" font-size="8.6">+</text>
<text x="557.3" y="362.48" text-anchor="middle" font-size="8.6">+</text>
<text x="557.3" y="373.28" text-anchor="middle" font-size="8.6">−</text>
<text x="572.1" y="362.48" text-anchor="middle" font-size="8.6">+</text>
<text x="572.1" y="373.28" text-anchor="middle" font-size="8.6">+</text>
<text x="594" y="361.49" text-anchor="middle" font-size="6.4" textLength="10" lengthAdjust="spacingAndGlyphs">Ctrl</text>
<text x="594" y="373.28" text-anchor="middle" font-size="8.6">−</text>
<text x="612.9" y="361.49" text-anchor="middle" font-size="6.4" textLength="10" lengthAdjust="spacingAndGlyphs">Ctrl</text>
<text x="612.9" y="373.28" text-anchor="middle" font-size="8.6">+</text>
<text x="627.5" y="362.48" text-anchor="middle" font-size="8.6">+</text>
<text x="627.5" y="373.28" text-anchor="middle" font-size="8.6">−</text>
<text x="643.7" y="362.48" text-anchor="middle" font-size="8.6">+</text>
<text x="643.7" y="373.28" text-anchor="middle" font-size="8.6">+</text>
<text x="659.3" y="373.49" font-size="6.4" textLength="12.2" lengthAdjust="spacingAndGlyphs">kDa</text>
<defs><filter id="bb" x="-30%" y="-80%" width="160%" height="260%"><feGaussianBlur stdDeviation="0.7 0.55"/></filter><filter id="bn" x="0" y="0" width="1" height="1" color-interpolation-filters="sRGB"><feTurbulence type="fractalNoise" baseFrequency="0.08 0.3" numOctaves="2" seed="9" result="n"/><feColorMatrix in="n" type="matrix" values="0 0 0 0 0.3 0 0 0 0 0.3 0 0 0 0 0.32 1.2 0 0 0 -0.45" result="m"/><feComponentTransfer in="m" result="m"><feFuncA type="linear" slope="0.22"/></feComponentTransfer><feMerge><feMergeNode in="SourceGraphic"/><feMergeNode in="m"/></feMerge></filter></defs>
<rect x="515" y="378.6" width="69.3" height="19.7" fill="#d8d8da" filter="url(#bn)"/>
<g fill="#111" filter="url(#bb)"><rect x="518.51" y="386.8" width="12.78" height="3.3" rx="1.65" fill-opacity="0.78"/><rect x="534.8" y="386.65" width="13" height="3.6" rx="1.8" fill-opacity="0.92"/><rect x="550.8" y="387.05" width="12.4" height="2.8" rx="1.4" fill-opacity="0.55"/><rect x="566.99" y="386.9" width="12.62" height="3.1" rx="1.55" fill-opacity="0.69"/></g>
<rect x="515" y="378.6" width="69.3" height="19.7" fill="none" stroke="#4a4a4a" stroke-width="0.9"/>
<rect x="586.3" y="378.6" width="69.3" height="19.7" fill="#d8d8da" filter="url(#bn)"/>
<g fill="#111" filter="url(#bb)"><rect x="589.89" y="386.9" width="12.62" height="3.1" rx="1.55" fill-opacity="0.69"/><rect x="605.4" y="386.65" width="13" height="3.6" rx="1.8" fill-opacity="0.92"/><rect x="621.2" y="387.45" width="11.8" height="2" rx="1" fill-opacity="0.18"/><rect x="637.12" y="386.95" width="12.55" height="3" rx="1.5" fill-opacity="0.64"/></g>
<rect x="586.3" y="378.6" width="69.3" height="19.7" fill="none" stroke="#4a4a4a" stroke-width="0.9"/>
<text x="513.3" y="391.56" text-anchor="end" font-size="8.7" textLength="33.69" lengthAdjust="spacingAndGlyphs">Vimentin</text>
<text x="657.8" y="391.61" font-size="6.6">57</text>
<rect x="515" y="400.32" width="69.3" height="19.7" fill="#dbdbdd" filter="url(#bn)"/>
<g fill="#111" filter="url(#bb)"><rect x="518.77" y="408.87" width="12.25" height="2.6" rx="1.3" fill-opacity="0.46"/><rect x="534.99" y="408.62" width="12.62" height="3.1" rx="1.55" fill-opacity="0.69"/><rect x="551.16" y="409.25" width="11.68" height="1.84" rx="0.92" fill-opacity="0.11"/><rect x="567.29" y="409.02" width="12.03" height="2.3" rx="1.15" fill-opacity="0.32"/></g>
<rect x="515" y="400.32" width="69.3" height="19.7" fill="none" stroke="#4a4a4a" stroke-width="0.9"/>
<rect x="586.3" y="400.32" width="69.3" height="19.7" fill="#dbdbdd" filter="url(#bn)"/>
<g fill="#111" filter="url(#bb)"><rect x="589.85" y="408.57" width="12.7" height="3.2" rx="1.6" fill-opacity="0.74"/><rect x="605.48" y="408.47" width="12.85" height="3.4" rx="1.7" fill-opacity="0.83"/><rect x="621.29" y="409.29" width="11.62" height="1.76" rx="0.88" fill-opacity="0.07"/><rect x="637.27" y="408.87" width="12.25" height="2.6" rx="1.3" fill-opacity="0.46"/></g>
<rect x="586.3" y="400.32" width="69.3" height="19.7" fill="none" stroke="#4a4a4a" stroke-width="0.9"/>
<text x="513.3" y="413.28" text-anchor="end" font-size="8.7" textLength="42.55" lengthAdjust="spacingAndGlyphs">N-cadherin</text>
<text x="657.8" y="413.33" font-size="6.6">130</text>
<rect x="515" y="422.04" width="69.3" height="19.7" fill="#d9d9db" filter="url(#bn)"/>
<g fill="#111" filter="url(#bb)"><rect x="518.7" y="430.49" width="12.4" height="2.8" rx="1.4" fill-opacity="0.55"/><rect x="535.21" y="430.64" width="12.18" height="2.5" rx="1.25" fill-opacity="0.41"/><rect x="550.54" y="430.14" width="12.93" height="3.5" rx="1.75" fill-opacity="0.87"/><rect x="567.1" y="430.49" width="12.4" height="2.8" rx="1.4" fill-opacity="0.55"/></g>
<rect x="515" y="422.04" width="69.3" height="19.7" fill="none" stroke="#4a4a4a" stroke-width="0.9"/>
<rect x="586.3" y="422.04" width="69.3" height="19.7" fill="#d9d9db" filter="url(#bn)"/>
<g fill="#111" filter="url(#bb)"><rect x="590.11" y="430.64" width="12.18" height="2.5" rx="1.25" fill-opacity="0.41"/><rect x="605.99" y="430.87" width="11.83" height="2.04" rx="1.02" fill-opacity="0.2"/><rect x="620.68" y="430.19" width="12.85" height="3.4" rx="1.7" fill-opacity="0.83"/><rect x="637.31" y="430.64" width="12.18" height="2.5" rx="1.25" fill-opacity="0.41"/></g>
<rect x="586.3" y="422.04" width="69.3" height="19.7" fill="none" stroke="#4a4a4a" stroke-width="0.9"/>
<text x="513.3" y="435" text-anchor="end" font-size="8.7" textLength="42.07" lengthAdjust="spacingAndGlyphs">E-cadherin</text>
<text x="657.8" y="435.05" font-size="6.6">120</text>
<rect x="515" y="443.76" width="69.3" height="19.7" fill="#d6d6d9" filter="url(#bn)"/>
<g fill="#111" filter="url(#bb)"><rect x="518.55" y="452.01" width="12.7" height="3.2" rx="1.6" fill-opacity="0.74"/><rect x="534.91" y="451.96" width="12.78" height="3.3" rx="1.65" fill-opacity="0.78"/><rect x="550.95" y="452.41" width="12.1" height="2.4" rx="1.2" fill-opacity="0.37"/><rect x="566.99" y="452.06" width="12.62" height="3.1" rx="1.55" fill-opacity="0.69"/></g>
<rect x="515" y="443.76" width="69.3" height="19.7" fill="none" stroke="#4a4a4a" stroke-width="0.9"/>
<rect x="586.3" y="443.76" width="69.3" height="19.7" fill="#d6d6d9" filter="url(#bn)"/>
<g fill="#111" filter="url(#bb)"><rect x="589.89" y="452.06" width="12.62" height="3.1" rx="1.55" fill-opacity="0.69"/><rect x="605.51" y="451.96" width="12.78" height="3.3" rx="1.65" fill-opacity="0.78"/><rect x="620.9" y="452.21" width="12.4" height="2.8" rx="1.4" fill-opacity="0.55"/><rect x="637.05" y="452.01" width="12.7" height="3.2" rx="1.6" fill-opacity="0.74"/></g>
<rect x="586.3" y="443.76" width="69.3" height="19.7" fill="none" stroke="#4a4a4a" stroke-width="0.9"/>
<text x="513.3" y="456.72" text-anchor="end" font-size="8.7" textLength="25.13" lengthAdjust="spacingAndGlyphs">MMP2</text>
<text x="657.8" y="456.77" font-size="6.6">67</text>
<rect x="515" y="465.48" width="69.3" height="19.7" fill="#cdced1" filter="url(#bn)"/>
<g fill="#111" filter="url(#bb)"><rect x="518.44" y="473.58" width="12.93" height="3.5" rx="1.75" fill-opacity="0.87"/><rect x="534.8" y="473.53" width="13" height="3.6" rx="1.8" fill-opacity="0.92"/><rect x="550.8" y="473.93" width="12.4" height="2.8" rx="1.4" fill-opacity="0.55"/><rect x="566.84" y="473.58" width="12.93" height="3.5" rx="1.75" fill-opacity="0.87"/></g>
<rect x="515" y="465.48" width="69.3" height="19.7" fill="none" stroke="#4a4a4a" stroke-width="0.9"/>
<rect x="586.3" y="465.48" width="69.3" height="19.7" fill="#cdced1" filter="url(#bn)"/>
<g fill="#111" filter="url(#bb)"><rect x="589.74" y="473.58" width="12.93" height="3.5" rx="1.75" fill-opacity="0.87"/><rect x="605.4" y="473.53" width="13" height="3.6" rx="1.8" fill-opacity="0.92"/><rect x="620.9" y="473.93" width="12.4" height="2.8" rx="1.4" fill-opacity="0.55"/><rect x="637.01" y="473.68" width="12.78" height="3.3" rx="1.65" fill-opacity="0.78"/></g>
<rect x="586.3" y="465.48" width="69.3" height="19.7" fill="none" stroke="#4a4a4a" stroke-width="0.9"/>
<text x="513.3" y="478.44" text-anchor="end" font-size="8.7" textLength="25.13" lengthAdjust="spacingAndGlyphs">MMP9</text>
<text x="657.8" y="478.49" font-size="6.6">92</text>
<rect x="515" y="487.2" width="69.3" height="19.7" fill="#d2d4d7" filter="url(#bn)"/>
<g fill="#111" filter="url(#bb)"><rect x="518.51" y="495.4" width="12.78" height="3.3" rx="1.65" fill-opacity="0.78"/><rect x="534.84" y="495.3" width="12.93" height="3.5" rx="1.75" fill-opacity="0.87"/><rect x="550.91" y="495.8" width="12.18" height="2.5" rx="1.25" fill-opacity="0.41"/><rect x="566.95" y="495.45" width="12.7" height="3.2" rx="1.6" fill-opacity="0.74"/></g>
<rect x="515" y="487.2" width="69.3" height="19.7" fill="none" stroke="#4a4a4a" stroke-width="0.9"/>
<rect x="586.3" y="487.2" width="69.3" height="19.7" fill="#d2d4d7" filter="url(#bn)"/>
<g fill="#111" filter="url(#bb)"><rect x="589.81" y="495.4" width="12.78" height="3.3" rx="1.65" fill-opacity="0.78"/><rect x="605.44" y="495.3" width="12.93" height="3.5" rx="1.75" fill-opacity="0.87"/><rect x="620.83" y="495.55" width="12.55" height="3" rx="1.5" fill-opacity="0.64"/><rect x="637.05" y="495.45" width="12.7" height="3.2" rx="1.6" fill-opacity="0.74"/></g>
<rect x="586.3" y="487.2" width="69.3" height="19.7" fill="none" stroke="#4a4a4a" stroke-width="0.9"/>
<text x="513.3" y="500.16" text-anchor="end" font-size="8.7" textLength="19.35" lengthAdjust="spacingAndGlyphs">Snail</text>
<text x="657.8" y="500.21" font-size="6.6">65</text>
<rect x="515" y="508.92" width="69.3" height="19.7" fill="#d2d2d5" filter="url(#bn)"/>
<g fill="#111" filter="url(#bb)"><rect x="518.51" y="517.12" width="12.78" height="3.3" rx="1.65" fill-opacity="0.78"/><rect x="534.84" y="517.02" width="12.93" height="3.5" rx="1.75" fill-opacity="0.87"/><rect x="550.76" y="517.32" width="12.47" height="2.9" rx="1.45" fill-opacity="0.6"/><rect x="566.99" y="517.22" width="12.62" height="3.1" rx="1.55" fill-opacity="0.69"/></g>
<rect x="515" y="508.92" width="69.3" height="19.7" fill="none" stroke="#4a4a4a" stroke-width="0.9"/>
<rect x="586.3" y="508.92" width="69.3" height="19.7" fill="#d2d2d5" filter="url(#bn)"/>
<g fill="#111" filter="url(#bb)"><rect x="590.08" y="517.47" width="12.25" height="2.6" rx="1.3" fill-opacity="0.46"/><rect x="605.51" y="517.12" width="12.78" height="3.3" rx="1.65" fill-opacity="0.78"/><rect x="621.2" y="517.77" width="11.8" height="2" rx="1" fill-opacity="0.18"/><rect x="637.39" y="517.62" width="12.03" height="2.3" rx="1.15" fill-opacity="0.32"/></g>
<rect x="586.3" y="508.92" width="69.3" height="19.7" fill="none" stroke="#4a4a4a" stroke-width="0.9"/>
<text x="513.3" y="521.88" text-anchor="end" font-size="8.7" textLength="24.65" lengthAdjust="spacingAndGlyphs">Twist1</text>
<text x="657.8" y="521.93" font-size="6.6">21</text>
<rect x="515" y="530.64" width="69.3" height="19.7" fill="#cbcdd0" filter="url(#bn)"/>
<g fill="#111" filter="url(#bb)"><rect x="518.51" y="537.64" width="12.78" height="3.3" rx="1.65" fill-opacity="0.78"/><rect x="519.4" y="542.29" width="11" height="1.6" rx="0.8" fill-opacity="0.19"/><rect x="534.88" y="537.59" width="12.85" height="3.4" rx="1.7" fill-opacity="0.83"/><rect x="535.8" y="542.29" width="11" height="1.6" rx="0.8" fill-opacity="0.2"/><rect x="550.91" y="538.04" width="12.18" height="2.5" rx="1.25" fill-opacity="0.41"/><rect x="551.5" y="542.29" width="11" height="1.6" rx="0.8" fill-opacity="0.1"/><rect x="566.91" y="537.64" width="12.78" height="3.3" rx="1.65" fill-opacity="0.78"/><rect x="567.8" y="542.29" width="11" height="1.6" rx="0.8" fill-opacity="0.19"/></g>
<rect x="515" y="530.64" width="69.3" height="19.7" fill="none" stroke="#4a4a4a" stroke-width="0.9"/>
<rect x="586.3" y="530.64" width="69.3" height="19.7" fill="#cbcdd0" filter="url(#bn)"/>
<g fill="#111" filter="url(#bb)"><rect x="589.74" y="537.54" width="12.93" height="3.5" rx="1.75" fill-opacity="0.87"/><rect x="590.7" y="542.29" width="11" height="1.6" rx="0.8" fill-opacity="0.21"/><rect x="605.4" y="537.49" width="13" height="3.6" rx="1.8" fill-opacity="0.92"/><rect x="606.4" y="542.29" width="11" height="1.6" rx="0.8" fill-opacity="0.22"/><rect x="621.12" y="538.19" width="11.95" height="2.2" rx="1.1" fill-opacity="0.28"/><rect x="621.6" y="542.29" width="11" height="1.6" rx="0.8" fill-opacity="0.07"/><rect x="636.94" y="537.54" width="12.93" height="3.5" rx="1.75" fill-opacity="0.87"/><rect x="637.9" y="542.29" width="11" height="1.6" rx="0.8" fill-opacity="0.21"/></g>
<rect x="586.3" y="530.64" width="69.3" height="19.7" fill="none" stroke="#4a4a4a" stroke-width="0.9"/>
<text x="513.3" y="543.6" text-anchor="end" font-size="8.7" textLength="24.65" lengthAdjust="spacingAndGlyphs">p-AKT</text>
<text x="657.8" y="543.65" font-size="6.6">60</text>
<rect x="515" y="552.36" width="69.3" height="19.7" fill="#d8d9db" filter="url(#bn)"/>
<g fill="#111" filter="url(#bb)"><rect x="518.48" y="560.51" width="12.85" height="3.4" rx="1.7" fill-opacity="0.83"/><rect x="534.88" y="560.51" width="12.85" height="3.4" rx="1.7" fill-opacity="0.83"/><rect x="550.58" y="560.51" width="12.85" height="3.4" rx="1.7" fill-opacity="0.83"/><rect x="566.88" y="560.51" width="12.85" height="3.4" rx="1.7" fill-opacity="0.83"/></g>
<rect x="515" y="552.36" width="69.3" height="19.7" fill="none" stroke="#4a4a4a" stroke-width="0.9"/>
<rect x="586.3" y="552.36" width="69.3" height="19.7" fill="#d8d9db" filter="url(#bn)"/>
<g fill="#111" filter="url(#bb)"><rect x="589.78" y="560.51" width="12.85" height="3.4" rx="1.7" fill-opacity="0.83"/><rect x="605.48" y="560.51" width="12.85" height="3.4" rx="1.7" fill-opacity="0.83"/><rect x="620.68" y="560.51" width="12.85" height="3.4" rx="1.7" fill-opacity="0.83"/><rect x="636.98" y="560.51" width="12.85" height="3.4" rx="1.7" fill-opacity="0.83"/></g>
<rect x="586.3" y="552.36" width="69.3" height="19.7" fill="none" stroke="#4a4a4a" stroke-width="0.9"/>
<text x="513.3" y="565.32" text-anchor="end" font-size="8.7" textLength="16.92" lengthAdjust="spacingAndGlyphs">AKT</text>
<text x="657.8" y="565.37" font-size="6.6">60</text>
<rect x="515" y="574.08" width="69.3" height="19.7" fill="#d6d7d9" filter="url(#bn)"/>
<g fill="#111" filter="url(#bb)"><rect x="518.51" y="582.28" width="12.78" height="3.3" rx="1.65" fill-opacity="0.78"/><rect x="534.8" y="582.13" width="13" height="3.6" rx="1.8" fill-opacity="0.92"/><rect x="550.95" y="582.73" width="12.1" height="2.4" rx="1.2" fill-opacity="0.37"/><rect x="566.99" y="582.38" width="12.62" height="3.1" rx="1.55" fill-opacity="0.69"/></g>
<rect x="515" y="574.08" width="69.3" height="19.7" fill="none" stroke="#4a4a4a" stroke-width="0.9"/>
<rect x="586.3" y="574.08" width="69.3" height="19.7" fill="#d6d7d9" filter="url(#bn)"/>
<g fill="#111" filter="url(#bb)"><rect x="590" y="582.53" width="12.4" height="2.8" rx="1.4" fill-opacity="0.55"/><rect x="605.51" y="582.28" width="12.78" height="3.3" rx="1.65" fill-opacity="0.78"/><rect x="621.2" y="582.93" width="11.8" height="2" rx="1" fill-opacity="0.18"/><rect x="637.2" y="582.53" width="12.4" height="2.8" rx="1.4" fill-opacity="0.55"/></g>
<rect x="586.3" y="574.08" width="69.3" height="19.7" fill="none" stroke="#4a4a4a" stroke-width="0.9"/>
<text x="513.3" y="587.04" text-anchor="end" font-size="8.7" textLength="24.18" lengthAdjust="spacingAndGlyphs">p-FAK</text>
<text x="657.8" y="587.09" font-size="6.6">119</text>
<rect x="515" y="595.8" width="69.3" height="19.7" fill="#d8d9db" filter="url(#bn)"/>
<g fill="#111" filter="url(#bb)"><rect x="518.59" y="603.5" width="12.62" height="3.1" rx="1.55" fill-opacity="0.69"/><rect x="519.4" y="608.05" width="11" height="1.6" rx="0.8" fill-opacity="0.17"/><rect x="535.02" y="603.55" width="12.55" height="3" rx="1.5" fill-opacity="0.64"/><rect x="535.8" y="608.05" width="11" height="1.6" rx="0.8" fill-opacity="0.15"/><rect x="550.69" y="603.5" width="12.62" height="3.1" rx="1.55" fill-opacity="0.69"/><rect x="551.5" y="608.05" width="11" height="1.6" rx="0.8" fill-opacity="0.17"/><rect x="567.02" y="603.55" width="12.55" height="3" rx="1.5" fill-opacity="0.64"/><rect x="567.8" y="608.05" width="11" height="1.6" rx="0.8" fill-opacity="0.15"/></g>
<rect x="515" y="595.8" width="69.3" height="19.7" fill="none" stroke="#4a4a4a" stroke-width="0.9"/>
<rect x="586.3" y="595.8" width="69.3" height="19.7" fill="#d8d9db" filter="url(#bn)"/>
<g fill="#111" filter="url(#bb)"><rect x="589.85" y="603.45" width="12.7" height="3.2" rx="1.6" fill-opacity="0.74"/><rect x="590.7" y="608.05" width="11" height="1.6" rx="0.8" fill-opacity="0.18"/><rect x="605.59" y="603.5" width="12.62" height="3.1" rx="1.55" fill-opacity="0.69"/><rect x="606.4" y="608.05" width="11" height="1.6" rx="0.8" fill-opacity="0.17"/><rect x="620.75" y="603.45" width="12.7" height="3.2" rx="1.6" fill-opacity="0.74"/><rect x="621.6" y="608.05" width="11" height="1.6" rx="0.8" fill-opacity="0.18"/><rect x="637.05" y="603.45" width="12.7" height="3.2" rx="1.6" fill-opacity="0.74"/><rect x="637.9" y="608.05" width="11" height="1.6" rx="0.8" fill-opacity="0.18"/></g>
<rect x="586.3" y="595.8" width="69.3" height="19.7" fill="none" stroke="#4a4a4a" stroke-width="0.9"/>
<text x="513.3" y="608.76" text-anchor="end" font-size="8.7" textLength="16.44" lengthAdjust="spacingAndGlyphs">FAK</text>
<text x="657.8" y="608.81" font-size="6.6">119</text>
<rect x="515" y="617.52" width="69.3" height="19.7" fill="#d8d9db" filter="url(#bn)"/>
<g fill="#111" filter="url(#bb)"><rect x="518.48" y="625.67" width="12.85" height="3.4" rx="1.7" fill-opacity="0.83"/><rect x="534.88" y="625.67" width="12.85" height="3.4" rx="1.7" fill-opacity="0.83"/><rect x="550.58" y="625.67" width="12.85" height="3.4" rx="1.7" fill-opacity="0.83"/><rect x="566.88" y="625.67" width="12.85" height="3.4" rx="1.7" fill-opacity="0.83"/></g>
<rect x="515" y="617.52" width="69.3" height="19.7" fill="none" stroke="#4a4a4a" stroke-width="0.9"/>
<rect x="586.3" y="617.52" width="69.3" height="19.7" fill="#d8d9db" filter="url(#bn)"/>
<g fill="#111" filter="url(#bb)"><rect x="589.78" y="625.67" width="12.85" height="3.4" rx="1.7" fill-opacity="0.83"/><rect x="605.48" y="625.67" width="12.85" height="3.4" rx="1.7" fill-opacity="0.83"/><rect x="620.68" y="625.67" width="12.85" height="3.4" rx="1.7" fill-opacity="0.83"/><rect x="636.98" y="625.67" width="12.85" height="3.4" rx="1.7" fill-opacity="0.83"/></g>
<rect x="586.3" y="617.52" width="69.3" height="19.7" fill="none" stroke="#4a4a4a" stroke-width="0.9"/>
<text x="513.3" y="630.48" text-anchor="end" font-size="8.7" textLength="30.94" lengthAdjust="spacingAndGlyphs">GAPDH</text>
<text x="657.8" y="630.53" font-size="6.6">36</text>
<text x="4.2" y="506.3" font-weight="bold" fill="#000" font-size="15.5">I</text>
<text x="160.9" y="507.24" text-anchor="middle" font-size="11" textLength="158" lengthAdjust="spacingAndGlyphs">Subcutaneous xenograft models</text>
<path d="M54.1 545.8A14 18.5 0 1 0 70.1 545.8" stroke="#222" stroke-width="0.75" fill="none"/>
<path d="M55.4 538.4A4.6 4.6 0 1 0 54.1 545.8" stroke="#222" stroke-width="0.75" fill="none"/>
<path d="M68.8 538.4A4.6 4.6 0 1 1 70.1 545.8" stroke="#222" stroke-width="0.75" fill="none"/>
<path d="M55.4 538.4C57 533 59.5 528.3 62 528.3C64.5 528.3 67 533 68.8 538.4" stroke="#222" stroke-width="0.75" fill="none"/>
<path d="M56.3 531.4L51.3 529.4M56.3 531.4L51 531.5M56.3 531.4L51.4 533.5M67.8 531.4L72.8 529.4M67.8 531.4L73.1 531.5M67.8 531.4L72.7 533.5" stroke="#333" stroke-width="0.5" fill="none"/>
<circle cx="52.4" cy="567.6" r="1.4" fill="#111"/>
<g transform="rotate(-38 50.1 570.8)"><rect x="39" y="569.8" width="11.1" height="2.1" fill="#fff" stroke="#222" stroke-width="0.6"/><line x1="36.6" y1="570.85" x2="39" y2="570.85" stroke="#222" stroke-width="0.8"/><line x1="36.6" y1="569.3" x2="36.6" y2="572.4" stroke="#222" stroke-width="0.9"/></g>
<path d="M63.4 579.2C65.2 580.6 65.5 582.2 65.5 584.6C65.5 587.4 67.6 588.6 70.4 589.3" stroke="#222" stroke-width="0.7" fill="none"/>
<text x="119.2" y="537.18" text-anchor="middle" font-size="7.2" textLength="74.5" lengthAdjust="spacingAndGlyphs">Subcutaneous injection</text>
<text x="84.4" y="546.5" font-size="6.3" textLength="14.4" lengthAdjust="spacingAndGlyphs">1×10</text>
<text x="98.8" y="543.2" font-size="3.8">6</text>
<text x="101.3" y="546.5" font-size="6.3" textLength="32.7" lengthAdjust="spacingAndGlyphs">PDAC cells</text>
<path d="M107.4 549.6H111.2V553.4H113.2L109.3 557.7L105.4 553.4H107.4Z" fill="#111"/>
<path d="M121.6 575.1H125.2V571.2H127.2L123.4 566.6L119.6 571.2H121.6Z" fill="#e070c4"/>
<path d="M218.7 550.2H221.7V553.4H223.5L220.2 557.3L216.9 553.4H218.7Z" fill="#e8262c"/>
<line x1="109.2" y1="564.1" x2="220.4" y2="564.1" stroke="#222" stroke-width="0.8"/>
<line x1="109.2" y1="559.6" x2="109.2" y2="564.1" stroke="#222" stroke-width="0.7"/>
<line x1="123.1" y1="559.6" x2="123.1" y2="564.1" stroke="#222" stroke-width="0.7"/>
<line x1="137" y1="559.6" x2="137" y2="564.1" stroke="#222" stroke-width="0.7"/>
<line x1="150.9" y1="559.6" x2="150.9" y2="564.1" stroke="#222" stroke-width="0.7"/>
<line x1="164.8" y1="559.6" x2="164.8" y2="564.1" stroke="#222" stroke-width="0.7"/>
<line x1="178.7" y1="559.6" x2="178.7" y2="564.1" stroke="#222" stroke-width="0.7"/>
<line x1="192.6" y1="559.6" x2="192.6" y2="564.1" stroke="#222" stroke-width="0.7"/>
<line x1="206.5" y1="559.6" x2="206.5" y2="564.1" stroke="#222" stroke-width="0.7"/>
<line x1="220.4" y1="559.6" x2="220.4" y2="564.1" stroke="#222" stroke-width="0.7"/>
<text x="109.3" y="574.48" text-anchor="middle" font-size="10">0</text>
<text x="222.7" y="574.48" text-anchor="middle" font-size="10" textLength="29.8" lengthAdjust="spacingAndGlyphs">28 Day</text>
<text x="134.9" y="582.66" text-anchor="middle" font-size="6.6" textLength="84.9" lengthAdjust="spacingAndGlyphs">Recombinant LAM332 protein</text>
<text x="128.4" y="591.26" text-anchor="middle" font-size="6.6" textLength="53.2" lengthAdjust="spacingAndGlyphs">(20mg/kg i.p., q3d)</text>
<text x="220.4" y="528.59" text-anchor="middle" font-size="7.8" textLength="27" lengthAdjust="spacingAndGlyphs">Tumour</text>
<text x="220.4" y="537.18" text-anchor="middle" font-size="7.2" textLength="61.6" lengthAdjust="spacingAndGlyphs">Volume and weight</text>
<text x="220.4" y="545.81" text-anchor="middle" font-size="7.3" textLength="44" lengthAdjust="spacingAndGlyphs">H&amp;E and IHC</text>
<text x="292.2" y="506.4" font-weight="bold" fill="#000" font-size="15.5">J</text>
<text x="321.7" y="544.25" text-anchor="end" font-size="7.4" textLength="22.8" lengthAdjust="spacingAndGlyphs">sh-Ctrl</text>
<text x="321.7" y="562.25" text-anchor="end" font-size="7.4" textLength="54.5" lengthAdjust="spacingAndGlyphs">sh-Ctrl+LAM332</text>
<text x="321.7" y="579.65" text-anchor="end" font-size="7.4" textLength="30" lengthAdjust="spacingAndGlyphs">sh-ITGA3</text>
<text x="321.7" y="594.15" text-anchor="end" font-size="7.4" textLength="63.8" lengthAdjust="spacingAndGlyphs">sh-ITGA3+LAM332</text>
<defs><linearGradient id="gR" x1="0" y1="0" x2="1" y2="1"><stop offset="0" stop-color="#d2d8cc"/><stop offset="0.6" stop-color="#c5cdbf"/><stop offset="1" stop-color="#bcc5b6"/></linearGradient><pattern id="mesh" width="2.2" height="2.2" patternUnits="userSpaceOnUse" patternTransform="rotate(45)"><rect width="2.2" height="2.2" fill="#558ed0"/><rect width="1.1" height="1.1" fill="#649cda"/><rect x="1.1" y="1.1" width="1.1" height="1.1" fill="#4880c4"/></pattern><radialGradient id="gT" cx="0.45" cy="0.4" r="0.6"><stop offset="0" stop-color="#faf0ea"/><stop offset="0.65" stop-color="#f1ddd4"/><stop offset="1" stop-color="#e2bcb4"/></radialGradient><filter id="tb" x="-10%" y="-10%" width="120%" height="120%"><feTurbulence type="fractalNoise" baseFrequency="0.18" numOctaves="1" seed="4" result="t"/><feDisplacementMap in="SourceGraphic" in2="t" scale="2.4" xChannelSelector="R" yChannelSelector="G" result="d"/><feGaussianBlur in="d" stdDeviation="0.3"/></filter></defs>
<rect x="323.8" y="489.8" width="123.8" height="109.8" fill="url(#gR)"/>
<rect x="347.5" y="514.1" width="100.1" height="85.5" fill="url(#mesh)"/>
<rect x="323.8" y="489.8" width="123.8" height="1.6" fill="#4a8fd8"/>
<rect x="323.8" y="489.8" width="1.3" height="109.8" fill="#6c9ad0"/>
<rect x="446.4" y="489.8" width="1.2" height="109.8" fill="#5a90d0"/>
<path d="M327 491.5v3.5M329.95 491.5v2M332.9 491.5v2M335.85 491.5v2M338.8 491.5v2M341.75 491.5v3.5M344.7 491.5v2M347.65 491.5v2M350.6 491.5v2M353.55 491.5v2M356.5 491.5v3.5M359.45 491.5v2M362.4 491.5v2M365.35 491.5v2M368.3 491.5v2M371.25 491.5v3.5M374.2 491.5v2M377.15 491.5v2M380.1 491.5v2M383.05 491.5v2M386 491.5v3.5M388.95 491.5v2M391.9 491.5v2M394.85 491.5v2M397.8 491.5v2M400.75 491.5v3.5M403.7 491.5v2M406.65 491.5v2M409.6 491.5v2M412.55 491.5v2M415.5 491.5v3.5M418.45 491.5v2M421.4 491.5v2M424.35 491.5v2M427.3 491.5v2M430.25 491.5v3.5M433.2 491.5v2M436.15 491.5v2M439.1 491.5v2M442.05 491.5v2M325.2 494h3.5M325.2 496.95h2M325.2 499.9h2M325.2 502.85h2M325.2 505.8h2M325.2 508.75h3.5M325.2 511.7h2M325.2 514.65h2M325.2 517.6h2M325.2 520.55h2M325.2 523.5h3.5M325.2 526.45h2M325.2 529.4h2M325.2 532.35h2M325.2 535.3h2M325.2 538.25h3.5M325.2 541.2h2M325.2 544.15h2M325.2 547.1h2M325.2 550.05h2M325.2 553h3.5M325.2 555.95h2M325.2 558.9h2M325.2 561.85h2M325.2 564.8h2M325.2 567.75h3.5M325.2 570.7h2M325.2 573.65h2M325.2 576.6h2M325.2 579.55h2" stroke="#7a8276" stroke-width="0.35" fill="none"/>
<line x1="380.4" y1="491.5" x2="380.4" y2="514.1" stroke="#aab2a4" stroke-width="0.5"/>
<line x1="325.2" y1="546.4" x2="347.5" y2="546.4" stroke="#aab2a4" stroke-width="0.5"/>
<text x="332.6" y="499.8" text-anchor="middle" fill="#555" font-size="2.6">10</text>
<text x="344.5" y="499.8" text-anchor="middle" fill="#555" font-size="2.6">20</text>
<text x="356.4" y="499.8" text-anchor="middle" fill="#555" font-size="2.6">30</text>
<text x="368.3" y="499.8" text-anchor="middle" fill="#555" font-size="2.6">40</text>
<text x="392.1" y="499.8" text-anchor="middle" fill="#555" font-size="2.6">60</text>
<text x="404" y="499.8" text-anchor="middle" fill="#555" font-size="2.6">70</text>
<text x="415.9" y="499.8" text-anchor="middle" fill="#555" font-size="2.6">80</text>
<text x="427.8" y="499.8" text-anchor="middle" fill="#555" font-size="2.6">90</text>
<text x="439.7" y="499.8" text-anchor="middle" fill="#555" font-size="2.6">10</text>
<text x="379.9" y="509.8" text-anchor="middle" font-weight="bold" fill="#2a2a2a" font-size="8.4">50</text>
<text x="406.3" y="509" text-anchor="middle" font-weight="bold" fill="#3a3a3a" font-size="3.6" textLength="32" lengthAdjust="spacingAndGlyphs">STAINLESS STEEL</text>
<text x="434.2" y="509.8" text-anchor="middle" font-weight="bold" fill="#b8323a" font-size="8.4" textLength="12.8" lengthAdjust="spacingAndGlyphs">100</text>
<text x="343.8" y="545.8" text-anchor="middle" font-weight="bold" fill="#2a2a2a" font-size="8.4" transform="rotate(-90 343.8 545.8)">50</text>
<clipPath id="cJ"><rect x="323.8" y="489.8" width="123.8" height="109.8"/></clipPath><g clip-path="url(#cJ)">
<text x="343.9" y="604" text-anchor="middle" font-weight="bold" fill="#c04048" font-size="8.4" transform="rotate(-90 343.9 604)">100</text>
</g>
<text x="342.6" y="568" text-anchor="middle" fill="#555" font-size="4" transform="rotate(-90 342.6 568)">= =</text>
<g filter="url(#tb)"><ellipse cx="360.8" cy="535.7" rx="4.8" ry="4.6" fill="url(#gT)"/><circle cx="360.6" cy="532.12" r="0.97" fill="#d0505c" opacity="0.55"/><ellipse cx="378.8" cy="536.7" rx="4.2" ry="5" fill="url(#gT)"/><ellipse cx="397.4" cy="537.7" rx="3.8" ry="4.2" fill="url(#gT)"/><circle cx="397.76" cy="535.27" r="0.53" fill="#d0505c" opacity="0.55"/><circle cx="398.72" cy="539.91" r="0.93" fill="#d0505c" opacity="0.55"/><ellipse cx="417.2" cy="537.4" rx="5.5" ry="5" fill="url(#gT)"/><circle cx="413.49" cy="536.45" r="0.51" fill="#d0505c" opacity="0.55"/><circle cx="417.88" cy="540.32" r="0.96" fill="#d0505c" opacity="0.55"/><ellipse cx="436.2" cy="537.7" rx="5" ry="4.8" fill="url(#gT)"/><circle cx="438.3" cy="540.85" r="0.57" fill="#d0505c" opacity="0.55"/><circle cx="434.18" cy="535.95" r="0.5" fill="#d0505c" opacity="0.55"/><ellipse cx="362" cy="555" rx="6.2" ry="6.2" fill="url(#gT)"/><ellipse cx="379.8" cy="553.5" rx="5.5" ry="7.2" fill="url(#gT)"/><circle cx="380.47" cy="547.54" r="0.58" fill="#d0505c" opacity="0.55"/><ellipse cx="398" cy="555.3" rx="6.2" ry="4.8" fill="url(#gT)"/><circle cx="396.74" cy="559.19" r="0.77" fill="#d0505c" opacity="0.55"/><ellipse cx="418.5" cy="556.2" rx="6.4" ry="5.8" fill="url(#gT)"/><circle cx="420.74" cy="560.62" r="0.6" fill="#d0505c" opacity="0.55"/><ellipse cx="437.9" cy="555.8" rx="6.2" ry="5.3" fill="url(#gT)"/><circle cx="436.73" cy="558.97" r="0.58" fill="#d0505c" opacity="0.55"/><circle cx="439.88" cy="558" r="0.65" fill="#d0505c" opacity="0.55"/><ellipse cx="361.7" cy="573.7" rx="3.5" ry="3.5" fill="url(#gT)"/><ellipse cx="378.8" cy="574" rx="3.5" ry="3.5" fill="url(#gT)"/><circle cx="380.8" cy="574.88" r="0.65" fill="#d0505c" opacity="0.55"/><ellipse cx="396.3" cy="572.9" rx="3.3" ry="3.3" fill="url(#gT)"/><circle cx="397.18" cy="574.91" r="0.59" fill="#d0505c" opacity="0.55"/><ellipse cx="415.9" cy="575.3" rx="3.2" ry="3.2" fill="url(#gT)"/><circle cx="417.5" cy="575.04" r="0.87" fill="#d0505c" opacity="0.55"/><ellipse cx="438" cy="573.7" rx="4" ry="3.4" fill="url(#gT)"/><circle cx="441.08" cy="574" r="0.68" fill="#d0505c" opacity="0.55"/><circle cx="436.23" cy="572.89" r="0.52" fill="#d0505c" opacity="0.55"/><ellipse cx="361.7" cy="592.3" rx="5" ry="4.3" fill="url(#gT)"/><circle cx="358.72" cy="589.79" r="0.56" fill="#d0505c" opacity="0.55"/><ellipse cx="380.2" cy="592.9" rx="5.3" ry="4.6" fill="url(#gT)"/><circle cx="384.17" cy="591.26" r="0.67" fill="#d0505c" opacity="0.55"/><ellipse cx="400.5" cy="591.5" rx="4.6" ry="4.5" fill="url(#gT)"/><circle cx="402.61" cy="589.84" r="0.73" fill="#d0505c" opacity="0.55"/><ellipse cx="417.2" cy="592.3" rx="5.5" ry="4.6" fill="url(#gT)"/><circle cx="418.99" cy="590.48" r="0.97" fill="#d0505c" opacity="0.55"/><ellipse cx="436" cy="593" rx="5.5" ry="4.6" fill="url(#gT)"/></g>
<text x="4.2" y="610.5" font-weight="bold" fill="#000" font-size="15.5">K</text>
<line x1="86.5" y1="616.2" x2="86.5" y2="702.1" stroke="#333" stroke-width="0.8"/>
<line x1="86.5" y1="702.1" x2="214" y2="702.1" stroke="#333" stroke-width="0.8"/>
<line x1="82.7" y1="702.1" x2="86.5" y2="702.1" stroke="#333" stroke-width="0.7"/>
<text x="82" y="704.28" text-anchor="end" fill="#333" font-size="6.1">0</text>
<line x1="82.7" y1="680.62" x2="86.5" y2="680.62" stroke="#333" stroke-width="0.7"/>
<text x="82" y="682.81" text-anchor="end" fill="#333" font-size="6.1">200</text>
<line x1="82.7" y1="659.15" x2="86.5" y2="659.15" stroke="#333" stroke-width="0.7"/>
<text x="82" y="661.33" text-anchor="end" fill="#333" font-size="6.1">400</text>
<line x1="82.7" y1="637.67" x2="86.5" y2="637.67" stroke="#333" stroke-width="0.7"/>
<text x="82" y="639.86" text-anchor="end" fill="#333" font-size="6.1">600</text>
<line x1="82.7" y1="616.2" x2="86.5" y2="616.2" stroke="#333" stroke-width="0.7"/>
<text x="82" y="618.38" text-anchor="end" fill="#333" font-size="6.1">800</text>
<line x1="106.1" y1="702.1" x2="106.1" y2="704.7" stroke="#333" stroke-width="0.7"/>
<text x="106.1" y="712.42" text-anchor="middle" font-size="7.6">1</text>
<line x1="135.4" y1="702.1" x2="135.4" y2="704.7" stroke="#333" stroke-width="0.7"/>
<text x="135.4" y="712.42" text-anchor="middle" font-size="7.6">2</text>
<line x1="164.8" y1="702.1" x2="164.8" y2="704.7" stroke="#333" stroke-width="0.7"/>
<text x="164.8" y="712.42" text-anchor="middle" font-size="7.6">3</text>
<line x1="194.2" y1="702.1" x2="194.2" y2="704.7" stroke="#333" stroke-width="0.7"/>
<text x="194.2" y="712.42" text-anchor="middle" font-size="7.6">4</text>
<text x="151.5" y="719.11" text-anchor="middle" font-size="8.7" textLength="19.9" lengthAdjust="spacingAndGlyphs">Week</text>
<text transform="rotate(-90 64.8 660.2)" x="64.8" y="660.2" text-anchor="middle" font-size="8.6" fill="#231f20">Tumor volume(mm<tspan font-size="6" dy="-3.2">3</tspan><tspan dy="3.2"> )</tspan></text>
<polyline points="106.1,701.03 135.4,676.33 164.8,661.3 194.2,645.73" fill="none" stroke="#1a1a1a" stroke-width="0.8"/>
<line x1="135.4" y1="665.59" x2="135.4" y2="687.07" stroke="#1a1a1a" stroke-width="0.7"/>
<line x1="133.4" y1="665.59" x2="137.4" y2="665.59" stroke="#1a1a1a" stroke-width="0.7"/>
<line x1="133.4" y1="687.07" x2="137.4" y2="687.07" stroke="#1a1a1a" stroke-width="0.7"/>
<line x1="164.8" y1="647.34" x2="164.8" y2="675.26" stroke="#1a1a1a" stroke-width="0.7"/>
<line x1="162.8" y1="647.34" x2="166.8" y2="647.34" stroke="#1a1a1a" stroke-width="0.7"/>
<line x1="162.8" y1="675.26" x2="166.8" y2="675.26" stroke="#1a1a1a" stroke-width="0.7"/>
<line x1="194.2" y1="626.4" x2="194.2" y2="665.06" stroke="#1a1a1a" stroke-width="0.7"/>
<line x1="192.2" y1="626.4" x2="196.2" y2="626.4" stroke="#1a1a1a" stroke-width="0.7"/>
<line x1="192.2" y1="665.06" x2="196.2" y2="665.06" stroke="#1a1a1a" stroke-width="0.7"/>
<polyline points="106.1,700.81 135.4,687.07 164.8,679.55 194.2,669.35" fill="none" stroke="#3cb44b" stroke-width="0.8"/>
<line x1="135.4" y1="683.85" x2="135.4" y2="690.29" stroke="#3cb44b" stroke-width="0.7"/>
<line x1="133.4" y1="683.85" x2="137.4" y2="683.85" stroke="#3cb44b" stroke-width="0.7"/>
<line x1="133.4" y1="690.29" x2="137.4" y2="690.29" stroke="#3cb44b" stroke-width="0.7"/>
<line x1="164.8" y1="674.18" x2="164.8" y2="684.92" stroke="#3cb44b" stroke-width="0.7"/>
<line x1="162.8" y1="674.18" x2="166.8" y2="674.18" stroke="#3cb44b" stroke-width="0.7"/>
<line x1="162.8" y1="684.92" x2="166.8" y2="684.92" stroke="#3cb44b" stroke-width="0.7"/>
<line x1="194.2" y1="659.15" x2="194.2" y2="679.55" stroke="#3cb44b" stroke-width="0.7"/>
<line x1="192.2" y1="659.15" x2="196.2" y2="659.15" stroke="#3cb44b" stroke-width="0.7"/>
<line x1="192.2" y1="679.55" x2="196.2" y2="679.55" stroke="#3cb44b" stroke-width="0.7"/>
<polyline points="106.1,701.03 135.4,691.9 164.8,682.77 194.2,674.72" fill="none" stroke="#7dc0ea" stroke-width="0.8"/>
<line x1="135.4" y1="688.14" x2="135.4" y2="695.66" stroke="#7dc0ea" stroke-width="0.7"/>
<line x1="133.4" y1="688.14" x2="137.4" y2="688.14" stroke="#7dc0ea" stroke-width="0.7"/>
<line x1="133.4" y1="695.66" x2="137.4" y2="695.66" stroke="#7dc0ea" stroke-width="0.7"/>
<line x1="164.8" y1="677.4" x2="164.8" y2="688.14" stroke="#7dc0ea" stroke-width="0.7"/>
<line x1="162.8" y1="677.4" x2="166.8" y2="677.4" stroke="#7dc0ea" stroke-width="0.7"/>
<line x1="162.8" y1="688.14" x2="166.8" y2="688.14" stroke="#7dc0ea" stroke-width="0.7"/>
<line x1="194.2" y1="665.59" x2="194.2" y2="683.85" stroke="#7dc0ea" stroke-width="0.7"/>
<line x1="192.2" y1="665.59" x2="196.2" y2="665.59" stroke="#7dc0ea" stroke-width="0.7"/>
<line x1="192.2" y1="683.85" x2="196.2" y2="683.85" stroke="#7dc0ea" stroke-width="0.7"/>
<polyline points="106.1,701.24 135.4,698.34 164.8,696.19 194.2,692.44" fill="none" stroke="#e8262c" stroke-width="0.8"/>
<line x1="135.4" y1="697.27" x2="135.4" y2="699.42" stroke="#e8262c" stroke-width="0.7"/>
<line x1="133.4" y1="697.27" x2="137.4" y2="697.27" stroke="#e8262c" stroke-width="0.7"/>
<line x1="133.4" y1="699.42" x2="137.4" y2="699.42" stroke="#e8262c" stroke-width="0.7"/>
<line x1="164.8" y1="694.91" x2="164.8" y2="697.48" stroke="#e8262c" stroke-width="0.7"/>
<line x1="162.8" y1="694.91" x2="166.8" y2="694.91" stroke="#e8262c" stroke-width="0.7"/>
<line x1="162.8" y1="697.48" x2="166.8" y2="697.48" stroke="#e8262c" stroke-width="0.7"/>
<line x1="194.2" y1="690.29" x2="194.2" y2="694.58" stroke="#e8262c" stroke-width="0.7"/>
<line x1="192.2" y1="690.29" x2="196.2" y2="690.29" stroke="#e8262c" stroke-width="0.7"/>
<line x1="192.2" y1="694.58" x2="196.2" y2="694.58" stroke="#e8262c" stroke-width="0.7"/>
<rect x="104.2" y="699.13" width="3.8" height="3.8" fill="#1a1a1a"/>
<rect x="133.5" y="674.43" width="3.8" height="3.8" fill="#1a1a1a"/>
<rect x="162.9" y="659.4" width="3.8" height="3.8" fill="#1a1a1a"/>
<rect x="192.3" y="643.83" width="3.8" height="3.8" fill="#1a1a1a"/>
<path d="M103.9 699.21L108.3 699.21L106.1 703.01Z" fill="#3cb44b"/>
<path d="M133.2 685.47L137.6 685.47L135.4 689.27Z" fill="#3cb44b"/>
<path d="M162.6 677.95L167 677.95L164.8 681.75Z" fill="#3cb44b"/>
<path d="M192 667.75L196.4 667.75L194.2 671.55Z" fill="#3cb44b"/>
<circle cx="106.1" cy="701.03" r="2" fill="#7dc0ea"/>
<circle cx="135.4" cy="691.9" r="2" fill="#7dc0ea"/>
<circle cx="164.8" cy="682.77" r="2" fill="#7dc0ea"/>
<circle cx="194.2" cy="674.72" r="2" fill="#7dc0ea"/>
<path d="M106.1 699.04L108.1 701.24L106.1 703.44L104.1 701.24Z" fill="#e8262c"/>
<path d="M135.4 696.14L137.4 698.34L135.4 700.54L133.4 698.34Z" fill="#e8262c"/>
<path d="M164.8 693.99L166.8 696.19L164.8 698.39L162.8 696.19Z" fill="#e8262c"/>
<path d="M194.2 690.24L196.2 692.44L194.2 694.64L192.2 692.44Z" fill="#e8262c"/>
<line x1="91.3" y1="612.3" x2="99.5" y2="612.3" stroke="#7dc0ea" stroke-width="0.8"/>
<circle cx="95.1" cy="612.3" r="1.9" fill="#7dc0ea"/>
<text x="101.4" y="614.7" font-size="6.7" textLength="19.7" lengthAdjust="spacingAndGlyphs">sh-Ctrl</text>
<line x1="91.3" y1="620.3" x2="99.5" y2="620.3" stroke="#1a1a1a" stroke-width="0.8"/>
<rect x="93.3" y="618.5" width="3.6" height="3.6" fill="#1a1a1a"/>
<text x="101.4" y="622.7" font-size="6.7" textLength="48.7" lengthAdjust="spacingAndGlyphs">sh-Ctrl+LAM332</text>
<line x1="91.3" y1="630" x2="99.5" y2="630" stroke="#e8262c" stroke-width="0.8"/>
<path d="M95.1 627.91L97 630L95.1 632.09L93.2 630Z" fill="#e8262c"/>
<text x="101.4" y="632.4" font-size="6.7" textLength="28.5" lengthAdjust="spacingAndGlyphs">sh-ITGA3</text>
<line x1="91.3" y1="639" x2="99.5" y2="639" stroke="#3cb44b" stroke-width="0.8"/>
<path d="M93.01 637.48L97.19 637.48L95.1 641.09Z" fill="#3cb44b"/>
<text x="101.4" y="641.4" font-size="6.7" textLength="55.5" lengthAdjust="spacingAndGlyphs">sh-ITGA3+LAM332</text>
<path d="M196.9 645.5H201.3V668.1H196.9" stroke="#555" stroke-width="0.8" fill="none"/>
<text x="204.7" y="663.02" text-anchor="middle" fill="#555" font-size="8.5">*</text>
<path d="M203.1 668.1H206.6V675H203.1" stroke="#555" stroke-width="0.8" fill="none"/>
<text x="212.3" y="674.4" text-anchor="middle" fill="#555" font-size="7.4" textLength="9.5" lengthAdjust="spacingAndGlyphs">n.s.</text>
<path d="M196.9 674.3H201.3V692.6H196.9" stroke="#555" stroke-width="0.8" fill="none"/>
<text x="206.4" y="688.48" text-anchor="middle" fill="#555" font-size="9">**</text>
<path d="M215.2 646.4H219.6V674.3H215.2" stroke="#555" stroke-width="0.8" fill="none"/>
<text x="224.3" y="663.28" text-anchor="middle" fill="#555" font-size="9">**</text>
<path d="M222.1 668.3H225.9V693.3H222.1" stroke="#555" stroke-width="0.8" fill="none"/>
<text x="231.6" y="686.98" text-anchor="middle" fill="#555" font-size="9">**</text>
<text x="234.4" y="610.5" font-weight="bold" fill="#000" font-size="15.5">L</text>
<line x1="285.5" y1="613.4" x2="285.5" y2="707.3" stroke="#555" stroke-width="0.8"/>
<line x1="285.5" y1="707.3" x2="402.9" y2="707.3" stroke="#555" stroke-width="0.8"/>
<line x1="282.9" y1="707.3" x2="285.5" y2="707.3" stroke="#555" stroke-width="0.7"/>
<text x="280.2" y="709.81" text-anchor="end" fill="#333" font-size="7">0.0</text>
<line x1="282.9" y1="676.06" x2="285.5" y2="676.06" stroke="#555" stroke-width="0.7"/>
<text x="280.2" y="678.57" text-anchor="end" fill="#333" font-size="7">0.2</text>
<line x1="282.9" y1="644.82" x2="285.5" y2="644.82" stroke="#555" stroke-width="0.7"/>
<text x="280.2" y="647.33" text-anchor="end" fill="#333" font-size="7">0.4</text>
<line x1="282.9" y1="613.58" x2="285.5" y2="613.58" stroke="#555" stroke-width="0.7"/>
<text x="280.2" y="616.09" text-anchor="end" fill="#333" font-size="7">0.6</text>
<text x="261.35" y="657.4" text-anchor="middle" font-size="8.8" transform="rotate(-90 261.35 657.4)" textLength="64.8" lengthAdjust="spacingAndGlyphs">Tumor weight(g)</text>
<line x1="302.95" y1="676.6" x2="302.95" y2="669.6" stroke="#666" stroke-width="0.8"/>
<line x1="299.75" y1="669.6" x2="306.15" y2="669.6" stroke="#666" stroke-width="0.8"/>
<rect x="294.3" y="676.6" width="17.3" height="30.7" fill="#4a8cc6" stroke="#333" stroke-width="0.8"/>
<line x1="330.1" y1="645.5" x2="330.1" y2="627.7" stroke="#666" stroke-width="0.8"/>
<line x1="326.9" y1="627.7" x2="333.3" y2="627.7" stroke="#666" stroke-width="0.8"/>
<rect x="321.4" y="645.5" width="17.4" height="61.8" fill="#58b2d1" stroke="#333" stroke-width="0.8"/>
<line x1="357.1" y1="695.4" x2="357.1" y2="692" stroke="#666" stroke-width="0.8"/>
<line x1="353.9" y1="692" x2="360.3" y2="692" stroke="#666" stroke-width="0.8"/>
<rect x="348.8" y="695.4" width="16.6" height="11.9" fill="#e5c53c" stroke="#333" stroke-width="0.8"/>
<line x1="384.4" y1="671.3" x2="384.4" y2="666.6" stroke="#666" stroke-width="0.8"/>
<line x1="381.2" y1="666.6" x2="387.6" y2="666.6" stroke="#666" stroke-width="0.8"/>
<rect x="376.1" y="671.3" width="16.6" height="36" fill="#e2894a" stroke="#333" stroke-width="0.8"/>
<path d="M304.6 616.1V613.1H384.9V616.1" stroke="#555" stroke-width="0.8" fill="none"/>
<text x="342.4" y="612.9" text-anchor="middle" fill="#444" font-size="9" style="font-family:Liberation Serif">n.s.</text>
<path d="M304.6 626.3V622.8H329.7V626.3" stroke="#555" stroke-width="0.8" fill="none"/>
<text x="315.7" y="626.74" text-anchor="middle" fill="#555" font-size="12">***</text>
<path d="M329.7 622.4V619.6H384.9V622.4" stroke="#555" stroke-width="0.8" fill="none"/>
<text x="356" y="622.72" text-anchor="middle" fill="#555" font-size="11">**</text>
<path d="M358.9 664.5V661.8H384.9V664.5" stroke="#555" stroke-width="0.8" fill="none"/>
<text x="370" y="664.72" text-anchor="middle" fill="#555" font-size="11">**</text>
<rect x="401.4" y="609.3" width="10.3" height="4.8" fill="#4a8cc6" stroke="#444" stroke-width="0.6"/>
<text x="413.4" y="614.64" font-size="8.2" textLength="24.3" lengthAdjust="spacingAndGlyphs">sh-Ctrl</text>
<rect x="401.4" y="621.5" width="10.3" height="4.8" fill="#58b2d1" stroke="#444" stroke-width="0.6"/>
<text x="413.4" y="626.84" font-size="8.2" textLength="60" lengthAdjust="spacingAndGlyphs">sh-Ctrl+LAM332</text>
<rect x="401.4" y="635" width="10.3" height="4.8" fill="#e5c53c" stroke="#444" stroke-width="0.6"/>
<text x="413.4" y="640.34" font-size="8.2" textLength="35.4" lengthAdjust="spacingAndGlyphs">sh-ITGA3</text>
<rect x="401.4" y="647.2" width="10.3" height="4.8" fill="#e2894a" stroke="#444" stroke-width="0.6"/>
<text x="413.4" y="652.54" font-size="8.2" textLength="71" lengthAdjust="spacingAndGlyphs">sh-ITGA3+LAM332</text>
<text x="4.2" y="734.1" font-weight="bold" fill="#000" font-size="16">M</text>
<text x="133.9" y="727.89" text-anchor="middle" font-size="9.2" textLength="11.7" lengthAdjust="spacingAndGlyphs">HE</text>
<text x="231.6" y="727.89" text-anchor="middle" font-size="9.2" textLength="20.3" lengthAdjust="spacingAndGlyphs">Ki-67</text>
<text x="336.1" y="727.89" text-anchor="middle" font-size="9.2" textLength="43.3" lengthAdjust="spacingAndGlyphs">E-cadherin</text>
<text x="435" y="727.89" text-anchor="middle" font-size="9.2" textLength="34.7" lengthAdjust="spacingAndGlyphs">Vimentin</text>
<text x="80.3" y="760.59" text-anchor="end" font-size="9.2" textLength="27" lengthAdjust="spacingAndGlyphs">sh-Ctrl</text>
<text x="80.3" y="811.69" text-anchor="end" font-size="9.2" textLength="66.8" lengthAdjust="spacingAndGlyphs">sh-Ctrl+LAM332</text>
<text x="80.3" y="863.29" text-anchor="end" font-size="9.2" textLength="36.4" lengthAdjust="spacingAndGlyphs">sh-ITGA3</text>
<text x="80.3" y="917.99" text-anchor="end" font-size="9.2" textLength="78.8" lengthAdjust="spacingAndGlyphs">sh-ITGA3+LAM332</text>
<defs>
<filter id="fM00" x="0" y="0" width="1" height="1" color-interpolation-filters="sRGB"><feTurbulence type="fractalNoise" baseFrequency="0.035" numOctaves="2" seed="6" result="n0"/><feColorMatrix in="n0" type="matrix" values="0 0 0 0 0.91 0 0 0 0 0.88 0 0 0 0 0.95 3 0 0 0 -1.65" result="m0"/><feComponentTransfer in="m0" result="m0"><feFuncA type="linear" slope="0.3"/></feComponentTransfer><feTurbulence type="fractalNoise" baseFrequency="0.7" numOctaves="1" seed="1" result="n1"/><feColorMatrix in="n1" type="matrix" values="0 0 0 0 0.97 0 0 0 0 0.95 0 0 0 0 0.99 3 0 0 0 -1.41" result="m1"/><feComponentTransfer in="m1" result="m1"><feFuncA type="linear" slope="0.75"/></feComponentTransfer><feTurbulence type="fractalNoise" baseFrequency="0.6" numOctaves="1" seed="2" result="n2"/><feColorMatrix in="n2" type="matrix" values="0 0 0 0 0.63 0 0 0 0 0.54 0 0 0 0 0.77 2.5 0 0 0 -1.25" result="m2"/><feComponentTransfer in="m2" result="m2"><feFuncA type="linear" slope="0.5"/></feComponentTransfer><feTurbulence type="fractalNoise" baseFrequency="0.15" numOctaves="2" seed="10" result="n3"/><feColorMatrix in="n3" type="matrix" values="0 0 0 0 0.61 0 0 0 0 0.52 0 0 0 0 0.75 3 0 0 0 -1.5" result="m3"/><feComponentTransfer in="m3" result="m3"><feFuncA type="linear" slope="0.35"/></feComponentTransfer><feMerge><feMergeNode in="SourceGraphic"/><feMergeNode in="m0"/><feMergeNode in="m1"/><feMergeNode in="m2"/><feMergeNode in="m3"/></feMerge></filter>
<filter id="fM01" x="0" y="0" width="1" height="1" color-interpolation-filters="sRGB"><feTurbulence type="fractalNoise" baseFrequency="0.05" numOctaves="2" seed="16" result="n0"/><feColorMatrix in="n0" type="matrix" values="0 0 0 0 0.8 0 0 0 0 0.7 0 0 0 0 0.63 2 0 0 0 -1" result="m0"/><feComponentTransfer in="m0" result="m0"><feFuncA type="linear" slope="0.2"/></feComponentTransfer><feTurbulence type="fractalNoise" baseFrequency="0.6" numOctaves="2" seed="11" result="n1"/><feColorMatrix in="n1" type="matrix" values="0 0 0 0 0.66 0 0 0 0 0.44 0 0 0 0 0.3 3.5 0 0 0 -1.71" result="m1"/><feComponentTransfer in="m1" result="m1"><feFuncA type="linear" slope="0.8"/></feComponentTransfer><feTurbulence type="fractalNoise" baseFrequency="0.7" numOctaves="1" seed="12" result="n2"/><feColorMatrix in="n2" type="matrix" values="0 0 0 0 1 0 0 0 0 1 0 0 0 0 1 2.5 0 0 0 -1.12" result="m2"/><feComponentTransfer in="m2" result="m2"><feFuncA type="linear" slope="0.5"/></feComponentTransfer><feMerge><feMergeNode in="SourceGraphic"/><feMergeNode in="m0"/><feMergeNode in="m1"/><feMergeNode in="m2"/></feMerge></filter>
<filter id="fM02" x="0" y="0" width="1" height="1" color-interpolation-filters="sRGB"><feTurbulence type="fractalNoise" baseFrequency="0.04" numOctaves="2" seed="26" result="n0"/><feColorMatrix in="n0" type="matrix" values="0 0 0 0 0.69 0 0 0 0 0.66 0 0 0 0 0.66 2 0 0 0 -1" result="m0"/><feComponentTransfer in="m0" result="m0"><feFuncA type="linear" slope="0.3"/></feComponentTransfer><feTurbulence type="fractalNoise" baseFrequency="0.035 0.3" numOctaves="2" seed="28" result="n1"/><feColorMatrix in="n1" type="matrix" values="0 0 0 0 0.95 0 0 0 0 0.95 0 0 0 0 0.96 6 0 0 0 -3.6" result="m1"/><feComponentTransfer in="m1" result="m1"><feFuncA type="linear" slope="0.6"/></feComponentTransfer><feTurbulence type="fractalNoise" baseFrequency="0.7" numOctaves="1" seed="21" result="n2"/><feColorMatrix in="n2" type="matrix" values="0 0 0 0 0.95 0 0 0 0 0.95 0 0 0 0 0.96 2.5 0 0 0 -1.12" result="m2"/><feComponentTransfer in="m2" result="m2"><feFuncA type="linear" slope="0.5"/></feComponentTransfer><feTurbulence type="fractalNoise" baseFrequency="0.7" numOctaves="1" seed="22" result="n3"/><feColorMatrix in="n3" type="matrix" values="0 0 0 0 0.69 0 0 0 0 0.66 0 0 0 0 0.66 2.5 0 0 0 -1.12" result="m3"/><feComponentTransfer in="m3" result="m3"><feFuncA type="linear" slope="0.45"/></feComponentTransfer><feMerge><feMergeNode in="SourceGraphic"/><feMergeNode in="m0"/><feMergeNode in="m1"/><feMergeNode in="m2"/><feMergeNode in="m3"/></feMerge></filter>
<filter id="fM03" x="0" y="0" width="1" height="1" color-interpolation-filters="sRGB"><feTurbulence type="fractalNoise" baseFrequency="0.04" numOctaves="2" seed="36" result="n0"/><feColorMatrix in="n0" type="matrix" values="0 0 0 0 0.69 0 0 0 0 0.6 0 0 0 0 0.53 2 0 0 0 -1" result="m0"/><feComponentTransfer in="m0" result="m0"><feFuncA type="linear" slope="0.3"/></feComponentTransfer><feTurbulence type="fractalNoise" baseFrequency="0.035 0.3" numOctaves="2" seed="38" result="n1"/><feColorMatrix in="n1" type="matrix" values="0 0 0 0 0.96 0 0 0 0 0.95 0 0 0 0 0.94 6 0 0 0 -3.6" result="m1"/><feComponentTransfer in="m1" result="m1"><feFuncA type="linear" slope="0.6"/></feComponentTransfer><feTurbulence type="fractalNoise" baseFrequency="0.7" numOctaves="1" seed="31" result="n2"/><feColorMatrix in="n2" type="matrix" values="0 0 0 0 0.96 0 0 0 0 0.95 0 0 0 0 0.94 2.5 0 0 0 -1.12" result="m2"/><feComponentTransfer in="m2" result="m2"><feFuncA type="linear" slope="0.5"/></feComponentTransfer><feTurbulence type="fractalNoise" baseFrequency="0.7" numOctaves="1" seed="32" result="n3"/><feColorMatrix in="n3" type="matrix" values="0 0 0 0 0.69 0 0 0 0 0.6 0 0 0 0 0.53 2.5 0 0 0 -1.12" result="m3"/><feComponentTransfer in="m3" result="m3"><feFuncA type="linear" slope="0.45"/></feComponentTransfer><feMerge><feMergeNode in="SourceGraphic"/><feMergeNode in="m0"/><feMergeNode in="m1"/><feMergeNode in="m2"/><feMergeNode in="m3"/></feMerge></filter>
<filter id="fM10" x="0" y="0" width="1" height="1" color-interpolation-filters="sRGB"><feTurbulence type="fractalNoise" baseFrequency="0.035" numOctaves="2" seed="7" result="n0"/><feColorMatrix in="n0" type="matrix" values="0 0 0 0 0.91 0 0 0 0 0.88 0 0 0 0 0.95 3 0 0 0 -1.65" result="m0"/><feComponentTransfer in="m0" result="m0"><feFuncA type="linear" slope="0.3"/></feComponentTransfer><feTurbulence type="fractalNoise" baseFrequency="0.7" numOctaves="1" seed="2" result="n1"/><feColorMatrix in="n1" type="matrix" values="0 0 0 0 0.97 0 0 0 0 0.95 0 0 0 0 0.99 3 0 0 0 -1.41" result="m1"/><feComponentTransfer in="m1" result="m1"><feFuncA type="linear" slope="0.75"/></feComponentTransfer><feTurbulence type="fractalNoise" baseFrequency="0.6" numOctaves="1" seed="3" result="n2"/><feColorMatrix in="n2" type="matrix" values="0 0 0 0 0.63 0 0 0 0 0.54 0 0 0 0 0.77 2.5 0 0 0 -1.25" result="m2"/><feComponentTransfer in="m2" result="m2"><feFuncA type="linear" slope="0.5"/></feComponentTransfer><feTurbulence type="fractalNoise" baseFrequency="0.15" numOctaves="2" seed="11" result="n3"/><feColorMatrix in="n3" type="matrix" values="0 0 0 0 0.61 0 0 0 0 0.52 0 0 0 0 0.75 3 0 0 0 -1.5" result="m3"/><feComponentTransfer in="m3" result="m3"><feFuncA type="linear" slope="0.35"/></feComponentTransfer><feMerge><feMergeNode in="SourceGraphic"/><feMergeNode in="m0"/><feMergeNode in="m1"/><feMergeNode in="m2"/><feMergeNode in="m3"/></feMerge></filter>
<filter id="fM11" x="0" y="0" width="1" height="1" color-interpolation-filters="sRGB"><feTurbulence type="fractalNoise" baseFrequency="0.05" numOctaves="2" seed="17" result="n0"/><feColorMatrix in="n0" type="matrix" values="0 0 0 0 0.8 0 0 0 0 0.7 0 0 0 0 0.63 2 0 0 0 -1" result="m0"/><feComponentTransfer in="m0" result="m0"><feFuncA type="linear" slope="0.45"/></feComponentTransfer><feTurbulence type="fractalNoise" baseFrequency="0.6" numOctaves="2" seed="12" result="n1"/><feColorMatrix in="n1" type="matrix" values="0 0 0 0 0.66 0 0 0 0 0.44 0 0 0 0 0.3 3.5 0 0 0 -1.57" result="m1"/><feComponentTransfer in="m1" result="m1"><feFuncA type="linear" slope="0.8"/></feComponentTransfer><feTurbulence type="fractalNoise" baseFrequency="0.7" numOctaves="1" seed="13" result="n2"/><feColorMatrix in="n2" type="matrix" values="0 0 0 0 1 0 0 0 0 1 0 0 0 0 1 2.5 0 0 0 -1.12" result="m2"/><feComponentTransfer in="m2" result="m2"><feFuncA type="linear" slope="0.5"/></feComponentTransfer><feMerge><feMergeNode in="SourceGraphic"/><feMergeNode in="m0"/><feMergeNode in="m1"/><feMergeNode in="m2"/></feMerge></filter>
<filter id="fM12" x="0" y="0" width="1" height="1" color-interpolation-filters="sRGB"><feTurbulence type="fractalNoise" baseFrequency="0.04" numOctaves="2" seed="27" result="n0"/><feColorMatrix in="n0" type="matrix" values="0 0 0 0 0.66 0 0 0 0 0.68 0 0 0 0 0.82 2 0 0 0 -1" result="m0"/><feComponentTransfer in="m0" result="m0"><feFuncA type="linear" slope="0.3"/></feComponentTransfer><feTurbulence type="fractalNoise" baseFrequency="0.035 0.3" numOctaves="2" seed="29" result="n1"/><feColorMatrix in="n1" type="matrix" values="0 0 0 0 0.96 0 0 0 0 0.96 0 0 0 0 0.98 6 0 0 0 -3.6" result="m1"/><feComponentTransfer in="m1" result="m1"><feFuncA type="linear" slope="0.6"/></feComponentTransfer><feTurbulence type="fractalNoise" baseFrequency="0.7" numOctaves="1" seed="22" result="n2"/><feColorMatrix in="n2" type="matrix" values="0 0 0 0 0.96 0 0 0 0 0.96 0 0 0 0 0.98 2.5 0 0 0 -1.12" result="m2"/><feComponentTransfer in="m2" result="m2"><feFuncA type="linear" slope="0.5"/></feComponentTransfer><feTurbulence type="fractalNoise" baseFrequency="0.7" numOctaves="1" seed="23" result="n3"/><feColorMatrix in="n3" type="matrix" values="0 0 0 0 0.66 0 0 0 0 0.68 0 0 0 0 0.82 2.5 0 0 0 -1.12" result="m3"/><feComponentTransfer in="m3" result="m3"><feFuncA type="linear" slope="0.45"/></feComponentTransfer><feMerge><feMergeNode in="SourceGraphic"/><feMergeNode in="m0"/><feMergeNode in="m1"/><feMergeNode in="m2"/><feMergeNode in="m3"/></feMerge></filter>
<filter id="fM13" x="0" y="0" width="1" height="1" color-interpolation-filters="sRGB"><feTurbulence type="fractalNoise" baseFrequency="0.04" numOctaves="2" seed="37" result="n0"/><feColorMatrix in="n0" type="matrix" values="0 0 0 0 0.48 0 0 0 0 0.38 0 0 0 0 0.35 2 0 0 0 -1" result="m0"/><feComponentTransfer in="m0" result="m0"><feFuncA type="linear" slope="0.3"/></feComponentTransfer><feTurbulence type="fractalNoise" baseFrequency="0.035 0.3" numOctaves="2" seed="39" result="n1"/><feColorMatrix in="n1" type="matrix" values="0 0 0 0 0.89 0 0 0 0 0.86 0 0 0 0 0.86 6 0 0 0 -3.6" result="m1"/><feComponentTransfer in="m1" result="m1"><feFuncA type="linear" slope="0.4"/></feComponentTransfer><feTurbulence type="fractalNoise" baseFrequency="0.7" numOctaves="1" seed="32" result="n2"/><feColorMatrix in="n2" type="matrix" values="0 0 0 0 0.89 0 0 0 0 0.86 0 0 0 0 0.86 2.5 0 0 0 -1.12" result="m2"/><feComponentTransfer in="m2" result="m2"><feFuncA type="linear" slope="0.5"/></feComponentTransfer><feTurbulence type="fractalNoise" baseFrequency="0.7" numOctaves="1" seed="33" result="n3"/><feColorMatrix in="n3" type="matrix" values="0 0 0 0 0.48 0 0 0 0 0.38 0 0 0 0 0.35 2.5 0 0 0 -1.12" result="m3"/><feComponentTransfer in="m3" result="m3"><feFuncA type="linear" slope="0.5"/></feComponentTransfer><feMerge><feMergeNode in="SourceGraphic"/><feMergeNode in="m0"/><feMergeNode in="m1"/><feMergeNode in="m2"/><feMergeNode in="m3"/></feMerge></filter>
<filter id="fM20" x="0" y="0" width="1" height="1" color-interpolation-filters="sRGB"><feTurbulence type="fractalNoise" baseFrequency="0.035" numOctaves="2" seed="8" result="n0"/><feColorMatrix in="n0" type="matrix" values="0 0 0 0 0.91 0 0 0 0 0.88 0 0 0 0 0.95 3 0 0 0 -1.65" result="m0"/><feComponentTransfer in="m0" result="m0"><feFuncA type="linear" slope="0.8"/></feComponentTransfer><feTurbulence type="fractalNoise" baseFrequency="0.7" numOctaves="1" seed="3" result="n1"/><feColorMatrix in="n1" type="matrix" values="0 0 0 0 0.97 0 0 0 0 0.95 0 0 0 0 0.99 3 0 0 0 -1.26" result="m1"/><feComponentTransfer in="m1" result="m1"><feFuncA type="linear" slope="0.85"/></feComponentTransfer><feTurbulence type="fractalNoise" baseFrequency="0.6" numOctaves="1" seed="4" result="n2"/><feColorMatrix in="n2" type="matrix" values="0 0 0 0 0.63 0 0 0 0 0.54 0 0 0 0 0.77 2.5 0 0 0 -1.25" result="m2"/><feComponentTransfer in="m2" result="m2"><feFuncA type="linear" slope="0.5"/></feComponentTransfer><feTurbulence type="fractalNoise" baseFrequency="0.15" numOctaves="2" seed="12" result="n3"/><feColorMatrix in="n3" type="matrix" values="0 0 0 0 0.61 0 0 0 0 0.52 0 0 0 0 0.75 3 0 0 0 -1.5" result="m3"/><feComponentTransfer in="m3" result="m3"><feFuncA type="linear" slope="0.35"/></feComponentTransfer><feMerge><feMergeNode in="SourceGraphic"/><feMergeNode in="m0"/><feMergeNode in="m1"/><feMergeNode in="m2"/><feMergeNode in="m3"/></feMerge></filter>
<filter id="fM21" x="0" y="0" width="1" height="1" color-interpolation-filters="sRGB"><feTurbulence type="fractalNoise" baseFrequency="0.05" numOctaves="2" seed="18" result="n0"/><feColorMatrix in="n0" type="matrix" values="0 0 0 0 0.8 0 0 0 0 0.7 0 0 0 0 0.63 2 0 0 0 -1" result="m0"/><feComponentTransfer in="m0" result="m0"><feFuncA type="linear" slope="0.15"/></feComponentTransfer><feTurbulence type="fractalNoise" baseFrequency="0.6" numOctaves="2" seed="13" result="n1"/><feColorMatrix in="n1" type="matrix" values="0 0 0 0 0.66 0 0 0 0 0.44 0 0 0 0 0.3 3.5 0 0 0 -1.82" result="m1"/><feComponentTransfer in="m1" result="m1"><feFuncA type="linear" slope="0.8"/></feComponentTransfer><feTurbulence type="fractalNoise" baseFrequency="0.7" numOctaves="1" seed="14" result="n2"/><feColorMatrix in="n2" type="matrix" values="0 0 0 0 1 0 0 0 0 1 0 0 0 0 1 2.5 0 0 0 -1.12" result="m2"/><feComponentTransfer in="m2" result="m2"><feFuncA type="linear" slope="0.5"/></feComponentTransfer><feMerge><feMergeNode in="SourceGraphic"/><feMergeNode in="m0"/><feMergeNode in="m1"/><feMergeNode in="m2"/></feMerge></filter>
<filter id="fM22" x="0" y="0" width="1" height="1" color-interpolation-filters="sRGB"><feTurbulence type="fractalNoise" baseFrequency="0.04" numOctaves="2" seed="28" result="n0"/><feColorMatrix in="n0" type="matrix" values="0 0 0 0 0.37 0 0 0 0 0.3 0 0 0 0 0.28 2 0 0 0 -1" result="m0"/><feComponentTransfer in="m0" result="m0"><feFuncA type="linear" slope="0.3"/></feComponentTransfer><feTurbulence type="fractalNoise" baseFrequency="0.035 0.3" numOctaves="2" seed="30" result="n1"/><feColorMatrix in="n1" type="matrix" values="0 0 0 0 0.93 0 0 0 0 0.9 0 0 0 0 0.92 6 0 0 0 -3.6" result="m1"/><feComponentTransfer in="m1" result="m1"><feFuncA type="linear" slope="0.75"/></feComponentTransfer><feTurbulence type="fractalNoise" baseFrequency="0.7" numOctaves="1" seed="23" result="n2"/><feColorMatrix in="n2" type="matrix" values="0 0 0 0 0.93 0 0 0 0 0.9 0 0 0 0 0.92 2.5 0 0 0 -1.12" result="m2"/><feComponentTransfer in="m2" result="m2"><feFuncA type="linear" slope="0.5"/></feComponentTransfer><feTurbulence type="fractalNoise" baseFrequency="0.7" numOctaves="1" seed="24" result="n3"/><feColorMatrix in="n3" type="matrix" values="0 0 0 0 0.37 0 0 0 0 0.3 0 0 0 0 0.28 2.5 0 0 0 -1.12" result="m3"/><feComponentTransfer in="m3" result="m3"><feFuncA type="linear" slope="0.5"/></feComponentTransfer><feMerge><feMergeNode in="SourceGraphic"/><feMergeNode in="m0"/><feMergeNode in="m1"/><feMergeNode in="m2"/><feMergeNode in="m3"/></feMerge></filter>
<filter id="fM23" x="0" y="0" width="1" height="1" color-interpolation-filters="sRGB"><feTurbulence type="fractalNoise" baseFrequency="0.04" numOctaves="2" seed="38" result="n0"/><feColorMatrix in="n0" type="matrix" values="0 0 0 0 0.66 0 0 0 0 0.68 0 0 0 0 0.82 2 0 0 0 -1" result="m0"/><feComponentTransfer in="m0" result="m0"><feFuncA type="linear" slope="0.3"/></feComponentTransfer><feTurbulence type="fractalNoise" baseFrequency="0.035 0.3" numOctaves="2" seed="40" result="n1"/><feColorMatrix in="n1" type="matrix" values="0 0 0 0 0.95 0 0 0 0 0.95 0 0 0 0 0.97 6 0 0 0 -3.6" result="m1"/><feComponentTransfer in="m1" result="m1"><feFuncA type="linear" slope="0.6"/></feComponentTransfer><feTurbulence type="fractalNoise" baseFrequency="0.7" numOctaves="1" seed="33" result="n2"/><feColorMatrix in="n2" type="matrix" values="0 0 0 0 0.95 0 0 0 0 0.95 0 0 0 0 0.97 2.5 0 0 0 -1.12" result="m2"/><feComponentTransfer in="m2" result="m2"><feFuncA type="linear" slope="0.5"/></feComponentTransfer><feTurbulence type="fractalNoise" baseFrequency="0.7" numOctaves="1" seed="34" result="n3"/><feColorMatrix in="n3" type="matrix" values="0 0 0 0 0.66 0 0 0 0 0.68 0 0 0 0 0.82 2.5 0 0 0 -1.12" result="m3"/><feComponentTransfer in="m3" result="m3"><feFuncA type="linear" slope="0.45"/></feComponentTransfer><feMerge><feMergeNode in="SourceGraphic"/><feMergeNode in="m0"/><feMergeNode in="m1"/><feMergeNode in="m2"/><feMergeNode in="m3"/></feMerge></filter>
<filter id="fM30" x="0" y="0" width="1" height="1" color-interpolation-filters="sRGB"><feTurbulence type="fractalNoise" baseFrequency="0.035" numOctaves="2" seed="9" result="n0"/><feColorMatrix in="n0" type="matrix" values="0 0 0 0 0.91 0 0 0 0 0.88 0 0 0 0 0.95 3 0 0 0 -1.65" result="m0"/><feComponentTransfer in="m0" result="m0"><feFuncA type="linear" slope="0.3"/></feComponentTransfer><feTurbulence type="fractalNoise" baseFrequency="0.7" numOctaves="1" seed="4" result="n1"/><feColorMatrix in="n1" type="matrix" values="0 0 0 0 0.97 0 0 0 0 0.95 0 0 0 0 0.99 3 0 0 0 -1.41" result="m1"/><feComponentTransfer in="m1" result="m1"><feFuncA type="linear" slope="0.75"/></feComponentTransfer><feTurbulence type="fractalNoise" baseFrequency="0.6" numOctaves="1" seed="5" result="n2"/><feColorMatrix in="n2" type="matrix" values="0 0 0 0 0.63 0 0 0 0 0.54 0 0 0 0 0.77 2.5 0 0 0 -1.25" result="m2"/><feComponentTransfer in="m2" result="m2"><feFuncA type="linear" slope="0.5"/></feComponentTransfer><feTurbulence type="fractalNoise" baseFrequency="0.15" numOctaves="2" seed="13" result="n3"/><feColorMatrix in="n3" type="matrix" values="0 0 0 0 0.61 0 0 0 0 0.52 0 0 0 0 0.75 3 0 0 0 -1.5" result="m3"/><feComponentTransfer in="m3" result="m3"><feFuncA type="linear" slope="0.35"/></feComponentTransfer><feMerge><feMergeNode in="SourceGraphic"/><feMergeNode in="m0"/><feMergeNode in="m1"/><feMergeNode in="m2"/><feMergeNode in="m3"/></feMerge></filter>
<filter id="fM31" x="0" y="0" width="1" height="1" color-interpolation-filters="sRGB"><feTurbulence type="fractalNoise" baseFrequency="0.05" numOctaves="2" seed="19" result="n0"/><feColorMatrix in="n0" type="matrix" values="0 0 0 0 0.8 0 0 0 0 0.7 0 0 0 0 0.63 2 0 0 0 -1" result="m0"/><feComponentTransfer in="m0" result="m0"><feFuncA type="linear" slope="0.2"/></feComponentTransfer><feTurbulence type="fractalNoise" baseFrequency="0.6" numOctaves="2" seed="14" result="n1"/><feColorMatrix in="n1" type="matrix" values="0 0 0 0 0.66 0 0 0 0 0.44 0 0 0 0 0.3 3.5 0 0 0 -1.68" result="m1"/><feComponentTransfer in="m1" result="m1"><feFuncA type="linear" slope="0.8"/></feComponentTransfer><feTurbulence type="fractalNoise" baseFrequency="0.7" numOctaves="1" seed="15" result="n2"/><feColorMatrix in="n2" type="matrix" values="0 0 0 0 1 0 0 0 0 1 0 0 0 0 1 2.5 0 0 0 -1.12" result="m2"/><feComponentTransfer in="m2" result="m2"><feFuncA type="linear" slope="0.5"/></feComponentTransfer><feMerge><feMergeNode in="SourceGraphic"/><feMergeNode in="m0"/><feMergeNode in="m1"/><feMergeNode in="m2"/></feMerge></filter>
<filter id="fM32" x="0" y="0" width="1" height="1" color-interpolation-filters="sRGB"><feTurbulence type="fractalNoise" baseFrequency="0.04" numOctaves="2" seed="29" result="n0"/><feColorMatrix in="n0" type="matrix" values="0 0 0 0 0.67 0 0 0 0 0.63 0 0 0 0 0.64 2 0 0 0 -1" result="m0"/><feComponentTransfer in="m0" result="m0"><feFuncA type="linear" slope="0.3"/></feComponentTransfer><feTurbulence type="fractalNoise" baseFrequency="0.035 0.3" numOctaves="2" seed="31" result="n1"/><feColorMatrix in="n1" type="matrix" values="0 0 0 0 0.96 0 0 0 0 0.95 0 0 0 0 0.96 6 0 0 0 -3.6" result="m1"/><feComponentTransfer in="m1" result="m1"><feFuncA type="linear" slope="0.6"/></feComponentTransfer><feTurbulence type="fractalNoise" baseFrequency="0.7" numOctaves="1" seed="24" result="n2"/><feColorMatrix in="n2" type="matrix" values="0 0 0 0 0.96 0 0 0 0 0.95 0 0 0 0 0.96 2.5 0 0 0 -1.12" result="m2"/><feComponentTransfer in="m2" result="m2"><feFuncA type="linear" slope="0.5"/></feComponentTransfer><feTurbulence type="fractalNoise" baseFrequency="0.7" numOctaves="1" seed="25" result="n3"/><feColorMatrix in="n3" type="matrix" values="0 0 0 0 0.67 0 0 0 0 0.63 0 0 0 0 0.64 2.5 0 0 0 -1.12" result="m3"/><feComponentTransfer in="m3" result="m3"><feFuncA type="linear" slope="0.45"/></feComponentTransfer><feMerge><feMergeNode in="SourceGraphic"/><feMergeNode in="m0"/><feMergeNode in="m1"/><feMergeNode in="m2"/><feMergeNode in="m3"/></feMerge></filter>
<filter id="fM33" x="0" y="0" width="1" height="1" color-interpolation-filters="sRGB"><feTurbulence type="fractalNoise" baseFrequency="0.04" numOctaves="2" seed="39" result="n0"/><feColorMatrix in="n0" type="matrix" values="0 0 0 0 0.68 0 0 0 0 0.54 0 0 0 0 0.43 2 0 0 0 -1" result="m0"/><feComponentTransfer in="m0" result="m0"><feFuncA type="linear" slope="0.3"/></feComponentTransfer><feTurbulence type="fractalNoise" baseFrequency="0.035 0.3" numOctaves="2" seed="41" result="n1"/><feColorMatrix in="n1" type="matrix" values="0 0 0 0 0.96 0 0 0 0 0.94 0 0 0 0 0.93 6 0 0 0 -3.6" result="m1"/><feComponentTransfer in="m1" result="m1"><feFuncA type="linear" slope="0.6"/></feComponentTransfer><feTurbulence type="fractalNoise" baseFrequency="0.7" numOctaves="1" seed="34" result="n2"/><feColorMatrix in="n2" type="matrix" values="0 0 0 0 0.96 0 0 0 0 0.94 0 0 0 0 0.93 2.5 0 0 0 -1.12" result="m2"/><feComponentTransfer in="m2" result="m2"><feFuncA type="linear" slope="0.5"/></feComponentTransfer><feTurbulence type="fractalNoise" baseFrequency="0.7" numOctaves="1" seed="35" result="n3"/><feColorMatrix in="n3" type="matrix" values="0 0 0 0 0.68 0 0 0 0 0.54 0 0 0 0 0.43 2.5 0 0 0 -1.12" result="m3"/><feComponentTransfer in="m3" result="m3"><feFuncA type="linear" slope="0.45"/></feComponentTransfer><feMerge><feMergeNode in="SourceGraphic"/><feMergeNode in="m0"/><feMergeNode in="m1"/><feMergeNode in="m2"/><feMergeNode in="m3"/></feMerge></filter>
</defs>
<rect x="84.7" y="730.3" width="99.6" height="52.1" fill="#b9a3d5" filter="url(#fM00)"/>
<rect x="85.2" y="730.8" width="98.6" height="51.1" fill="none" stroke="#555" stroke-width="1"/>
<rect x="186.1" y="730.3" width="99.5" height="52.1" fill="#eceaf0" filter="url(#fM01)"/>
<rect x="186.6" y="730.8" width="98.5" height="51.1" fill="none" stroke="#555" stroke-width="1"/>
<clipPath id="cM02"><rect x="287.5" y="730.3" width="99" height="52.1"/></clipPath>
<g clip-path="url(#cM02)"><rect x="279" y="698.35" width="116" height="116" fill="#d6d6de" filter="url(#fM02)" transform="rotate(30 337 756.35)"/></g>
<rect x="288" y="730.8" width="98" height="51.1" fill="none" stroke="#555" stroke-width="1"/>
<clipPath id="cM03"><rect x="388.4" y="730.3" width="99.9" height="52.1"/></clipPath>
<g clip-path="url(#cM03)"><rect x="380.35" y="698.35" width="116" height="116" fill="#dbd4d1" filter="url(#fM03)" transform="rotate(30 438.35 756.35)"/></g>
<rect x="388.9" y="730.8" width="98.9" height="51.1" fill="none" stroke="#555" stroke-width="1"/>
<rect x="84.7" y="783.8" width="99.6" height="52.4" fill="#b9a3d5" filter="url(#fM10)"/>
<rect x="85.2" y="784.3" width="98.6" height="51.4" fill="none" stroke="#555" stroke-width="1"/>
<rect x="186.1" y="783.8" width="99.5" height="52.4" fill="#e6e0e0" filter="url(#fM11)"/>
<rect x="186.6" y="784.3" width="98.5" height="51.4" fill="none" stroke="#555" stroke-width="1"/>
<clipPath id="cM12"><rect x="287.5" y="783.8" width="99" height="52.4"/></clipPath>
<g clip-path="url(#cM12)"><rect x="279" y="752" width="116" height="116" fill="#dbdeea" filter="url(#fM12)" transform="rotate(30 337 810)"/></g>
<rect x="288" y="784.3" width="98" height="51.4" fill="none" stroke="#555" stroke-width="1"/>
<clipPath id="cM13"><rect x="388.4" y="783.8" width="99.9" height="52.4"/></clipPath>
<g clip-path="url(#cM13)"><rect x="380.35" y="752" width="116" height="116" fill="#b1a4a1" filter="url(#fM13)" transform="rotate(30 438.35 810)"/></g>
<rect x="388.9" y="784.3" width="98.9" height="51.4" fill="none" stroke="#555" stroke-width="1"/>
<rect x="84.7" y="838" width="99.6" height="52.3" fill="#b9a3d5" filter="url(#fM20)"/>
<rect x="85.2" y="838.5" width="98.6" height="51.3" fill="none" stroke="#555" stroke-width="1"/>
<rect x="186.1" y="838" width="99.5" height="52.3" fill="#eceaf0" filter="url(#fM21)"/>
<rect x="186.6" y="838.5" width="98.5" height="51.3" fill="none" stroke="#555" stroke-width="1"/>
<clipPath id="cM22"><rect x="287.5" y="838" width="99" height="52.3"/></clipPath>
<g clip-path="url(#cM22)"><rect x="279" y="806.15" width="116" height="116" fill="#9a8a88" filter="url(#fM22)" transform="rotate(30 337 864.15)"/></g>
<rect x="288" y="838.5" width="98" height="51.3" fill="none" stroke="#555" stroke-width="1"/>
<clipPath id="cM23"><rect x="388.4" y="838" width="99.9" height="52.3"/></clipPath>
<g clip-path="url(#cM23)"><rect x="380.35" y="806.15" width="116" height="116" fill="#d6d8e6" filter="url(#fM23)" transform="rotate(30 438.35 864.15)"/></g>
<rect x="388.9" y="838.5" width="98.9" height="51.3" fill="none" stroke="#555" stroke-width="1"/>
<rect x="84.7" y="892.2" width="99.6" height="51.6" fill="#b9a3d5" filter="url(#fM30)"/>
<rect x="85.2" y="892.7" width="98.6" height="50.6" fill="none" stroke="#555" stroke-width="1"/>
<rect x="186.1" y="892.2" width="99.5" height="51.6" fill="#e9e6ea" filter="url(#fM31)"/>
<rect x="186.6" y="892.7" width="98.5" height="50.6" fill="none" stroke="#555" stroke-width="1"/>
<clipPath id="cM32"><rect x="287.5" y="892.2" width="99" height="51.6"/></clipPath>
<g clip-path="url(#cM32)"><rect x="279" y="860" width="116" height="116" fill="#d3d0d6" filter="url(#fM32)" transform="rotate(30 337 918)"/></g>
<rect x="288" y="892.7" width="98" height="50.6" fill="none" stroke="#555" stroke-width="1"/>
<clipPath id="cM33"><rect x="388.4" y="892.2" width="99.9" height="51.6"/></clipPath>
<g clip-path="url(#cM33)"><rect x="380.35" y="860" width="116" height="116" fill="#d6cac2" filter="url(#fM33)" transform="rotate(30 438.35 918)"/></g>
<rect x="388.9" y="892.7" width="98.9" height="50.6" fill="none" stroke="#555" stroke-width="1"/>
<text x="467.5" y="936.56" text-anchor="middle" textLength="20.6" lengthAdjust="spacingAndGlyphs">50µm</text>
<line x1="466.2" y1="940.2" x2="473.6" y2="940.2" stroke="#222" stroke-width="1"/>
<text x="494.6" y="676.2" font-weight="bold" fill="#000" font-size="15.5">N</text>
<line x1="541.4" y1="670.5" x2="541.4" y2="750.1" stroke="#333" stroke-width="0.8"/>
<line x1="541.4" y1="750.1" x2="621.4" y2="750.1" stroke="#333" stroke-width="0.8"/>
<line x1="539" y1="750.1" x2="541.4" y2="750.1" stroke="#333" stroke-width="0.7"/>
<text x="538" y="752.39" text-anchor="end" font-weight="bold" fill="#333" font-size="6.4">0</text>
<line x1="539" y1="734.18" x2="541.4" y2="734.18" stroke="#333" stroke-width="0.7"/>
<text x="538" y="736.47" text-anchor="end" font-weight="bold" fill="#333" font-size="6.4">20</text>
<line x1="539" y1="718.26" x2="541.4" y2="718.26" stroke="#333" stroke-width="0.7"/>
<text x="538" y="720.55" text-anchor="end" font-weight="bold" fill="#333" font-size="6.4">40</text>
<line x1="539" y1="702.34" x2="541.4" y2="702.34" stroke="#333" stroke-width="0.7"/>
<text x="538" y="704.63" text-anchor="end" font-weight="bold" fill="#333" font-size="6.4">60</text>
<line x1="539" y1="686.42" x2="541.4" y2="686.42" stroke="#333" stroke-width="0.7"/>
<text x="538" y="688.71" text-anchor="end" font-weight="bold" fill="#333" font-size="6.4">80</text>
<line x1="539" y1="670.5" x2="541.4" y2="670.5" stroke="#333" stroke-width="0.7"/>
<text x="538" y="672.79" text-anchor="end" font-weight="bold" fill="#333" font-size="6.4">100</text>
<text x="524.16" y="710.3" text-anchor="middle" font-weight="bold" font-size="6.6" transform="rotate(-90 524.16 710.3)" textLength="66.2" lengthAdjust="spacingAndGlyphs">Ki67 positive cells(%)</text>
<line x1="553.6" y1="700.75" x2="553.6" y2="694.38" stroke="#333" stroke-width="0.8"/>
<line x1="550.8" y1="694.38" x2="556.4" y2="694.38" stroke="#333" stroke-width="0.8"/>
<rect x="547.3" y="700.75" width="12.6" height="49.35" fill="#4a8cc6" stroke="#333" stroke-width="0.8"/>
<line x1="572.2" y1="686.02" x2="572.2" y2="684.83" stroke="#333" stroke-width="0.8"/>
<line x1="569.4" y1="684.83" x2="575" y2="684.83" stroke="#333" stroke-width="0.8"/>
<rect x="566.2" y="686.02" width="12" height="64.08" fill="#58b2d1" stroke="#333" stroke-width="0.8"/>
<line x1="590.45" y1="719.45" x2="590.45" y2="712.69" stroke="#333" stroke-width="0.8"/>
<line x1="587.65" y1="712.69" x2="593.25" y2="712.69" stroke="#333" stroke-width="0.8"/>
<rect x="584.2" y="719.45" width="12.5" height="30.65" fill="#e5c53c" stroke="#333" stroke-width="0.8"/>
<line x1="608.7" y1="700.75" x2="608.7" y2="697.56" stroke="#333" stroke-width="0.8"/>
<line x1="605.9" y1="697.56" x2="611.5" y2="697.56" stroke="#333" stroke-width="0.8"/>
<rect x="602.7" y="700.75" width="12" height="49.35" fill="#e2894a" stroke="#333" stroke-width="0.8"/>
<path d="M553.6 670.1V667.5H608.7V670.1" stroke="#444" stroke-width="0.8" fill="none"/>
<text x="581.15" y="665.1" text-anchor="middle" fill="#444" font-size="9">n.s.</text>
<path d="M553.6 680V677.4H572.2V680" stroke="#444" stroke-width="0.8" fill="none"/>
<text x="562.9" y="679.18" text-anchor="middle" fill="#444" font-size="9">*</text>
<path d="M572.2 676.4V673.8H608.7V676.4" stroke="#444" stroke-width="0.8" fill="none"/>
<text x="590.45" y="675.58" text-anchor="middle" fill="#444" font-size="9">*</text>
<path d="M590.4 693.5V690.9H608.7V693.5" stroke="#444" stroke-width="0.8" fill="none"/>
<text x="599.55" y="692.68" text-anchor="middle" fill="#444" font-size="9">**</text>
<rect x="615.9" y="665.3" width="7.2" height="3.4" fill="#4a8cc6" stroke="#333" stroke-width="0.6"/>
<text x="626" y="669" fill="#333" font-size="5.6">sh-Ctrl</text>
<rect x="615.9" y="672.03" width="7.2" height="3.4" fill="#58b2d1" stroke="#333" stroke-width="0.6"/>
<text x="626" y="675.73" fill="#333" font-size="5.6">sh-Ctrl+LAM332</text>
<rect x="615.9" y="678.76" width="7.2" height="3.4" fill="#e5c53c" stroke="#333" stroke-width="0.6"/>
<text x="626" y="682.46" fill="#333" font-size="5.6">sh-ITGA3</text>
<rect x="615.9" y="685.49" width="7.2" height="3.4" fill="#e2894a" stroke="#333" stroke-width="0.6"/>
<text x="626" y="689.19" fill="#333" font-size="5.6">sh-ITGA3+LAM332</text>
<text x="494.8" y="758.6" font-weight="bold" fill="#000" font-size="15.5">O</text>
<line x1="542.3" y1="764" x2="542.3" y2="843.9" stroke="#333" stroke-width="0.8"/>
<line x1="542.3" y1="843.9" x2="622.3" y2="843.9" stroke="#333" stroke-width="0.8"/>
<line x1="539.9" y1="843.9" x2="542.3" y2="843.9" stroke="#333" stroke-width="0.7"/>
<text x="538.9" y="846.19" text-anchor="end" font-weight="bold" fill="#333" font-size="6.4">0.0</text>
<line x1="539.9" y1="827.92" x2="542.3" y2="827.92" stroke="#333" stroke-width="0.7"/>
<text x="538.9" y="830.21" text-anchor="end" font-weight="bold" fill="#333" font-size="6.4">0.5</text>
<line x1="539.9" y1="811.94" x2="542.3" y2="811.94" stroke="#333" stroke-width="0.7"/>
<text x="538.9" y="814.23" text-anchor="end" font-weight="bold" fill="#333" font-size="6.4">1.0</text>
<line x1="539.9" y1="795.96" x2="542.3" y2="795.96" stroke="#333" stroke-width="0.7"/>
<text x="538.9" y="798.25" text-anchor="end" font-weight="bold" fill="#333" font-size="6.4">1.5</text>
<line x1="539.9" y1="779.98" x2="542.3" y2="779.98" stroke="#333" stroke-width="0.7"/>
<text x="538.9" y="782.27" text-anchor="end" font-weight="bold" fill="#333" font-size="6.4">2.0</text>
<line x1="539.9" y1="764" x2="542.3" y2="764" stroke="#333" stroke-width="0.7"/>
<text x="538.9" y="766.29" text-anchor="end" font-weight="bold" fill="#333" font-size="6.4">2.5</text>
<text x="510.86" y="803.95" text-anchor="middle" font-weight="bold" font-size="6.6" transform="rotate(-90 510.86 803.95)" textLength="52.2" lengthAdjust="spacingAndGlyphs">Relative staining</text>
<text x="518.76" y="803.95" text-anchor="middle" font-weight="bold" font-size="6.6" transform="rotate(-90 518.76 803.95)" textLength="71.2" lengthAdjust="spacingAndGlyphs">intensity of E-cadherin</text>
<line x1="554.5" y1="811.94" x2="554.5" y2="803.31" stroke="#333" stroke-width="0.8"/>
<line x1="551.7" y1="803.31" x2="557.3" y2="803.31" stroke="#333" stroke-width="0.8"/>
<rect x="548.2" y="811.94" width="12.6" height="31.96" fill="#4a8cc6" stroke="#333" stroke-width="0.8"/>
<line x1="572.8" y1="829.2" x2="572.8" y2="824.08" stroke="#333" stroke-width="0.8"/>
<line x1="570" y1="824.08" x2="575.6" y2="824.08" stroke="#333" stroke-width="0.8"/>
<rect x="566.8" y="829.2" width="12" height="14.7" fill="#58b2d1" stroke="#333" stroke-width="0.8"/>
<line x1="591.35" y1="791.81" x2="591.35" y2="778.38" stroke="#333" stroke-width="0.8"/>
<line x1="588.55" y1="778.38" x2="594.15" y2="778.38" stroke="#333" stroke-width="0.8"/>
<rect x="585.4" y="791.81" width="11.9" height="52.09" fill="#e5c53c" stroke="#333" stroke-width="0.8"/>
<line x1="609.6" y1="810.02" x2="609.6" y2="803.31" stroke="#333" stroke-width="0.8"/>
<line x1="606.8" y1="803.31" x2="612.4" y2="803.31" stroke="#333" stroke-width="0.8"/>
<rect x="603.6" y="810.02" width="12" height="33.88" fill="#e2894a" stroke="#333" stroke-width="0.8"/>
<path d="M554.5 765V762.4H609.6V765" stroke="#444" stroke-width="0.8" fill="none"/>
<text x="582.05" y="760" text-anchor="middle" fill="#444" font-size="9">n.s.</text>
<path d="M554.5 774V771.4H572.8V774" stroke="#444" stroke-width="0.8" fill="none"/>
<text x="563.65" y="773.18" text-anchor="middle" fill="#444" font-size="9">*</text>
<path d="M572.8 771V768.4H609.6V771" stroke="#444" stroke-width="0.8" fill="none"/>
<text x="591.2" y="770.18" text-anchor="middle" fill="#444" font-size="9">*</text>
<path d="M591.3 776.4V773.8H609.6V776.4" stroke="#444" stroke-width="0.8" fill="none"/>
<text x="600.45" y="775.58" text-anchor="middle" fill="#444" font-size="9">*</text>
<rect x="615.9" y="762.3" width="7.2" height="3.4" fill="#4a8cc6" stroke="#333" stroke-width="0.6"/>
<text x="626" y="766" fill="#333" font-size="5.6">sh-Ctrl</text>
<rect x="615.9" y="769.03" width="7.2" height="3.4" fill="#58b2d1" stroke="#333" stroke-width="0.6"/>
<text x="626" y="772.73" fill="#333" font-size="5.6">sh-Ctrl+LAM332</text>
<rect x="615.9" y="775.76" width="7.2" height="3.4" fill="#e5c53c" stroke="#333" stroke-width="0.6"/>
<text x="626" y="779.46" fill="#333" font-size="5.6">sh-ITGA3</text>
<rect x="615.9" y="782.49" width="7.2" height="3.4" fill="#e2894a" stroke="#333" stroke-width="0.6"/>
<text x="626" y="786.19" fill="#333" font-size="5.6">sh-ITGA3+LAM332</text>
<text x="494.6" y="861.1" font-weight="bold" fill="#000" font-size="15.5">P</text>
<line x1="542.3" y1="863.3" x2="542.3" y2="943.3" stroke="#333" stroke-width="0.8"/>
<line x1="542.3" y1="943.3" x2="622.3" y2="943.3" stroke="#333" stroke-width="0.8"/>
<line x1="539.9" y1="943.3" x2="542.3" y2="943.3" stroke="#333" stroke-width="0.7"/>
<text x="538.9" y="945.59" text-anchor="end" font-weight="bold" fill="#333" font-size="6.4">0.0</text>
<line x1="539.9" y1="927.3" x2="542.3" y2="927.3" stroke="#333" stroke-width="0.7"/>
<text x="538.9" y="929.59" text-anchor="end" font-weight="bold" fill="#333" font-size="6.4">0.5</text>
<line x1="539.9" y1="911.3" x2="542.3" y2="911.3" stroke="#333" stroke-width="0.7"/>
<text x="538.9" y="913.59" text-anchor="end" font-weight="bold" fill="#333" font-size="6.4">1.0</text>
<line x1="539.9" y1="895.3" x2="542.3" y2="895.3" stroke="#333" stroke-width="0.7"/>
<text x="538.9" y="897.59" text-anchor="end" font-weight="bold" fill="#333" font-size="6.4">1.5</text>
<line x1="539.9" y1="879.3" x2="542.3" y2="879.3" stroke="#333" stroke-width="0.7"/>
<text x="538.9" y="881.59" text-anchor="end" font-weight="bold" fill="#333" font-size="6.4">2.0</text>
<line x1="539.9" y1="863.3" x2="542.3" y2="863.3" stroke="#333" stroke-width="0.7"/>
<text x="538.9" y="865.59" text-anchor="end" font-weight="bold" fill="#333" font-size="6.4">2.5</text>
<text x="510.86" y="903.3" text-anchor="middle" font-weight="bold" font-size="6.6" transform="rotate(-90 510.86 903.3)" textLength="52.2" lengthAdjust="spacingAndGlyphs">Relative staining</text>
<text x="518.76" y="903.3" text-anchor="middle" font-weight="bold" font-size="6.6" transform="rotate(-90 518.76 903.3)" textLength="64.6" lengthAdjust="spacingAndGlyphs">intensity of Vimentin</text>
<line x1="555.1" y1="907.14" x2="555.1" y2="894.34" stroke="#333" stroke-width="0.8"/>
<line x1="552.3" y1="894.34" x2="557.9" y2="894.34" stroke="#333" stroke-width="0.8"/>
<rect x="548.8" y="907.14" width="12.6" height="36.16" fill="#4a8cc6" stroke="#333" stroke-width="0.8"/>
<line x1="573.55" y1="879.3" x2="573.55" y2="870.66" stroke="#333" stroke-width="0.8"/>
<line x1="570.75" y1="870.66" x2="576.35" y2="870.66" stroke="#333" stroke-width="0.8"/>
<rect x="567.4" y="879.3" width="12.3" height="64" fill="#58b2d1" stroke="#333" stroke-width="0.8"/>
<line x1="592.25" y1="929.22" x2="592.25" y2="924.1" stroke="#333" stroke-width="0.8"/>
<line x1="589.45" y1="924.1" x2="595.05" y2="924.1" stroke="#333" stroke-width="0.8"/>
<rect x="586.3" y="929.22" width="11.9" height="14.08" fill="#e5c53c" stroke="#333" stroke-width="0.8"/>
<line x1="610.2" y1="905.22" x2="610.2" y2="893.06" stroke="#333" stroke-width="0.8"/>
<line x1="607.4" y1="893.06" x2="613" y2="893.06" stroke="#333" stroke-width="0.8"/>
<rect x="604.2" y="905.22" width="12" height="38.08" fill="#e2894a" stroke="#333" stroke-width="0.8"/>
<path d="M555.1 859.1V856.5H610.2V859.1" stroke="#444" stroke-width="0.8" fill="none"/>
<text x="582.65" y="854.1" text-anchor="middle" fill="#444" font-size="9">n.s.</text>
<path d="M555.1 869.6V867H573.5V869.6" stroke="#444" stroke-width="0.8" fill="none"/>
<text x="564.3" y="868.78" text-anchor="middle" fill="#444" font-size="9">*</text>
<path d="M573.5 865.9V863.3H610.2V865.9" stroke="#444" stroke-width="0.8" fill="none"/>
<text x="591.85" y="865.08" text-anchor="middle" fill="#444" font-size="9">*</text>
<path d="M592.2 890.5V887.9H610.2V890.5" stroke="#444" stroke-width="0.8" fill="none"/>
<text x="601.2" y="889.68" text-anchor="middle" fill="#444" font-size="9">**</text>
<rect x="615.9" y="856.3" width="7.2" height="3.4" fill="#4a8cc6" stroke="#333" stroke-width="0.6"/>
<text x="626" y="860" fill="#333" font-size="5.6">sh-Ctrl</text>
<rect x="615.9" y="863.03" width="7.2" height="3.4" fill="#58b2d1" stroke="#333" stroke-width="0.6"/>
<text x="626" y="866.73" fill="#333" font-size="5.6">sh-Ctrl+LAM332</text>
<rect x="615.9" y="869.76" width="7.2" height="3.4" fill="#e5c53c" stroke="#333" stroke-width="0.6"/>
<text x="626" y="873.46" fill="#333" font-size="5.6">sh-ITGA3</text>
<rect x="615.9" y="876.49" width="7.2" height="3.4" fill="#e2894a" stroke="#333" stroke-width="0.6"/>
<text x="626" y="880.19" fill="#333" font-size="5.6">sh-ITGA3+LAM332</text>
</svg></body></html>
